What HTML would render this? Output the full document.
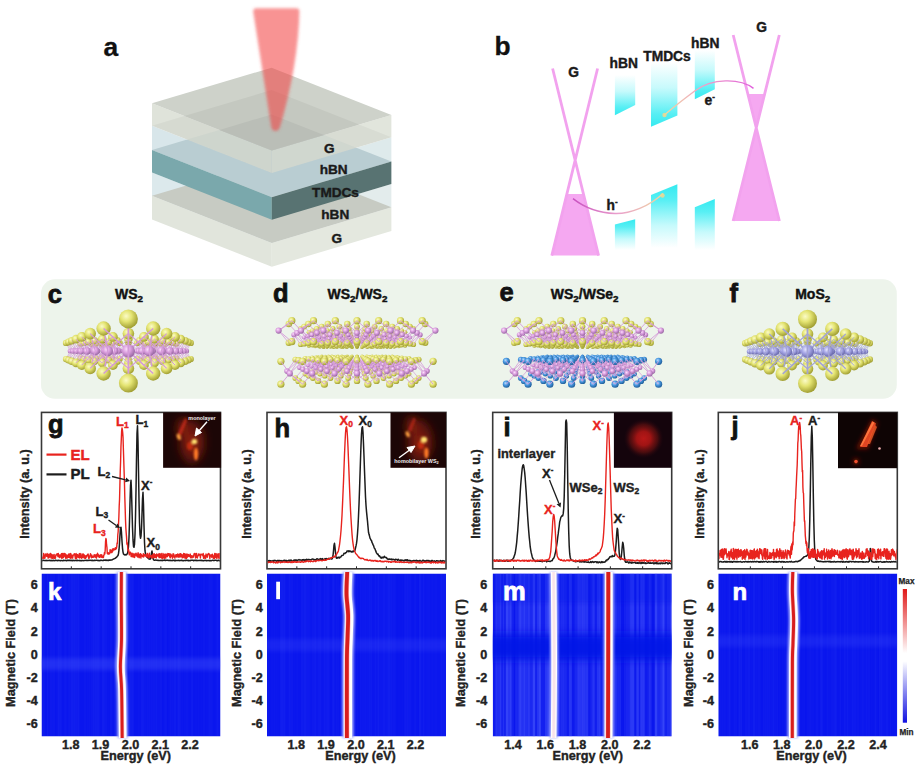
<!DOCTYPE html>
<html><head><meta charset="utf-8"><title>Figure</title>
<style>html,body{margin:0;padding:0;background:#fff;width:920px;height:768px;overflow:hidden;font-family:"Liberation Sans",sans-serif}svg{display:block}</style>
</head><body>
<svg width="920" height="768" viewBox="0 0 920 768">
<defs><linearGradient id="cyU" x1="0" y1="0" x2="0" y2="1"><stop offset="0" stop-color="#44eef4" stop-opacity="0"/><stop offset="0.4" stop-color="#44eef4" stop-opacity="0.3"/><stop offset="0.8" stop-color="#3aecf2" stop-opacity="0.85"/><stop offset="1" stop-color="#34eaf0"/></linearGradient><linearGradient id="cyD" x1="0" y1="0" x2="0" y2="1"><stop offset="0" stop-color="#34eaf0"/><stop offset="0.25" stop-color="#3aecf2" stop-opacity="0.85"/><stop offset="0.65" stop-color="#44eef4" stop-opacity="0.3"/><stop offset="1" stop-color="#44eef4" stop-opacity="0"/></linearGradient><linearGradient id="eArr" x1="1" y1="0" x2="0" y2="0"><stop offset="0" stop-color="#e060dc"/><stop offset="0.55" stop-color="#f0a0c8"/><stop offset="1" stop-color="#f0d8a0"/></linearGradient><linearGradient id="hArr" x1="0" y1="0" x2="1" y2="0"><stop offset="0" stop-color="#c850c0"/><stop offset="0.5" stop-color="#eaa0cc"/><stop offset="1" stop-color="#f0d8a0"/></linearGradient><filter id="ablur" filterUnits="userSpaceOnUse" x="200" y="0" width="150" height="160"><feGaussianBlur stdDeviation="1.6"/></filter></defs>
<polygon points="614.9,75 635.2,75 635.2,104.9 614.9,115.3" fill="url(#cyU)"/>
<polygon points="651,62 677.4,62 677.4,115.5 651,126.8" fill="url(#cyU)"/>
<polygon points="694.8,50 714.8,50 714.8,89.2 694.8,99.3" fill="url(#cyU)"/>
<polygon points="614.9,224.6 635.2,219.2 635.2,250 614.9,250" fill="url(#cyD)"/>
<polygon points="651,195 677.4,184.2 677.4,248 651,248" fill="url(#cyD)"/>
<polygon points="694.8,207.2 714.8,199 714.8,250 694.8,250" fill="url(#cyD)"/>
<polygon points="566.9,193.9 583.3,193.9 598.9,255.6 551.6,255.6" fill="#f5a8f1"/>
<path d="M552.6 68.5L598.6 255.6M597.6 68.5L551.8 255.6" stroke="#f2a2ee" stroke-width="2.8" fill="none"/>
<polygon points="748,93.9 765.6,93.9 756.3,128 779.5,221 733,221 756.1,128" fill="#f5a8f1"/>
<path d="M733.2 35L779.4 221M779.3 35L733.1 221" stroke="#f2a2ee" stroke-width="2.8" fill="none"/>
<path d="M753.5 88.4C740 78 712 78 694.7 91S670 110 664 115.5" stroke="url(#eArr)" stroke-width="1.4" fill="none"/>
<circle cx="664.5" cy="115" r="2.2" fill="#f0d890" opacity="0.85"/>
<path d="M573 198.6C585 208 600 213 615 213.5S650 206 663 193.5" stroke="url(#hArr)" stroke-width="1.4" fill="none"/>
<circle cx="662.5" cy="195.5" r="2.2" fill="#f0d890" opacity="0.85"/>
<text x="573.5" y="76.6" font-size="13.8" fill="#1a1a1a" stroke="#1a1a1a" stroke-width="0.41" text-anchor="middle" font-family="Liberation Sans, sans-serif" font-weight="bold" >G</text>
<text x="761.6" y="32.4" font-size="13.8" fill="#1a1a1a" stroke="#1a1a1a" stroke-width="0.41" text-anchor="middle" font-family="Liberation Sans, sans-serif" font-weight="bold" >G</text>
<text x="623.8" y="67.5" font-size="13.8" fill="#1a1a1a" stroke="#1a1a1a" stroke-width="0.41" text-anchor="middle" font-family="Liberation Sans, sans-serif" font-weight="bold" >hBN</text>
<text x="667" y="61.3" font-size="13.8" fill="#1a1a1a" stroke="#1a1a1a" stroke-width="0.41" text-anchor="middle" font-family="Liberation Sans, sans-serif" font-weight="bold" >TMDCs</text>
<text x="705.2" y="47.5" font-size="13.8" fill="#1a1a1a" stroke="#1a1a1a" stroke-width="0.41" text-anchor="middle" font-family="Liberation Sans, sans-serif" font-weight="bold" >hBN</text>
<text x="704.5" y="104.9" font-size="13.8" fill="#1a1a1a" stroke="#1a1a1a" stroke-width="0.41" text-anchor="start" font-family="Liberation Sans, sans-serif" font-weight="bold" >e<tspan font-size="8" dy="-6">-</tspan></text>
<text x="606.5" y="209.7" font-size="13.8" fill="#1a1a1a" stroke="#1a1a1a" stroke-width="0.41" text-anchor="start" font-family="Liberation Sans, sans-serif" font-weight="bold" >h<tspan font-size="8" dy="-6">-</tspan></text>
<text x="494.6" y="55.4" font-size="26.4" fill="#111" stroke="#111" stroke-width="0.3" text-anchor="start" font-family="Liberation Sans, sans-serif" font-weight="bold" >b</text>
<polygon points="152,195.7 271.8,242.9 271.8,219.7 152,172.5" fill="#dce9ec"/>
<polygon points="391.4,207.3 271.8,242.9 271.8,219.7 391.4,184.1" fill="#e3ecec"/>
<polygon points="152,219.5 271.8,266.7 271.8,242.9 152,195.7" fill="#e1e5dc"/>
<polygon points="391.4,231.1 271.8,266.7 271.8,242.9 391.4,207.3" fill="#e4e8df"/>
<polygon points="271.6,160.1 391.4,207.3 271.8,242.9 152,195.7" fill="#c7cbc3"/>
<polygon points="152,150 271.8,197.2 271.8,172.9 152,125.7" fill="#d8e6ea"/>
<polygon points="391.4,161.6 271.8,197.2 271.8,172.9 391.4,137.3" fill="#deeaeb"/>
<polygon points="271.6,114.4 391.4,161.6 271.8,197.2 152,150" fill="#b9cdd2"/>
<polygon points="152,172.5 271.8,219.7 271.8,197.2 152,150" fill="#7aa8ac"/>
<polygon points="391.4,184.1 271.8,219.7 271.8,197.2 391.4,161.6" fill="#587372"/>
<polygon points="152,125.7 271.8,172.9 271.8,150.5 152,103.3" fill="#dfe3da"/>
<polygon points="391.4,137.3 271.8,172.9 271.8,150.5 391.4,114.9" fill="#e1e5dc"/>
<polygon points="152,125.7 184.39,116.06 271.8,150.5 271.8,172.9 271.8,172.9" fill="#000" fill-opacity="0.04"/>
<polygon points="271.8,150.5 359.01,124.54 391.4,137.3 271.8,172.9 271.8,172.9" fill="#000" fill-opacity="0.04"/>
<polygon points="219.52,129.9 271.8,150.5 271.8,172.9 187.13,139.54" fill="#5a8a96" fill-opacity="0.06"/>
<polygon points="323.88,135 356.27,147.76 271.8,172.9 271.8,150.5" fill="#5a8a96" fill-opacity="0.06"/>
<polygon points="271.6,67.7 391.4,114.9 271.8,150.5 152,103.3" fill="#ced2ca"/>
<polygon points="271.6,90.1 359.01,124.54 271.8,150.5 184.39,116.06" fill="#c4c8c0"/>
<polygon points="271.6,114.4 323.88,135 271.8,150.5 219.52,129.9" fill="#babeb7"/>
<path d="M253.2 11.5Q253 8.2 256.5 8.2L296 8.2Q299.5 8.2 299.4 11.5C298.8 45 292 88 279.5 128.5Q275.5 133.5 271.5 128.5Z" fill="#f23c3c" fill-opacity="0.56" filter="url(#ablur)"/>
<text x="329.3" y="152.5" font-size="13.6" fill="#1a1a1a" stroke="#1a1a1a" stroke-width="0.41" text-anchor="middle" font-family="Liberation Sans, sans-serif" font-weight="bold" >G</text>
<text x="333.7" y="174.2" font-size="13.6" fill="#1a1a1a" stroke="#1a1a1a" stroke-width="0.41" text-anchor="middle" font-family="Liberation Sans, sans-serif" font-weight="bold" >hBN</text>
<text x="335.5" y="196.6" font-size="13.6" fill="#1a1a1a" stroke="#1a1a1a" stroke-width="0.41" text-anchor="middle" font-family="Liberation Sans, sans-serif" font-weight="bold" >TMDCs</text>
<text x="335.3" y="219.4" font-size="13.6" fill="#1a1a1a" stroke="#1a1a1a" stroke-width="0.41" text-anchor="middle" font-family="Liberation Sans, sans-serif" font-weight="bold" >hBN</text>
<text x="336.8" y="243.2" font-size="13.6" fill="#1a1a1a" stroke="#1a1a1a" stroke-width="0.41" text-anchor="middle" font-family="Liberation Sans, sans-serif" font-weight="bold" >G</text>
<text x="103.4" y="55.8" font-size="26.4" fill="#111" stroke="#111" stroke-width="0.3" text-anchor="start" font-family="Liberation Sans, sans-serif" font-weight="bold" >a</text>
<defs><radialGradient id="bY" cx="0.38" cy="0.35" r="0.65"><stop offset="0" stop-color="#fbfbc8"/><stop offset="0.45" stop-color="#e4e472"/><stop offset="1" stop-color="#a2a034"/></radialGradient><radialGradient id="bP" cx="0.38" cy="0.35" r="0.65"><stop offset="0" stop-color="#fbe0fb"/><stop offset="0.45" stop-color="#dca0e0"/><stop offset="1" stop-color="#9c6aa6"/></radialGradient><radialGradient id="bL" cx="0.38" cy="0.35" r="0.65"><stop offset="0" stop-color="#e8e8ff"/><stop offset="0.45" stop-color="#a8a8e8"/><stop offset="1" stop-color="#6c6cae"/></radialGradient><radialGradient id="bB" cx="0.38" cy="0.35" r="0.65"><stop offset="0" stop-color="#b8dcff"/><stop offset="0.45" stop-color="#4898e0"/><stop offset="1" stop-color="#21609c"/></radialGradient></defs>
<rect x="41" y="279.3" width="855.8" height="119.5" rx="14" ry="14" fill="#edf4eb"/>
<text x="47.8" y="302.5" font-size="25.5" fill="#111" stroke="#111" stroke-width="0.77" text-anchor="start" font-family="Liberation Sans, sans-serif" font-weight="bold" >c</text>
<text x="273" y="301.5" font-size="25.5" fill="#111" stroke="#111" stroke-width="0.77" text-anchor="start" font-family="Liberation Sans, sans-serif" font-weight="bold" >d</text>
<text x="499.5" y="300.5" font-size="25.5" fill="#111" stroke="#111" stroke-width="0.77" text-anchor="start" font-family="Liberation Sans, sans-serif" font-weight="bold" >e</text>
<text x="729.5" y="301.5" font-size="25.5" fill="#111" stroke="#111" stroke-width="0.77" text-anchor="start" font-family="Liberation Sans, sans-serif" font-weight="bold" >f</text>
<text x="115" y="299.4" font-size="14" fill="#111" stroke="#111" stroke-width="0.42" text-anchor="start" font-family="Liberation Sans, sans-serif" font-weight="bold" >WS<tspan font-size="9.8" dy="3">2</tspan></text>
<text x="327.5" y="299.4" font-size="14" fill="#111" stroke="#111" stroke-width="0.42" text-anchor="start" font-family="Liberation Sans, sans-serif" font-weight="bold" >WS<tspan font-size="9.8" dy="3">2</tspan><tspan dy="-3">/WS</tspan><tspan font-size="9.8" dy="3">2</tspan></text>
<text x="550.8" y="299.4" font-size="14" fill="#111" stroke="#111" stroke-width="0.42" text-anchor="start" font-family="Liberation Sans, sans-serif" font-weight="bold" >WS<tspan font-size="9.8" dy="3">2</tspan><tspan dy="-3">/WSe</tspan><tspan font-size="9.8" dy="3">2</tspan></text>
<text x="795.2" y="299.2" font-size="14" fill="#111" stroke="#111" stroke-width="0.42" text-anchor="start" font-family="Liberation Sans, sans-serif" font-weight="bold" >MoS<tspan font-size="9.8" dy="3">2</tspan></text>
<g fill="url(#bP)"><circle cx="154" cy="351" r="2.1"/><circle cx="102.8" cy="351" r="2.1"/></g>
<path fill="none" stroke="#d49ad8" stroke-width="0.5" d="M154 351L155.4 344.9M154 351L155.4 357.1M102.8 351L101.4 344.9M102.8 351L101.4 357.1"/>
<g fill="url(#bY)"><circle cx="155.4" cy="344.9" r="2.5"/><circle cx="155.4" cy="357.1" r="2.5"/><circle cx="101.4" cy="344.9" r="2.5"/><circle cx="101.4" cy="357.1" r="2.5"/></g>
<path fill="none" stroke="#d49ad8" stroke-width="0.5" d="M163 351L155.4 344.9M163 351L155.4 357.1M149.2 351L155.4 344.9M149.2 351L155.4 357.1M107.6 351L101.4 344.9M107.6 351L101.4 357.1M93.8 351L101.4 344.9M93.8 351L101.4 357.1"/>
<g fill="url(#bP)"><circle cx="163" cy="351" r="2.2"/><circle cx="149.2" cy="351" r="2.2"/><circle cx="107.6" cy="351" r="2.2"/><circle cx="93.8" cy="351" r="2.2"/></g>
<path fill="none" stroke="#d49ad8" stroke-width="0.5" d="M163 351L165.1 344.3M163 351L165.1 357.7M149.2 351L150.4 344.3M149.2 351L150.4 357.7M107.6 351L106.4 344.3M107.6 351L106.4 357.7M93.8 351L91.7 344.3M93.8 351L91.7 357.7"/>
<g fill="url(#bY)"><circle cx="165.1" cy="344.3" r="2.7"/><circle cx="165.1" cy="357.7" r="2.7"/><circle cx="150.4" cy="344.3" r="2.7"/><circle cx="150.4" cy="357.7" r="2.7"/><circle cx="106.4" cy="344.3" r="2.7"/><circle cx="106.4" cy="357.7" r="2.7"/><circle cx="91.7" cy="344.3" r="2.7"/><circle cx="91.7" cy="357.7" r="2.7"/></g>
<path fill="none" stroke="#d49ad8" stroke-width="0.6" d="M173.7 351L165.1 344.3M173.7 351L165.1 357.7M158.6 351L150.4 344.3M158.6 351L150.4 357.7M158.6 351L165.1 344.3M158.6 351L165.1 357.7M143.5 351L150.4 344.3M143.5 351L150.4 357.7M113.3 351L106.4 344.3M113.3 351L106.4 357.7M98.2 351L91.7 344.3M98.2 351L91.7 357.7M98.2 351L106.4 344.3M98.2 351L106.4 357.7M83.1 351L91.7 344.3M83.1 351L91.7 357.7"/>
<g fill="url(#bP)"><circle cx="173.7" cy="351" r="2.3"/><circle cx="158.6" cy="351" r="2.3"/><circle cx="143.5" cy="351" r="2.3"/><circle cx="113.3" cy="351" r="2.3"/><circle cx="98.2" cy="351" r="2.3"/><circle cx="83.1" cy="351" r="2.3"/></g>
<path fill="none" stroke="#d49ad8" stroke-width="0.6" d="M173.7 351L176.6 343.7M173.7 351L176.6 358.3M158.6 351L160.6 343.7M158.6 351L160.6 358.3M143.5 351L144.5 343.7M143.5 351L144.5 358.3M113.3 351L112.3 343.7M113.3 351L112.3 358.3M98.2 351L96.2 343.7M98.2 351L96.2 358.3M83.1 351L80.2 343.7M83.1 351L80.2 358.3"/>
<g fill="url(#bY)"><circle cx="176.6" cy="343.7" r="2.9"/><circle cx="176.6" cy="358.3" r="2.9"/><circle cx="160.6" cy="343.7" r="2.9"/><circle cx="160.6" cy="358.3" r="2.9"/><circle cx="144.5" cy="343.7" r="2.9"/><circle cx="144.5" cy="358.3" r="2.9"/><circle cx="112.3" cy="343.7" r="2.9"/><circle cx="112.3" cy="358.3" r="2.9"/><circle cx="96.2" cy="343.7" r="2.9"/><circle cx="96.2" cy="358.3" r="2.9"/><circle cx="80.2" cy="343.7" r="2.9"/><circle cx="80.2" cy="358.3" r="2.9"/></g>
<path fill="none" stroke="#d49ad8" stroke-width="0.6" d="M186.6 351L176.6 343.7M186.6 351L176.6 358.3M169.9 351L160.6 343.7M169.9 351L160.6 358.3M169.9 351L176.6 343.7M169.9 351L176.6 358.3M153.3 351L144.5 343.7M153.3 351L144.5 358.3M153.3 351L160.6 343.7M153.3 351L160.6 358.3M136.7 351L144.5 343.7M136.7 351L144.5 358.3M120.1 351L112.3 343.7M120.1 351L112.3 358.3M103.5 351L96.2 343.7M103.5 351L96.2 358.3M103.5 351L112.3 343.7M103.5 351L112.3 358.3M86.9 351L80.2 343.7M86.9 351L80.2 358.3M86.9 351L96.2 343.7M86.9 351L96.2 358.3M70.2 351L80.2 343.7M70.2 351L80.2 358.3"/>
<g fill="url(#bP)"><circle cx="186.6" cy="351" r="2.5"/><circle cx="169.9" cy="351" r="2.5"/><circle cx="153.3" cy="351" r="2.5"/><circle cx="136.7" cy="351" r="2.5"/><circle cx="120.1" cy="351" r="2.5"/><circle cx="103.5" cy="351" r="2.5"/><circle cx="86.9" cy="351" r="2.5"/><circle cx="70.2" cy="351" r="2.5"/></g>
<path fill="none" stroke="#d49ad8" stroke-width="0.6" d="M186.6 351L190.7 342.9M186.6 351L190.7 359.1M169.9 351L172.9 342.9M169.9 351L172.9 359.1M153.3 351L155.1 342.9M153.3 351L155.1 359.1M136.7 351L137.3 342.9M136.7 351L137.3 359.1M120.1 351L119.5 342.9M120.1 351L119.5 359.1M103.5 351L101.7 342.9M103.5 351L101.7 359.1M86.9 351L83.9 342.9M86.9 351L83.9 359.1M70.2 351L66.1 342.9M70.2 351L66.1 359.1"/>
<g fill="url(#bY)"><circle cx="190.7" cy="342.9" r="3.2"/><circle cx="190.7" cy="359.1" r="3.2"/><circle cx="172.9" cy="342.9" r="3.2"/><circle cx="172.9" cy="359.1" r="3.2"/><circle cx="155.1" cy="342.9" r="3.2"/><circle cx="155.1" cy="359.1" r="3.2"/><circle cx="101.7" cy="342.9" r="3.2"/><circle cx="101.7" cy="359.1" r="3.2"/><circle cx="83.9" cy="342.9" r="3.2"/><circle cx="83.9" cy="359.1" r="3.2"/><circle cx="66.1" cy="342.9" r="3.2"/><circle cx="66.1" cy="359.1" r="3.2"/><circle cx="137.3" cy="342.9" r="3.2"/><circle cx="137.3" cy="359.1" r="3.2"/><circle cx="119.5" cy="342.9" r="3.2"/><circle cx="119.5" cy="359.1" r="3.2"/></g>
<path fill="none" stroke="#d49ad8" stroke-width="0.7" d="M183.8 351L172.9 342.9M183.8 351L172.9 359.1M183.8 351L190.7 342.9M183.8 351L190.7 359.1M165.3 351L155.1 342.9M165.3 351L155.1 359.1M165.3 351L172.9 342.9M165.3 351L172.9 359.1M146.9 351L137.3 342.9M146.9 351L137.3 359.1M146.9 351L155.1 342.9M146.9 351L155.1 359.1M128.4 351L119.5 342.9M128.4 351L119.5 359.1M128.4 351L137.3 342.9M128.4 351L137.3 359.1M109.9 351L101.7 342.9M109.9 351L101.7 359.1M109.9 351L119.5 342.9M109.9 351L119.5 359.1M91.5 351L83.9 342.9M91.5 351L83.9 359.1M91.5 351L101.7 342.9M91.5 351L101.7 359.1M73 351L66.1 342.9M73 351L66.1 359.1M73 351L83.9 342.9M73 351L83.9 359.1"/>
<g fill="url(#bP)"><circle cx="183.8" cy="351" r="2.8"/><circle cx="165.3" cy="351" r="2.8"/><circle cx="146.9" cy="351" r="2.8"/><circle cx="128.4" cy="351" r="2.8"/><circle cx="109.9" cy="351" r="2.8"/><circle cx="91.5" cy="351" r="2.8"/><circle cx="73" cy="351" r="2.8"/></g>
<path fill="none" stroke="#d49ad8" stroke-width="0.7" d="M183.8 351L188.2 341.9M183.8 351L188.2 360.1M165.3 351L168.3 341.9M165.3 351L168.3 360.1M146.9 351L148.3 341.9M146.9 351L148.3 360.1M128.4 351L128.4 341.9M128.4 351L128.4 360.1M109.9 351L108.5 341.9M109.9 351L108.5 360.1M91.5 351L88.5 341.9M91.5 351L88.5 360.1M73 351L68.6 341.9M73 351L68.6 360.1"/>
<g fill="url(#bY)"><circle cx="188.2" cy="341.9" r="3.5"/><circle cx="188.2" cy="360.1" r="3.5"/><circle cx="168.3" cy="341.9" r="3.5"/><circle cx="168.3" cy="360.1" r="3.5"/><circle cx="88.5" cy="341.9" r="3.5"/><circle cx="88.5" cy="360.1" r="3.5"/><circle cx="68.6" cy="341.9" r="3.5"/><circle cx="68.6" cy="360.1" r="3.5"/><circle cx="148.3" cy="341.9" r="3.5"/><circle cx="148.3" cy="360.1" r="3.5"/><circle cx="128.4" cy="341.9" r="3.5"/><circle cx="128.4" cy="360.1" r="3.5"/><circle cx="108.5" cy="341.9" r="3.5"/><circle cx="108.5" cy="360.1" r="3.5"/></g>
<path fill="none" stroke="#d49ad8" stroke-width="0.7" d="M180.3 351L168.3 341.9M180.3 351L168.3 360.1M180.3 351L188.2 341.9M180.3 351L188.2 360.1M159.5 351L148.3 341.9M159.5 351L148.3 360.1M159.5 351L168.3 341.9M159.5 351L168.3 360.1M138.8 351L128.4 341.9M138.8 351L128.4 360.1M138.8 351L148.3 341.9M138.8 351L148.3 360.1M118 351L108.5 341.9M118 351L108.5 360.1M118 351L128.4 341.9M118 351L128.4 360.1M97.3 351L88.5 341.9M97.3 351L88.5 360.1M97.3 351L108.5 341.9M97.3 351L108.5 360.1M76.5 351L68.6 341.9M76.5 351L68.6 360.1M76.5 351L88.5 341.9M76.5 351L88.5 360.1"/>
<g fill="url(#bP)"><circle cx="180.3" cy="351" r="3"/><circle cx="159.5" cy="351" r="3"/><circle cx="138.8" cy="351" r="3"/><circle cx="118" cy="351" r="3"/><circle cx="97.3" cy="351" r="3"/><circle cx="76.5" cy="351" r="3"/></g>
<path fill="none" stroke="#d49ad8" stroke-width="0.8" d="M180.3 351L185 340.7M180.3 351L185 361.3M159.5 351L162.4 340.7M159.5 351L162.4 361.3M138.8 351L139.7 340.7M138.8 351L139.7 361.3M118 351L117.1 340.7M118 351L117.1 361.3M97.3 351L94.4 340.7M97.3 351L94.4 361.3M76.5 351L71.8 340.7M76.5 351L71.8 361.3"/>
<g fill="url(#bY)"><circle cx="185" cy="340.7" r="3.8"/><circle cx="185" cy="361.3" r="3.8"/><circle cx="71.8" cy="340.7" r="3.8"/><circle cx="71.8" cy="361.3" r="3.8"/><circle cx="162.4" cy="340.7" r="3.8"/><circle cx="162.4" cy="361.3" r="3.8"/><circle cx="139.7" cy="340.7" r="3.8"/><circle cx="139.7" cy="361.3" r="3.8"/><circle cx="117.1" cy="340.7" r="3.8"/><circle cx="117.1" cy="361.3" r="3.8"/><circle cx="94.4" cy="340.7" r="3.8"/><circle cx="94.4" cy="361.3" r="3.8"/></g>
<path fill="none" stroke="#d49ad8" stroke-width="0.8" d="M175.8 351L162.4 340.7M175.8 351L162.4 361.3M175.8 351L185 340.7M175.8 351L185 361.3M152.1 351L139.7 340.7M152.1 351L139.7 361.3M152.1 351L162.4 340.7M152.1 351L162.4 361.3M128.4 351L117.1 340.7M128.4 351L117.1 361.3M128.4 351L139.7 340.7M128.4 351L139.7 361.3M104.7 351L94.4 340.7M104.7 351L94.4 361.3M104.7 351L117.1 340.7M104.7 351L117.1 361.3M81 351L71.8 340.7M81 351L71.8 361.3M81 351L94.4 340.7M81 351L94.4 361.3"/>
<g fill="url(#bP)"><circle cx="175.8" cy="351" r="3.4"/><circle cx="152.1" cy="351" r="3.4"/><circle cx="128.4" cy="351" r="3.4"/><circle cx="104.7" cy="351" r="3.4"/><circle cx="81" cy="351" r="3.4"/></g>
<path fill="none" stroke="#d49ad8" stroke-width="0.8" d="M175.8 351L180.8 339.1M175.8 351L180.8 362.9M152.1 351L154.6 339.1M152.1 351L154.6 362.9M128.4 351L128.4 339.1M128.4 351L128.4 362.9M104.7 351L102.2 339.1M104.7 351L102.2 362.9M81 351L76 339.1M81 351L76 362.9"/>
<g fill="url(#bY)"><circle cx="128.4" cy="339.1" r="4.3"/><circle cx="128.4" cy="362.9" r="4.3"/><circle cx="180.8" cy="339.1" r="4.3"/><circle cx="180.8" cy="362.9" r="4.3"/><circle cx="154.6" cy="339.1" r="4.3"/><circle cx="154.6" cy="362.9" r="4.3"/><circle cx="102.2" cy="339.1" r="4.3"/><circle cx="102.2" cy="362.9" r="4.3"/><circle cx="76" cy="339.1" r="4.3"/><circle cx="76" cy="362.9" r="4.3"/></g>
<path fill="none" stroke="#d49ad8" stroke-width="0.9" d="M169.9 351L154.6 339.1M169.9 351L154.6 362.9M169.9 351L180.8 339.1M169.9 351L180.8 362.9M142.2 351L128.4 339.1M142.2 351L128.4 362.9M142.2 351L154.6 339.1M142.2 351L154.6 362.9M114.6 351L102.2 339.1M114.6 351L102.2 362.9M114.6 351L128.4 339.1M114.6 351L128.4 362.9M86.9 351L76 339.1M86.9 351L76 362.9M86.9 351L102.2 339.1M86.9 351L102.2 362.9"/>
<g fill="url(#bP)"><circle cx="169.9" cy="351" r="3.8"/><circle cx="142.2" cy="351" r="3.8"/><circle cx="114.6" cy="351" r="3.8"/><circle cx="86.9" cy="351" r="3.8"/></g>
<path fill="none" stroke="#d49ad8" stroke-width="1" d="M169.9 351L175 336.9M169.9 351L175 365.1M142.2 351L143.9 336.9M142.2 351L143.9 365.1M114.6 351L112.9 336.9M114.6 351L112.9 365.1M86.9 351L81.8 336.9M86.9 351L81.8 365.1"/>
<g fill="url(#bY)"><circle cx="175" cy="336.9" r="4.9"/><circle cx="175" cy="365.1" r="4.9"/><circle cx="143.9" cy="336.9" r="4.9"/><circle cx="143.9" cy="365.1" r="4.9"/><circle cx="112.9" cy="336.9" r="4.9"/><circle cx="112.9" cy="365.1" r="4.9"/><circle cx="81.8" cy="336.9" r="4.9"/><circle cx="81.8" cy="365.1" r="4.9"/></g>
<path fill="none" stroke="#d49ad8" stroke-width="1" d="M161.5 351L143.9 336.9M161.5 351L143.9 365.1M161.5 351L175 336.9M161.5 351L175 365.1M128.4 351L112.9 336.9M128.4 351L112.9 365.1M128.4 351L143.9 336.9M128.4 351L143.9 365.1M95.3 351L81.8 336.9M95.3 351L81.8 365.1M95.3 351L112.9 336.9M95.3 351L112.9 365.1"/>
<g fill="url(#bP)"><circle cx="161.5" cy="351" r="4.4"/><circle cx="128.4" cy="351" r="4.4"/><circle cx="95.3" cy="351" r="4.4"/></g>
<path fill="none" stroke="#d49ad8" stroke-width="1.1" d="M161.5 351L166.6 333.6M161.5 351L166.6 368.4M128.4 351L128.4 333.6M128.4 351L128.4 368.4M95.3 351L90.2 333.6M95.3 351L90.2 368.4"/>
<g fill="url(#bY)"><circle cx="166.6" cy="333.6" r="5.8"/><circle cx="166.6" cy="368.4" r="5.8"/><circle cx="128.4" cy="333.6" r="5.8"/><circle cx="128.4" cy="368.4" r="5.8"/><circle cx="90.2" cy="333.6" r="5.8"/><circle cx="90.2" cy="368.4" r="5.8"/></g>
<path fill="none" stroke="#d49ad8" stroke-width="1.2" d="M149.1 351L128.4 333.6M149.1 351L128.4 368.4M149.1 351L166.6 333.6M149.1 351L166.6 368.4M107.7 351L90.2 333.6M107.7 351L90.2 368.4M107.7 351L128.4 333.6M107.7 351L128.4 368.4"/>
<g fill="url(#bP)"><circle cx="149.1" cy="351" r="5.3"/><circle cx="107.7" cy="351" r="5.3"/></g>
<path fill="none" stroke="#d49ad8" stroke-width="1.4" d="M149.1 351L153.2 328.5M149.1 351L153.2 373.5M107.7 351L103.6 328.5M107.7 351L103.6 373.5"/>
<g fill="url(#bY)"><circle cx="153.2" cy="328.5" r="7.2"/><circle cx="153.2" cy="373.5" r="7.2"/><circle cx="103.6" cy="328.5" r="7.2"/><circle cx="103.6" cy="373.5" r="7.2"/></g>
<path fill="none" stroke="#d49ad8" stroke-width="1.5" d="M128.4 351L103.6 328.5M128.4 351L103.6 373.5M128.4 351L153.2 328.5M128.4 351L153.2 373.5"/>
<g fill="url(#bP)"><circle cx="128.4" cy="351" r="6.6"/></g>
<path fill="none" stroke="#d49ad8" stroke-width="1.8" d="M128.4 351L128.4 318.9M128.4 351L128.4 383.1"/>
<g fill="url(#bY)"><circle cx="128.4" cy="318.9" r="9.5"/><circle cx="128.4" cy="383.1" r="9.5"/></g>
<g fill="url(#bY)"><circle cx="323.6" cy="338.3" r="1.6"/><circle cx="323.6" cy="347.5" r="1.6"/><circle cx="333.2" cy="338.3" r="1.6"/><circle cx="333.2" cy="347.5" r="1.6"/><circle cx="342.7" cy="338.3" r="1.6"/><circle cx="342.7" cy="347.5" r="1.6"/><circle cx="352.2" cy="338.3" r="1.6"/><circle cx="352.2" cy="347.5" r="1.6"/><circle cx="361.8" cy="338.3" r="1.6"/><circle cx="361.8" cy="347.5" r="1.6"/><circle cx="371.3" cy="338.3" r="1.6"/><circle cx="371.3" cy="347.5" r="1.6"/><circle cx="380.8" cy="338.3" r="1.6"/><circle cx="380.8" cy="347.5" r="1.6"/><circle cx="390.4" cy="338.3" r="1.6"/><circle cx="390.4" cy="347.5" r="1.6"/><circle cx="328.4" cy="356.1" r="1.6"/><circle cx="328.4" cy="366.1" r="1.6"/><circle cx="337.9" cy="356.1" r="1.6"/><circle cx="337.9" cy="366.1" r="1.6"/><circle cx="347.5" cy="356.1" r="1.6"/><circle cx="347.5" cy="366.1" r="1.6"/><circle cx="357" cy="356.1" r="1.6"/><circle cx="357" cy="366.1" r="1.6"/><circle cx="366.5" cy="356.1" r="1.6"/><circle cx="366.5" cy="366.1" r="1.6"/><circle cx="376.1" cy="356.1" r="1.6"/><circle cx="376.1" cy="366.1" r="1.6"/><circle cx="385.6" cy="356.1" r="1.6"/><circle cx="385.6" cy="366.1" r="1.6"/></g>
<path fill="none" stroke="#d49ad8" stroke-width="0.5" d="M328 342.8L323.6 338.3M328 342.8L323.6 347.5M328 342.8L333.2 338.3M328 342.8L333.2 347.5M337.7 342.8L333.2 338.3M337.7 342.8L333.2 347.5M337.7 342.8L342.7 338.3M337.7 342.8L342.7 347.5M347.3 342.8L342.7 338.3M347.3 342.8L342.7 347.5M347.3 342.8L352.2 338.3M347.3 342.8L352.2 347.5M357 342.8L352.2 338.3M357 342.8L352.2 347.5M357 342.8L361.8 338.3M357 342.8L361.8 347.5M366.7 342.8L361.8 338.3M366.7 342.8L361.8 347.5M366.7 342.8L371.3 338.3M366.7 342.8L371.3 347.5M376.3 342.8L371.3 338.3M376.3 342.8L371.3 347.5M376.3 342.8L380.8 338.3M376.3 342.8L380.8 347.5M386 342.8L380.8 338.3M386 342.8L380.8 347.5M386 342.8L390.4 338.3M386 342.8L390.4 347.5M323.2 361.2L328.4 356.1M323.2 361.2L328.4 366.1M332.9 361.2L328.4 356.1M332.9 361.2L328.4 366.1M332.9 361.2L337.9 356.1M332.9 361.2L337.9 366.1M342.5 361.2L337.9 356.1M342.5 361.2L337.9 366.1M342.5 361.2L347.5 356.1M342.5 361.2L347.5 366.1M352.2 361.2L347.5 356.1M352.2 361.2L347.5 366.1M352.2 361.2L357 356.1M352.2 361.2L357 366.1M361.8 361.2L357 356.1M361.8 361.2L357 366.1M361.8 361.2L366.5 356.1M361.8 361.2L366.5 366.1M371.5 361.2L366.5 356.1M371.5 361.2L366.5 366.1M371.5 361.2L376.1 356.1M371.5 361.2L376.1 366.1M381.1 361.2L376.1 356.1M381.1 361.2L376.1 366.1M381.1 361.2L385.6 356.1M381.1 361.2L385.6 366.1M390.8 361.2L385.6 356.1M390.8 361.2L385.6 366.1"/>
<g fill="url(#bP)"><circle cx="328" cy="342.8" r="1.3"/><circle cx="337.7" cy="342.8" r="1.3"/><circle cx="347.3" cy="342.8" r="1.3"/><circle cx="357" cy="342.8" r="1.3"/><circle cx="366.7" cy="342.8" r="1.3"/><circle cx="376.3" cy="342.8" r="1.3"/><circle cx="386" cy="342.8" r="1.3"/><circle cx="323.2" cy="361.2" r="1.3"/><circle cx="332.9" cy="361.2" r="1.3"/><circle cx="342.5" cy="361.2" r="1.3"/><circle cx="352.2" cy="361.2" r="1.3"/><circle cx="361.8" cy="361.2" r="1.3"/><circle cx="371.5" cy="361.2" r="1.3"/><circle cx="381.1" cy="361.2" r="1.3"/><circle cx="390.8" cy="361.2" r="1.3"/></g>
<path fill="none" stroke="#d49ad8" stroke-width="0.5" d="M321.4 342.3L323.6 338.3M321.4 342.3L323.6 347.5M331.5 342.3L333.2 338.3M331.5 342.3L333.2 347.5M341.7 342.3L342.7 338.3M341.7 342.3L342.7 347.5M351.9 342.3L352.2 338.3M351.9 342.3L352.2 347.5M362.1 342.3L361.8 338.3M362.1 342.3L361.8 347.5M372.3 342.3L371.3 338.3M372.3 342.3L371.3 347.5M382.5 342.3L380.8 338.3M382.5 342.3L380.8 347.5M392.6 342.3L390.4 338.3M392.6 342.3L390.4 347.5M326.5 361.7L328.4 356.1M326.5 361.7L328.4 366.1M336.6 361.7L337.9 356.1M336.6 361.7L337.9 366.1M346.8 361.7L347.5 356.1M346.8 361.7L347.5 366.1M357 361.7L357 356.1M357 361.7L357 366.1M367.2 361.7L366.5 356.1M367.2 361.7L366.5 366.1M377.4 361.7L376.1 356.1M377.4 361.7L376.1 366.1M387.5 361.7L385.6 356.1M387.5 361.7L385.6 366.1"/>
<g fill="url(#bY)"><circle cx="326.9" cy="337.6" r="1.7"/><circle cx="326.9" cy="347.2" r="1.7"/><circle cx="336.9" cy="337.6" r="1.7"/><circle cx="336.9" cy="347.2" r="1.7"/><circle cx="347" cy="337.6" r="1.7"/><circle cx="347" cy="347.2" r="1.7"/><circle cx="357" cy="337.6" r="1.7"/><circle cx="357" cy="347.2" r="1.7"/><circle cx="367" cy="337.6" r="1.7"/><circle cx="367" cy="347.2" r="1.7"/><circle cx="377.1" cy="337.6" r="1.7"/><circle cx="377.1" cy="347.2" r="1.7"/><circle cx="387.1" cy="337.6" r="1.7"/><circle cx="387.1" cy="347.2" r="1.7"/><circle cx="321.8" cy="356.3" r="1.7"/><circle cx="321.8" cy="366.9" r="1.7"/><circle cx="331.9" cy="356.3" r="1.7"/><circle cx="331.9" cy="366.9" r="1.7"/><circle cx="341.9" cy="356.3" r="1.7"/><circle cx="341.9" cy="366.9" r="1.7"/><circle cx="352" cy="356.3" r="1.7"/><circle cx="352" cy="366.9" r="1.7"/><circle cx="362" cy="356.3" r="1.7"/><circle cx="362" cy="366.9" r="1.7"/><circle cx="372.1" cy="356.3" r="1.7"/><circle cx="372.1" cy="366.9" r="1.7"/><circle cx="382.1" cy="356.3" r="1.7"/><circle cx="382.1" cy="366.9" r="1.7"/><circle cx="392.2" cy="356.3" r="1.7"/><circle cx="392.2" cy="366.9" r="1.7"/></g>
<path fill="none" stroke="#d49ad8" stroke-width="0.5" d="M321.4 342.3L326.9 337.6M321.4 342.3L326.9 347.2M331.5 342.3L326.9 337.6M331.5 342.3L326.9 347.2M331.5 342.3L336.9 337.6M331.5 342.3L336.9 347.2M341.7 342.3L336.9 337.6M341.7 342.3L336.9 347.2M341.7 342.3L347 337.6M341.7 342.3L347 347.2M351.9 342.3L347 337.6M351.9 342.3L347 347.2M351.9 342.3L357 337.6M351.9 342.3L357 347.2M362.1 342.3L357 337.6M362.1 342.3L357 347.2M362.1 342.3L367 337.6M362.1 342.3L367 347.2M372.3 342.3L367 337.6M372.3 342.3L367 347.2M372.3 342.3L377.1 337.6M372.3 342.3L377.1 347.2M382.5 342.3L377.1 337.6M382.5 342.3L377.1 347.2M382.5 342.3L387.1 337.6M382.5 342.3L387.1 347.2M392.6 342.3L387.1 337.6M392.6 342.3L387.1 347.2M326.5 361.7L321.8 356.3M326.5 361.7L321.8 366.9M326.5 361.7L331.9 356.3M326.5 361.7L331.9 366.9M336.6 361.7L331.9 356.3M336.6 361.7L331.9 366.9M336.6 361.7L341.9 356.3M336.6 361.7L341.9 366.9M346.8 361.7L341.9 356.3M346.8 361.7L341.9 366.9M346.8 361.7L352 356.3M346.8 361.7L352 366.9M357 361.7L352 356.3M357 361.7L352 366.9M357 361.7L362 356.3M357 361.7L362 366.9M367.2 361.7L362 356.3M367.2 361.7L362 366.9M367.2 361.7L372.1 356.3M367.2 361.7L372.1 366.9M377.4 361.7L372.1 356.3M377.4 361.7L372.1 366.9M377.4 361.7L382.1 356.3M377.4 361.7L382.1 366.9M387.5 361.7L382.1 356.3M387.5 361.7L382.1 366.9M387.5 361.7L392.2 356.3M387.5 361.7L392.2 366.9"/>
<g fill="url(#bP)"><circle cx="321.4" cy="342.3" r="1.4"/><circle cx="331.5" cy="342.3" r="1.4"/><circle cx="341.7" cy="342.3" r="1.4"/><circle cx="351.9" cy="342.3" r="1.4"/><circle cx="362.1" cy="342.3" r="1.4"/><circle cx="372.3" cy="342.3" r="1.4"/><circle cx="382.5" cy="342.3" r="1.4"/><circle cx="392.6" cy="342.3" r="1.4"/><circle cx="326.5" cy="361.7" r="1.4"/><circle cx="336.6" cy="361.7" r="1.4"/><circle cx="346.8" cy="361.7" r="1.4"/><circle cx="357" cy="361.7" r="1.4"/><circle cx="367.2" cy="361.7" r="1.4"/><circle cx="377.4" cy="361.7" r="1.4"/><circle cx="387.5" cy="361.7" r="1.4"/></g>
<path fill="none" stroke="#d49ad8" stroke-width="0.5" d="M324.7 341.7L326.9 337.6M324.7 341.7L326.9 347.2M335.5 341.7L336.9 337.6M335.5 341.7L336.9 347.2M346.2 341.7L347 337.6M346.2 341.7L347 347.2M357 341.7L357 337.6M357 341.7L357 347.2M367.8 341.7L367 337.6M367.8 341.7L367 347.2M378.5 341.7L377.1 337.6M378.5 341.7L377.1 347.2M389.3 341.7L387.1 337.6M389.3 341.7L387.1 347.2M319.3 362.3L321.8 356.3M319.3 362.3L321.8 366.9M330.1 362.3L331.9 356.3M330.1 362.3L331.9 366.9M340.8 362.3L341.9 356.3M340.8 362.3L341.9 366.9M351.6 362.3L352 356.3M351.6 362.3L352 366.9M362.4 362.3L362 356.3M362.4 362.3L362 366.9M373.2 362.3L372.1 356.3M373.2 362.3L372.1 366.9M383.9 362.3L382.1 356.3M383.9 362.3L382.1 366.9M394.7 362.3L392.2 356.3M394.7 362.3L392.2 366.9"/>
<g fill="url(#bY)"><circle cx="319.8" cy="336.7" r="1.8"/><circle cx="319.8" cy="347" r="1.8"/><circle cx="330.5" cy="336.7" r="1.8"/><circle cx="330.5" cy="347" r="1.8"/><circle cx="341.1" cy="336.7" r="1.8"/><circle cx="341.1" cy="347" r="1.8"/><circle cx="351.7" cy="336.7" r="1.8"/><circle cx="351.7" cy="347" r="1.8"/><circle cx="362.3" cy="336.7" r="1.8"/><circle cx="362.3" cy="347" r="1.8"/><circle cx="372.9" cy="336.7" r="1.8"/><circle cx="372.9" cy="347" r="1.8"/><circle cx="383.5" cy="336.7" r="1.8"/><circle cx="383.5" cy="347" r="1.8"/><circle cx="394.2" cy="336.7" r="1.8"/><circle cx="394.2" cy="347" r="1.8"/><circle cx="325.2" cy="356.5" r="1.8"/><circle cx="325.2" cy="367.7" r="1.8"/><circle cx="335.8" cy="356.5" r="1.8"/><circle cx="335.8" cy="367.7" r="1.8"/><circle cx="346.4" cy="356.5" r="1.8"/><circle cx="346.4" cy="367.7" r="1.8"/><circle cx="357" cy="356.5" r="1.8"/><circle cx="357" cy="367.7" r="1.8"/><circle cx="367.6" cy="356.5" r="1.8"/><circle cx="367.6" cy="367.7" r="1.8"/><circle cx="378.2" cy="356.5" r="1.8"/><circle cx="378.2" cy="367.7" r="1.8"/><circle cx="388.8" cy="356.5" r="1.8"/><circle cx="388.8" cy="367.7" r="1.8"/></g>
<path fill="none" stroke="#d49ad8" stroke-width="0.5" d="M324.7 341.7L319.8 336.7M324.7 341.7L319.8 347M324.7 341.7L330.5 336.7M324.7 341.7L330.5 347M335.5 341.7L330.5 336.7M335.5 341.7L330.5 347M335.5 341.7L341.1 336.7M335.5 341.7L341.1 347M346.2 341.7L341.1 336.7M346.2 341.7L341.1 347M346.2 341.7L351.7 336.7M346.2 341.7L351.7 347M357 341.7L351.7 336.7M357 341.7L351.7 347M357 341.7L362.3 336.7M357 341.7L362.3 347M367.8 341.7L362.3 336.7M367.8 341.7L362.3 347M367.8 341.7L372.9 336.7M367.8 341.7L372.9 347M378.5 341.7L372.9 336.7M378.5 341.7L372.9 347M378.5 341.7L383.5 336.7M378.5 341.7L383.5 347M389.3 341.7L383.5 336.7M389.3 341.7L383.5 347M389.3 341.7L394.2 336.7M389.3 341.7L394.2 347M319.3 362.3L325.2 356.5M319.3 362.3L325.2 367.7M330.1 362.3L325.2 356.5M330.1 362.3L325.2 367.7M330.1 362.3L335.8 356.5M330.1 362.3L335.8 367.7M340.8 362.3L335.8 356.5M340.8 362.3L335.8 367.7M340.8 362.3L346.4 356.5M340.8 362.3L346.4 367.7M351.6 362.3L346.4 356.5M351.6 362.3L346.4 367.7M351.6 362.3L357 356.5M351.6 362.3L357 367.7M362.4 362.3L357 356.5M362.4 362.3L357 367.7M362.4 362.3L367.6 356.5M362.4 362.3L367.6 367.7M373.2 362.3L367.6 356.5M373.2 362.3L367.6 367.7M373.2 362.3L378.2 356.5M373.2 362.3L378.2 367.7M383.9 362.3L378.2 356.5M383.9 362.3L378.2 367.7M383.9 362.3L388.8 356.5M383.9 362.3L388.8 367.7M394.7 362.3L388.8 356.5M394.7 362.3L388.8 367.7"/>
<g fill="url(#bP)"><circle cx="324.7" cy="341.7" r="1.5"/><circle cx="335.5" cy="341.7" r="1.5"/><circle cx="346.2" cy="341.7" r="1.5"/><circle cx="357" cy="341.7" r="1.5"/><circle cx="367.8" cy="341.7" r="1.5"/><circle cx="378.5" cy="341.7" r="1.5"/><circle cx="389.3" cy="341.7" r="1.5"/><circle cx="319.3" cy="362.3" r="1.5"/><circle cx="330.1" cy="362.3" r="1.5"/><circle cx="340.8" cy="362.3" r="1.5"/><circle cx="351.6" cy="362.3" r="1.5"/><circle cx="362.4" cy="362.3" r="1.5"/><circle cx="373.2" cy="362.3" r="1.5"/><circle cx="383.9" cy="362.3" r="1.5"/><circle cx="394.7" cy="362.3" r="1.5"/></g>
<path fill="none" stroke="#d49ad8" stroke-width="0.5" d="M317 341.1L319.8 336.7M317 341.1L319.8 347M328.4 341.1L330.5 336.7M328.4 341.1L330.5 347M339.9 341.1L341.1 336.7M339.9 341.1L341.1 347M351.3 341.1L351.7 336.7M351.3 341.1L351.7 347M362.7 341.1L362.3 336.7M362.7 341.1L362.3 347M374.1 341.1L372.9 336.7M374.1 341.1L372.9 347M385.6 341.1L383.5 336.7M385.6 341.1L383.5 347M397 341.1L394.2 336.7M397 341.1L394.2 347M322.7 362.9L325.2 356.5M322.7 362.9L325.2 367.7M334.1 362.9L335.8 356.5M334.1 362.9L335.8 367.7M345.6 362.9L346.4 356.5M345.6 362.9L346.4 367.7M357 362.9L357 356.5M357 362.9L357 367.7M368.4 362.9L367.6 356.5M368.4 362.9L367.6 367.7M379.9 362.9L378.2 356.5M379.9 362.9L378.2 367.7M391.3 362.9L388.8 356.5M391.3 362.9L388.8 367.7"/>
<g fill="url(#bY)"><circle cx="323.2" cy="335.8" r="1.9"/><circle cx="323.2" cy="346.7" r="1.9"/><circle cx="334.5" cy="335.8" r="1.9"/><circle cx="334.5" cy="346.7" r="1.9"/><circle cx="345.7" cy="335.8" r="1.9"/><circle cx="345.7" cy="346.7" r="1.9"/><circle cx="357" cy="335.8" r="1.9"/><circle cx="357" cy="346.7" r="1.9"/><circle cx="368.3" cy="335.8" r="1.9"/><circle cx="368.3" cy="346.7" r="1.9"/><circle cx="379.5" cy="335.8" r="1.9"/><circle cx="379.5" cy="346.7" r="1.9"/><circle cx="390.8" cy="335.8" r="1.9"/><circle cx="390.8" cy="346.7" r="1.9"/><circle cx="317.6" cy="356.8" r="1.9"/><circle cx="317.6" cy="368.7" r="1.9"/><circle cx="328.9" cy="356.8" r="1.9"/><circle cx="328.9" cy="368.7" r="1.9"/><circle cx="340.1" cy="356.8" r="1.9"/><circle cx="340.1" cy="368.7" r="1.9"/><circle cx="351.4" cy="356.8" r="1.9"/><circle cx="351.4" cy="368.7" r="1.9"/><circle cx="362.6" cy="356.8" r="1.9"/><circle cx="362.6" cy="368.7" r="1.9"/><circle cx="373.9" cy="356.8" r="1.9"/><circle cx="373.9" cy="368.7" r="1.9"/><circle cx="385.1" cy="356.8" r="1.9"/><circle cx="385.1" cy="368.7" r="1.9"/><circle cx="396.4" cy="356.8" r="1.9"/><circle cx="396.4" cy="368.7" r="1.9"/></g>
<path fill="none" stroke="#d49ad8" stroke-width="0.5" d="M317 341.1L323.2 335.8M317 341.1L323.2 346.7M328.4 341.1L323.2 335.8M328.4 341.1L323.2 346.7M328.4 341.1L334.5 335.8M328.4 341.1L334.5 346.7M339.9 341.1L334.5 335.8M339.9 341.1L334.5 346.7M339.9 341.1L345.7 335.8M339.9 341.1L345.7 346.7M351.3 341.1L345.7 335.8M351.3 341.1L345.7 346.7M351.3 341.1L357 335.8M351.3 341.1L357 346.7M362.7 341.1L357 335.8M362.7 341.1L357 346.7M362.7 341.1L368.3 335.8M362.7 341.1L368.3 346.7M374.1 341.1L368.3 335.8M374.1 341.1L368.3 346.7M374.1 341.1L379.5 335.8M374.1 341.1L379.5 346.7M385.6 341.1L379.5 335.8M385.6 341.1L379.5 346.7M385.6 341.1L390.8 335.8M385.6 341.1L390.8 346.7M397 341.1L390.8 335.8M397 341.1L390.8 346.7M322.7 362.9L317.6 356.8M322.7 362.9L317.6 368.7M322.7 362.9L328.9 356.8M322.7 362.9L328.9 368.7M334.1 362.9L328.9 356.8M334.1 362.9L328.9 368.7M334.1 362.9L340.1 356.8M334.1 362.9L340.1 368.7M345.6 362.9L340.1 356.8M345.6 362.9L340.1 368.7M345.6 362.9L351.4 356.8M345.6 362.9L351.4 368.7M357 362.9L351.4 356.8M357 362.9L351.4 368.7M357 362.9L362.6 356.8M357 362.9L362.6 368.7M368.4 362.9L362.6 356.8M368.4 362.9L362.6 368.7M368.4 362.9L373.9 356.8M368.4 362.9L373.9 368.7M379.9 362.9L373.9 356.8M379.9 362.9L373.9 368.7M379.9 362.9L385.1 356.8M379.9 362.9L385.1 368.7M391.3 362.9L385.1 356.8M391.3 362.9L385.1 368.7M391.3 362.9L396.4 356.8M391.3 362.9L396.4 368.7"/>
<g fill="url(#bP)"><circle cx="317" cy="341.1" r="1.6"/><circle cx="328.4" cy="341.1" r="1.6"/><circle cx="339.9" cy="341.1" r="1.6"/><circle cx="351.3" cy="341.1" r="1.6"/><circle cx="362.7" cy="341.1" r="1.6"/><circle cx="374.1" cy="341.1" r="1.6"/><circle cx="385.6" cy="341.1" r="1.6"/><circle cx="397" cy="341.1" r="1.6"/><circle cx="322.7" cy="362.9" r="1.6"/><circle cx="334.1" cy="362.9" r="1.6"/><circle cx="345.6" cy="362.9" r="1.6"/><circle cx="357" cy="362.9" r="1.6"/><circle cx="368.4" cy="362.9" r="1.6"/><circle cx="379.9" cy="362.9" r="1.6"/><circle cx="391.3" cy="362.9" r="1.6"/></g>
<path fill="none" stroke="#d49ad8" stroke-width="0.5" d="M320.5 340.4L323.2 335.8M320.5 340.4L323.2 346.7M332.7 340.4L334.5 335.8M332.7 340.4L334.5 346.7M344.8 340.4L345.7 335.8M344.8 340.4L345.7 346.7M357 340.4L357 335.8M357 340.4L357 346.7M369.2 340.4L368.3 335.8M369.2 340.4L368.3 346.7M381.3 340.4L379.5 335.8M381.3 340.4L379.5 346.7M393.5 340.4L390.8 335.8M393.5 340.4L390.8 346.7M314.4 363.6L317.6 356.8M314.4 363.6L317.6 368.7M326.6 363.6L328.9 356.8M326.6 363.6L328.9 368.7M338.7 363.6L340.1 356.8M338.7 363.6L340.1 368.7M350.9 363.6L351.4 356.8M350.9 363.6L351.4 368.7M363.1 363.6L362.6 356.8M363.1 363.6L362.6 368.7M375.3 363.6L373.9 356.8M375.3 363.6L373.9 368.7M387.4 363.6L385.1 356.8M387.4 363.6L385.1 368.7M399.6 363.6L396.4 356.8M399.6 363.6L396.4 368.7"/>
<g fill="url(#bY)"><circle cx="315.1" cy="334.8" r="2"/><circle cx="315.1" cy="346.3" r="2"/><circle cx="327.1" cy="334.8" r="2"/><circle cx="327.1" cy="346.3" r="2"/><circle cx="339" cy="334.8" r="2"/><circle cx="339" cy="346.3" r="2"/><circle cx="351" cy="334.8" r="2"/><circle cx="351" cy="346.3" r="2"/><circle cx="363" cy="334.8" r="2"/><circle cx="363" cy="346.3" r="2"/><circle cx="375" cy="334.8" r="2"/><circle cx="375" cy="346.3" r="2"/><circle cx="386.9" cy="334.8" r="2"/><circle cx="386.9" cy="346.3" r="2"/><circle cx="398.9" cy="334.8" r="2"/><circle cx="398.9" cy="346.3" r="2"/><circle cx="321.1" cy="357.1" r="2"/><circle cx="321.1" cy="369.8" r="2"/><circle cx="333" cy="357.1" r="2"/><circle cx="333" cy="369.8" r="2"/><circle cx="345" cy="357.1" r="2"/><circle cx="345" cy="369.8" r="2"/><circle cx="357" cy="357.1" r="2"/><circle cx="357" cy="369.8" r="2"/><circle cx="369" cy="357.1" r="2"/><circle cx="369" cy="369.8" r="2"/><circle cx="381" cy="357.1" r="2"/><circle cx="381" cy="369.8" r="2"/><circle cx="392.9" cy="357.1" r="2"/><circle cx="392.9" cy="369.8" r="2"/></g>
<path fill="none" stroke="#d49ad8" stroke-width="0.5" d="M320.5 340.4L315.1 334.8M320.5 340.4L315.1 346.3M320.5 340.4L327.1 334.8M320.5 340.4L327.1 346.3M332.7 340.4L327.1 334.8M332.7 340.4L327.1 346.3M332.7 340.4L339 334.8M332.7 340.4L339 346.3M344.8 340.4L339 334.8M344.8 340.4L339 346.3M344.8 340.4L351 334.8M344.8 340.4L351 346.3M357 340.4L351 334.8M357 340.4L351 346.3M357 340.4L363 334.8M357 340.4L363 346.3M369.2 340.4L363 334.8M369.2 340.4L363 346.3M369.2 340.4L375 334.8M369.2 340.4L375 346.3M381.3 340.4L375 334.8M381.3 340.4L375 346.3M381.3 340.4L386.9 334.8M381.3 340.4L386.9 346.3M393.5 340.4L386.9 334.8M393.5 340.4L386.9 346.3M393.5 340.4L398.9 334.8M393.5 340.4L398.9 346.3M314.4 363.6L321.1 357.1M314.4 363.6L321.1 369.8M326.6 363.6L321.1 357.1M326.6 363.6L321.1 369.8M326.6 363.6L333 357.1M326.6 363.6L333 369.8M338.7 363.6L333 357.1M338.7 363.6L333 369.8M338.7 363.6L345 357.1M338.7 363.6L345 369.8M350.9 363.6L345 357.1M350.9 363.6L345 369.8M350.9 363.6L357 357.1M350.9 363.6L357 369.8M363.1 363.6L357 357.1M363.1 363.6L357 369.8M363.1 363.6L369 357.1M363.1 363.6L369 369.8M375.3 363.6L369 357.1M375.3 363.6L369 369.8M375.3 363.6L381 357.1M375.3 363.6L381 369.8M387.4 363.6L381 357.1M387.4 363.6L381 369.8M387.4 363.6L392.9 357.1M387.4 363.6L392.9 369.8M399.6 363.6L392.9 357.1M399.6 363.6L392.9 369.8"/>
<g fill="url(#bP)"><circle cx="320.5" cy="340.4" r="1.7"/><circle cx="332.7" cy="340.4" r="1.7"/><circle cx="344.8" cy="340.4" r="1.7"/><circle cx="357" cy="340.4" r="1.7"/><circle cx="369.2" cy="340.4" r="1.7"/><circle cx="381.3" cy="340.4" r="1.7"/><circle cx="393.5" cy="340.4" r="1.7"/><circle cx="314.4" cy="363.6" r="1.7"/><circle cx="326.6" cy="363.6" r="1.7"/><circle cx="338.7" cy="363.6" r="1.7"/><circle cx="350.9" cy="363.6" r="1.7"/><circle cx="363.1" cy="363.6" r="1.7"/><circle cx="375.3" cy="363.6" r="1.7"/><circle cx="387.4" cy="363.6" r="1.7"/><circle cx="399.6" cy="363.6" r="1.7"/></g>
<path fill="none" stroke="#d49ad8" stroke-width="0.5" d="M311.4 339.6L315.1 334.8M311.4 339.6L315.1 346.3M324.4 339.6L327.1 334.8M324.4 339.6L327.1 346.3M337.5 339.6L339 334.8M337.5 339.6L339 346.3M350.5 339.6L351 334.8M350.5 339.6L351 346.3M363.5 339.6L363 334.8M363.5 339.6L363 346.3M376.5 339.6L375 334.8M376.5 339.6L375 346.3M389.6 339.6L386.9 334.8M389.6 339.6L386.9 346.3M402.6 339.6L398.9 334.8M402.6 339.6L398.9 346.3M317.9 364.4L321.1 357.1M317.9 364.4L321.1 369.8M331 364.4L333 357.1M331 364.4L333 369.8M344 364.4L345 357.1M344 364.4L345 369.8M357 364.4L357 357.1M357 364.4L357 369.8M370 364.4L369 357.1M370 364.4L369 369.8M383 364.4L381 357.1M383 364.4L381 369.8M396.1 364.4L392.9 357.1M396.1 364.4L392.9 369.8"/>
<g fill="url(#bY)"><circle cx="318.6" cy="333.6" r="2.1"/><circle cx="318.6" cy="345.9" r="2.1"/><circle cx="331.4" cy="333.6" r="2.1"/><circle cx="331.4" cy="345.9" r="2.1"/><circle cx="344.2" cy="333.6" r="2.1"/><circle cx="344.2" cy="345.9" r="2.1"/><circle cx="357" cy="333.6" r="2.1"/><circle cx="357" cy="345.9" r="2.1"/><circle cx="369.8" cy="333.6" r="2.1"/><circle cx="369.8" cy="345.9" r="2.1"/><circle cx="382.6" cy="333.6" r="2.1"/><circle cx="382.6" cy="345.9" r="2.1"/><circle cx="395.4" cy="333.6" r="2.1"/><circle cx="395.4" cy="345.9" r="2.1"/><circle cx="312.2" cy="357.5" r="2.1"/><circle cx="312.2" cy="371" r="2.1"/><circle cx="325" cy="357.5" r="2.1"/><circle cx="325" cy="371" r="2.1"/><circle cx="337.8" cy="357.5" r="2.1"/><circle cx="337.8" cy="371" r="2.1"/><circle cx="350.6" cy="357.5" r="2.1"/><circle cx="350.6" cy="371" r="2.1"/><circle cx="363.4" cy="357.5" r="2.1"/><circle cx="363.4" cy="371" r="2.1"/><circle cx="376.2" cy="357.5" r="2.1"/><circle cx="376.2" cy="371" r="2.1"/><circle cx="389" cy="357.5" r="2.1"/><circle cx="389" cy="371" r="2.1"/><circle cx="401.8" cy="357.5" r="2.1"/><circle cx="401.8" cy="371" r="2.1"/></g>
<path fill="none" stroke="#d49ad8" stroke-width="0.5" d="M311.4 339.6L318.6 333.6M311.4 339.6L318.6 345.9M324.4 339.6L318.6 333.6M324.4 339.6L318.6 345.9M324.4 339.6L331.4 333.6M324.4 339.6L331.4 345.9M337.5 339.6L331.4 333.6M337.5 339.6L331.4 345.9M337.5 339.6L344.2 333.6M337.5 339.6L344.2 345.9M350.5 339.6L344.2 333.6M350.5 339.6L344.2 345.9M350.5 339.6L357 333.6M350.5 339.6L357 345.9M363.5 339.6L357 333.6M363.5 339.6L357 345.9M363.5 339.6L369.8 333.6M363.5 339.6L369.8 345.9M376.5 339.6L369.8 333.6M376.5 339.6L369.8 345.9M376.5 339.6L382.6 333.6M376.5 339.6L382.6 345.9M389.6 339.6L382.6 333.6M389.6 339.6L382.6 345.9M389.6 339.6L395.4 333.6M389.6 339.6L395.4 345.9M402.6 339.6L395.4 333.6M402.6 339.6L395.4 345.9M317.9 364.4L312.2 357.5M317.9 364.4L312.2 371M317.9 364.4L325 357.5M317.9 364.4L325 371M331 364.4L325 357.5M331 364.4L325 371M331 364.4L337.8 357.5M331 364.4L337.8 371M344 364.4L337.8 357.5M344 364.4L337.8 371M344 364.4L350.6 357.5M344 364.4L350.6 371M357 364.4L350.6 357.5M357 364.4L350.6 371M357 364.4L363.4 357.5M357 364.4L363.4 371M370 364.4L363.4 357.5M370 364.4L363.4 371M370 364.4L376.2 357.5M370 364.4L376.2 371M383 364.4L376.2 357.5M383 364.4L376.2 371M383 364.4L389 357.5M383 364.4L389 371M396.1 364.4L389 357.5M396.1 364.4L389 371M396.1 364.4L401.8 357.5M396.1 364.4L401.8 371"/>
<g fill="url(#bP)"><circle cx="311.4" cy="339.6" r="1.8"/><circle cx="324.4" cy="339.6" r="1.8"/><circle cx="337.5" cy="339.6" r="1.8"/><circle cx="350.5" cy="339.6" r="1.8"/><circle cx="363.5" cy="339.6" r="1.8"/><circle cx="376.5" cy="339.6" r="1.8"/><circle cx="389.6" cy="339.6" r="1.8"/><circle cx="402.6" cy="339.6" r="1.8"/><circle cx="317.9" cy="364.4" r="1.8"/><circle cx="331" cy="364.4" r="1.8"/><circle cx="344" cy="364.4" r="1.8"/><circle cx="357" cy="364.4" r="1.8"/><circle cx="370" cy="364.4" r="1.8"/><circle cx="383" cy="364.4" r="1.8"/><circle cx="396.1" cy="364.4" r="1.8"/></g>
<path fill="none" stroke="#d49ad8" stroke-width="0.5" d="M315 338.6L318.6 333.6M315 338.6L318.6 345.9M329 338.6L331.4 333.6M329 338.6L331.4 345.9M343 338.6L344.2 333.6M343 338.6L344.2 345.9M357 338.6L357 333.6M357 338.6L357 345.9M371 338.6L369.8 333.6M371 338.6L369.8 345.9M385 338.6L382.6 333.6M385 338.6L382.6 345.9M399 338.6L395.4 333.6M399 338.6L395.4 345.9M308 365.4L312.2 357.5M308 365.4L312.2 371M322 365.4L325 357.5M322 365.4L325 371M336 365.4L337.8 357.5M336 365.4L337.8 371M350 365.4L350.6 357.5M350 365.4L350.6 371M364 365.4L363.4 357.5M364 365.4L363.4 371M378 365.4L376.2 357.5M378 365.4L376.2 371M392 365.4L389 357.5M392 365.4L389 371M406 365.4L401.8 357.5M406 365.4L401.8 371"/>
<g fill="url(#bY)"><circle cx="308.9" cy="332.2" r="2.3"/><circle cx="308.9" cy="345.5" r="2.3"/><circle cx="322.6" cy="332.2" r="2.3"/><circle cx="322.6" cy="345.5" r="2.3"/><circle cx="336.4" cy="332.2" r="2.3"/><circle cx="336.4" cy="345.5" r="2.3"/><circle cx="350.1" cy="332.2" r="2.3"/><circle cx="350.1" cy="345.5" r="2.3"/><circle cx="363.9" cy="332.2" r="2.3"/><circle cx="363.9" cy="345.5" r="2.3"/><circle cx="377.6" cy="332.2" r="2.3"/><circle cx="377.6" cy="345.5" r="2.3"/><circle cx="391.4" cy="332.2" r="2.3"/><circle cx="391.4" cy="345.5" r="2.3"/><circle cx="405.1" cy="332.2" r="2.3"/><circle cx="405.1" cy="345.5" r="2.3"/><circle cx="315.8" cy="357.9" r="2.3"/><circle cx="315.8" cy="372.4" r="2.3"/><circle cx="329.5" cy="357.9" r="2.3"/><circle cx="329.5" cy="372.4" r="2.3"/><circle cx="343.3" cy="357.9" r="2.3"/><circle cx="343.3" cy="372.4" r="2.3"/><circle cx="357" cy="357.9" r="2.3"/><circle cx="357" cy="372.4" r="2.3"/><circle cx="370.7" cy="357.9" r="2.3"/><circle cx="370.7" cy="372.4" r="2.3"/><circle cx="384.5" cy="357.9" r="2.3"/><circle cx="384.5" cy="372.4" r="2.3"/><circle cx="398.2" cy="357.9" r="2.3"/><circle cx="398.2" cy="372.4" r="2.3"/></g>
<path fill="none" stroke="#d49ad8" stroke-width="0.6" d="M315 338.6L308.9 332.2M315 338.6L308.9 345.5M315 338.6L322.6 332.2M315 338.6L322.6 345.5M329 338.6L322.6 332.2M329 338.6L322.6 345.5M329 338.6L336.4 332.2M329 338.6L336.4 345.5M343 338.6L336.4 332.2M343 338.6L336.4 345.5M343 338.6L350.1 332.2M343 338.6L350.1 345.5M357 338.6L350.1 332.2M357 338.6L350.1 345.5M357 338.6L363.9 332.2M357 338.6L363.9 345.5M371 338.6L363.9 332.2M371 338.6L363.9 345.5M371 338.6L377.6 332.2M371 338.6L377.6 345.5M385 338.6L377.6 332.2M385 338.6L377.6 345.5M385 338.6L391.4 332.2M385 338.6L391.4 345.5M399 338.6L391.4 332.2M399 338.6L391.4 345.5M399 338.6L405.1 332.2M399 338.6L405.1 345.5M308 365.4L315.8 357.9M308 365.4L315.8 372.4M322 365.4L315.8 357.9M322 365.4L315.8 372.4M322 365.4L329.5 357.9M322 365.4L329.5 372.4M336 365.4L329.5 357.9M336 365.4L329.5 372.4M336 365.4L343.3 357.9M336 365.4L343.3 372.4M350 365.4L343.3 357.9M350 365.4L343.3 372.4M350 365.4L357 357.9M350 365.4L357 372.4M364 365.4L357 357.9M364 365.4L357 372.4M364 365.4L370.7 357.9M364 365.4L370.7 372.4M378 365.4L370.7 357.9M378 365.4L370.7 372.4M378 365.4L384.5 357.9M378 365.4L384.5 372.4M392 365.4L384.5 357.9M392 365.4L384.5 372.4M392 365.4L398.2 357.9M392 365.4L398.2 372.4M406 365.4L398.2 357.9M406 365.4L398.2 372.4"/>
<g fill="url(#bP)"><circle cx="315" cy="338.6" r="1.9"/><circle cx="329" cy="338.6" r="1.9"/><circle cx="343" cy="338.6" r="1.9"/><circle cx="357" cy="338.6" r="1.9"/><circle cx="371" cy="338.6" r="1.9"/><circle cx="385" cy="338.6" r="1.9"/><circle cx="399" cy="338.6" r="1.9"/><circle cx="308" cy="365.4" r="1.9"/><circle cx="322" cy="365.4" r="1.9"/><circle cx="336" cy="365.4" r="1.9"/><circle cx="350" cy="365.4" r="1.9"/><circle cx="364" cy="365.4" r="1.9"/><circle cx="378" cy="365.4" r="1.9"/><circle cx="392" cy="365.4" r="1.9"/><circle cx="406" cy="365.4" r="1.9"/></g>
<path fill="none" stroke="#d49ad8" stroke-width="0.6" d="M304 337.5L308.9 332.2M304 337.5L308.9 345.5M319.2 337.5L322.6 332.2M319.2 337.5L322.6 345.5M334.3 337.5L336.4 332.2M334.3 337.5L336.4 345.5M349.4 337.5L350.1 332.2M349.4 337.5L350.1 345.5M364.6 337.5L363.9 332.2M364.6 337.5L363.9 345.5M379.7 337.5L377.6 332.2M379.7 337.5L377.6 345.5M394.8 337.5L391.4 332.2M394.8 337.5L391.4 345.5M410 337.5L405.1 332.2M410 337.5L405.1 345.5M311.6 366.5L315.8 357.9M311.6 366.5L315.8 372.4M326.7 366.5L329.5 357.9M326.7 366.5L329.5 372.4M341.9 366.5L343.3 357.9M341.9 366.5L343.3 372.4M357 366.5L357 357.9M357 366.5L357 372.4M372.1 366.5L370.7 357.9M372.1 366.5L370.7 372.4M387.3 366.5L384.5 357.9M387.3 366.5L384.5 372.4M402.4 366.5L398.2 357.9M402.4 366.5L398.2 372.4"/>
<g fill="url(#bY)"><circle cx="312.5" cy="330.7" r="2.5"/><circle cx="312.5" cy="345" r="2.5"/><circle cx="327.3" cy="330.7" r="2.5"/><circle cx="327.3" cy="345" r="2.5"/><circle cx="342.2" cy="330.7" r="2.5"/><circle cx="342.2" cy="345" r="2.5"/><circle cx="357" cy="330.7" r="2.5"/><circle cx="357" cy="345" r="2.5"/><circle cx="371.8" cy="330.7" r="2.5"/><circle cx="371.8" cy="345" r="2.5"/><circle cx="386.7" cy="330.7" r="2.5"/><circle cx="386.7" cy="345" r="2.5"/><circle cx="401.5" cy="330.7" r="2.5"/><circle cx="401.5" cy="345" r="2.5"/><circle cx="305.1" cy="358.4" r="2.5"/><circle cx="305.1" cy="374" r="2.5"/><circle cx="319.9" cy="358.4" r="2.5"/><circle cx="319.9" cy="374" r="2.5"/><circle cx="334.7" cy="358.4" r="2.5"/><circle cx="334.7" cy="374" r="2.5"/><circle cx="349.6" cy="358.4" r="2.5"/><circle cx="349.6" cy="374" r="2.5"/><circle cx="364.4" cy="358.4" r="2.5"/><circle cx="364.4" cy="374" r="2.5"/><circle cx="379.3" cy="358.4" r="2.5"/><circle cx="379.3" cy="374" r="2.5"/><circle cx="394.1" cy="358.4" r="2.5"/><circle cx="394.1" cy="374" r="2.5"/><circle cx="408.9" cy="358.4" r="2.5"/><circle cx="408.9" cy="374" r="2.5"/></g>
<path fill="none" stroke="#d49ad8" stroke-width="0.6" d="M304 337.5L312.5 330.7M304 337.5L312.5 345M319.2 337.5L312.5 330.7M319.2 337.5L312.5 345M319.2 337.5L327.3 330.7M319.2 337.5L327.3 345M334.3 337.5L327.3 330.7M334.3 337.5L327.3 345M334.3 337.5L342.2 330.7M334.3 337.5L342.2 345M349.4 337.5L342.2 330.7M349.4 337.5L342.2 345M349.4 337.5L357 330.7M349.4 337.5L357 345M364.6 337.5L357 330.7M364.6 337.5L357 345M364.6 337.5L371.8 330.7M364.6 337.5L371.8 345M379.7 337.5L371.8 330.7M379.7 337.5L371.8 345M379.7 337.5L386.7 330.7M379.7 337.5L386.7 345M394.8 337.5L386.7 330.7M394.8 337.5L386.7 345M394.8 337.5L401.5 330.7M394.8 337.5L401.5 345M410 337.5L401.5 330.7M410 337.5L401.5 345M311.6 366.5L305.1 358.4M311.6 366.5L305.1 374M311.6 366.5L319.9 358.4M311.6 366.5L319.9 374M326.7 366.5L319.9 358.4M326.7 366.5L319.9 374M326.7 366.5L334.7 358.4M326.7 366.5L334.7 374M341.9 366.5L334.7 358.4M341.9 366.5L334.7 374M341.9 366.5L349.6 358.4M341.9 366.5L349.6 374M357 366.5L349.6 358.4M357 366.5L349.6 374M357 366.5L364.4 358.4M357 366.5L364.4 374M372.1 366.5L364.4 358.4M372.1 366.5L364.4 374M372.1 366.5L379.3 358.4M372.1 366.5L379.3 374M387.3 366.5L379.3 358.4M387.3 366.5L379.3 374M387.3 366.5L394.1 358.4M387.3 366.5L394.1 374M402.4 366.5L394.1 358.4M402.4 366.5L394.1 374M402.4 366.5L408.9 358.4M402.4 366.5L408.9 374"/>
<g fill="url(#bP)"><circle cx="304" cy="337.5" r="2.1"/><circle cx="319.2" cy="337.5" r="2.1"/><circle cx="334.3" cy="337.5" r="2.1"/><circle cx="349.4" cy="337.5" r="2.1"/><circle cx="364.6" cy="337.5" r="2.1"/><circle cx="379.7" cy="337.5" r="2.1"/><circle cx="394.8" cy="337.5" r="2.1"/><circle cx="410" cy="337.5" r="2.1"/><circle cx="311.6" cy="366.5" r="2.1"/><circle cx="326.7" cy="366.5" r="2.1"/><circle cx="341.9" cy="366.5" r="2.1"/><circle cx="357" cy="366.5" r="2.1"/><circle cx="372.1" cy="366.5" r="2.1"/><circle cx="387.3" cy="366.5" r="2.1"/><circle cx="402.4" cy="366.5" r="2.1"/></g>
<path fill="none" stroke="#d49ad8" stroke-width="0.6" d="M307.6 336.3L312.5 330.7M307.6 336.3L312.5 345M324.1 336.3L327.3 330.7M324.1 336.3L327.3 345M340.5 336.3L342.2 330.7M340.5 336.3L342.2 345M357 336.3L357 330.7M357 336.3L357 345M373.5 336.3L371.8 330.7M373.5 336.3L371.8 345M389.9 336.3L386.7 330.7M389.9 336.3L386.7 345M406.4 336.3L401.5 330.7M406.4 336.3L401.5 345M299.4 367.7L305.1 358.4M299.4 367.7L305.1 374M315.8 367.7L319.9 358.4M315.8 367.7L319.9 374M332.3 367.7L334.7 358.4M332.3 367.7L334.7 374M348.8 367.7L349.6 358.4M348.8 367.7L349.6 374M365.2 367.7L364.4 358.4M365.2 367.7L364.4 374M381.7 367.7L379.3 358.4M381.7 367.7L379.3 374M398.2 367.7L394.1 358.4M398.2 367.7L394.1 374M414.6 367.7L408.9 358.4M414.6 367.7L408.9 374"/>
<g fill="url(#bY)"><circle cx="300.6" cy="328.8" r="2.7"/><circle cx="300.6" cy="344.4" r="2.7"/><circle cx="316.7" cy="328.8" r="2.7"/><circle cx="316.7" cy="344.4" r="2.7"/><circle cx="332.8" cy="328.8" r="2.7"/><circle cx="332.8" cy="344.4" r="2.7"/><circle cx="348.9" cy="328.8" r="2.7"/><circle cx="348.9" cy="344.4" r="2.7"/><circle cx="365.1" cy="328.8" r="2.7"/><circle cx="365.1" cy="344.4" r="2.7"/><circle cx="381.2" cy="328.8" r="2.7"/><circle cx="381.2" cy="344.4" r="2.7"/><circle cx="397.3" cy="328.8" r="2.7"/><circle cx="397.3" cy="344.4" r="2.7"/><circle cx="413.4" cy="328.8" r="2.7"/><circle cx="413.4" cy="344.4" r="2.7"/><circle cx="308.7" cy="358.9" r="2.7"/><circle cx="308.7" cy="375.9" r="2.7"/><circle cx="324.8" cy="358.9" r="2.7"/><circle cx="324.8" cy="375.9" r="2.7"/><circle cx="340.9" cy="358.9" r="2.7"/><circle cx="340.9" cy="375.9" r="2.7"/><circle cx="357" cy="358.9" r="2.7"/><circle cx="357" cy="375.9" r="2.7"/><circle cx="373.1" cy="358.9" r="2.7"/><circle cx="373.1" cy="375.9" r="2.7"/><circle cx="389.2" cy="358.9" r="2.7"/><circle cx="389.2" cy="375.9" r="2.7"/><circle cx="405.3" cy="358.9" r="2.7"/><circle cx="405.3" cy="375.9" r="2.7"/></g>
<path fill="none" stroke="#d49ad8" stroke-width="0.7" d="M307.6 336.3L300.6 328.8M307.6 336.3L300.6 344.4M307.6 336.3L316.7 328.8M307.6 336.3L316.7 344.4M324.1 336.3L316.7 328.8M324.1 336.3L316.7 344.4M324.1 336.3L332.8 328.8M324.1 336.3L332.8 344.4M340.5 336.3L332.8 328.8M340.5 336.3L332.8 344.4M340.5 336.3L348.9 328.8M340.5 336.3L348.9 344.4M357 336.3L348.9 328.8M357 336.3L348.9 344.4M357 336.3L365.1 328.8M357 336.3L365.1 344.4M373.5 336.3L365.1 328.8M373.5 336.3L365.1 344.4M373.5 336.3L381.2 328.8M373.5 336.3L381.2 344.4M389.9 336.3L381.2 328.8M389.9 336.3L381.2 344.4M389.9 336.3L397.3 328.8M389.9 336.3L397.3 344.4M406.4 336.3L397.3 328.8M406.4 336.3L397.3 344.4M406.4 336.3L413.4 328.8M406.4 336.3L413.4 344.4M299.4 367.7L308.7 358.9M299.4 367.7L308.7 375.9M315.8 367.7L308.7 358.9M315.8 367.7L308.7 375.9M315.8 367.7L324.8 358.9M315.8 367.7L324.8 375.9M332.3 367.7L324.8 358.9M332.3 367.7L324.8 375.9M332.3 367.7L340.9 358.9M332.3 367.7L340.9 375.9M348.8 367.7L340.9 358.9M348.8 367.7L340.9 375.9M348.8 367.7L357 358.9M348.8 367.7L357 375.9M365.2 367.7L357 358.9M365.2 367.7L357 375.9M365.2 367.7L373.1 358.9M365.2 367.7L373.1 375.9M381.7 367.7L373.1 358.9M381.7 367.7L373.1 375.9M381.7 367.7L389.2 358.9M381.7 367.7L389.2 375.9M398.2 367.7L389.2 358.9M398.2 367.7L389.2 375.9M398.2 367.7L405.3 358.9M398.2 367.7L405.3 375.9M414.6 367.7L405.3 358.9M414.6 367.7L405.3 375.9"/>
<g fill="url(#bP)"><circle cx="307.6" cy="336.3" r="2.3"/><circle cx="324.1" cy="336.3" r="2.3"/><circle cx="340.5" cy="336.3" r="2.3"/><circle cx="357" cy="336.3" r="2.3"/><circle cx="373.5" cy="336.3" r="2.3"/><circle cx="389.9" cy="336.3" r="2.3"/><circle cx="406.4" cy="336.3" r="2.3"/><circle cx="299.4" cy="367.7" r="2.3"/><circle cx="315.8" cy="367.7" r="2.3"/><circle cx="332.3" cy="367.7" r="2.3"/><circle cx="348.8" cy="367.7" r="2.3"/><circle cx="365.2" cy="367.7" r="2.3"/><circle cx="381.7" cy="367.7" r="2.3"/><circle cx="398.2" cy="367.7" r="2.3"/><circle cx="414.6" cy="367.7" r="2.3"/></g>
<path fill="none" stroke="#d49ad8" stroke-width="0.7" d="M293.8 334.7L300.6 328.8M293.8 334.7L300.6 344.4M311.8 334.7L316.7 328.8M311.8 334.7L316.7 344.4M329.9 334.7L332.8 328.8M329.9 334.7L332.8 344.4M348 334.7L348.9 328.8M348 334.7L348.9 344.4M366 334.7L365.1 328.8M366 334.7L365.1 344.4M384.1 334.7L381.2 328.8M384.1 334.7L381.2 344.4M402.2 334.7L397.3 328.8M402.2 334.7L397.3 344.4M420.2 334.7L413.4 328.8M420.2 334.7L413.4 344.4M302.8 369.3L308.7 358.9M302.8 369.3L308.7 375.9M320.9 369.3L324.8 358.9M320.9 369.3L324.8 375.9M338.9 369.3L340.9 358.9M338.9 369.3L340.9 375.9M357 369.3L357 358.9M357 369.3L357 375.9M375.1 369.3L373.1 358.9M375.1 369.3L373.1 375.9M393.1 369.3L389.2 358.9M393.1 369.3L389.2 375.9M411.2 369.3L405.3 358.9M411.2 369.3L405.3 375.9"/>
<g fill="url(#bY)"><circle cx="304.1" cy="326.6" r="2.9"/><circle cx="304.1" cy="343.7" r="2.9"/><circle cx="321.7" cy="326.6" r="2.9"/><circle cx="321.7" cy="343.7" r="2.9"/><circle cx="339.4" cy="326.6" r="2.9"/><circle cx="339.4" cy="343.7" r="2.9"/><circle cx="357" cy="326.6" r="2.9"/><circle cx="357" cy="343.7" r="2.9"/><circle cx="374.6" cy="326.6" r="2.9"/><circle cx="374.6" cy="343.7" r="2.9"/><circle cx="392.3" cy="326.6" r="2.9"/><circle cx="392.3" cy="343.7" r="2.9"/><circle cx="409.9" cy="326.6" r="2.9"/><circle cx="409.9" cy="343.7" r="2.9"/><circle cx="295.3" cy="359.6" r="2.9"/><circle cx="295.3" cy="378.1" r="2.9"/><circle cx="312.9" cy="359.6" r="2.9"/><circle cx="312.9" cy="378.1" r="2.9"/><circle cx="330.5" cy="359.6" r="2.9"/><circle cx="330.5" cy="378.1" r="2.9"/><circle cx="348.2" cy="359.6" r="2.9"/><circle cx="348.2" cy="378.1" r="2.9"/><circle cx="365.8" cy="359.6" r="2.9"/><circle cx="365.8" cy="378.1" r="2.9"/><circle cx="383.5" cy="359.6" r="2.9"/><circle cx="383.5" cy="378.1" r="2.9"/><circle cx="401.1" cy="359.6" r="2.9"/><circle cx="401.1" cy="378.1" r="2.9"/><circle cx="418.7" cy="359.6" r="2.9"/><circle cx="418.7" cy="378.1" r="2.9"/></g>
<path fill="none" stroke="#d49ad8" stroke-width="0.7" d="M293.8 334.7L304.1 326.6M293.8 334.7L304.1 343.7M311.8 334.7L304.1 326.6M311.8 334.7L304.1 343.7M311.8 334.7L321.7 326.6M311.8 334.7L321.7 343.7M329.9 334.7L321.7 326.6M329.9 334.7L321.7 343.7M329.9 334.7L339.4 326.6M329.9 334.7L339.4 343.7M348 334.7L339.4 326.6M348 334.7L339.4 343.7M348 334.7L357 326.6M348 334.7L357 343.7M366 334.7L357 326.6M366 334.7L357 343.7M366 334.7L374.6 326.6M366 334.7L374.6 343.7M384.1 334.7L374.6 326.6M384.1 334.7L374.6 343.7M384.1 334.7L392.3 326.6M384.1 334.7L392.3 343.7M402.2 334.7L392.3 326.6M402.2 334.7L392.3 343.7M402.2 334.7L409.9 326.6M402.2 334.7L409.9 343.7M420.2 334.7L409.9 326.6M420.2 334.7L409.9 343.7M302.8 369.3L295.3 359.6M302.8 369.3L295.3 378.1M302.8 369.3L312.9 359.6M302.8 369.3L312.9 378.1M320.9 369.3L312.9 359.6M320.9 369.3L312.9 378.1M320.9 369.3L330.5 359.6M320.9 369.3L330.5 378.1M338.9 369.3L330.5 359.6M338.9 369.3L330.5 378.1M338.9 369.3L348.2 359.6M338.9 369.3L348.2 378.1M357 369.3L348.2 359.6M357 369.3L348.2 378.1M357 369.3L365.8 359.6M357 369.3L365.8 378.1M375.1 369.3L365.8 359.6M375.1 369.3L365.8 378.1M375.1 369.3L383.5 359.6M375.1 369.3L383.5 378.1M393.1 369.3L383.5 359.6M393.1 369.3L383.5 378.1M393.1 369.3L401.1 359.6M393.1 369.3L401.1 378.1M411.2 369.3L401.1 359.6M411.2 369.3L401.1 378.1M411.2 369.3L418.7 359.6M411.2 369.3L418.7 378.1"/>
<g fill="url(#bP)"><circle cx="293.8" cy="334.7" r="2.5"/><circle cx="311.8" cy="334.7" r="2.5"/><circle cx="329.9" cy="334.7" r="2.5"/><circle cx="348" cy="334.7" r="2.5"/><circle cx="366" cy="334.7" r="2.5"/><circle cx="384.1" cy="334.7" r="2.5"/><circle cx="402.2" cy="334.7" r="2.5"/><circle cx="420.2" cy="334.7" r="2.5"/><circle cx="302.8" cy="369.3" r="2.5"/><circle cx="320.9" cy="369.3" r="2.5"/><circle cx="338.9" cy="369.3" r="2.5"/><circle cx="357" cy="369.3" r="2.5"/><circle cx="375.1" cy="369.3" r="2.5"/><circle cx="393.1" cy="369.3" r="2.5"/><circle cx="411.2" cy="369.3" r="2.5"/></g>
<path fill="none" stroke="#d49ad8" stroke-width="0.8" d="M297 332.9L304.1 326.6M297 332.9L304.1 343.7M317 332.9L321.7 326.6M317 332.9L321.7 343.7M337 332.9L339.4 326.6M337 332.9L339.4 343.7M357 332.9L357 326.6M357 332.9L357 343.7M377 332.9L374.6 326.6M377 332.9L374.6 343.7M397 332.9L392.3 326.6M397 332.9L392.3 343.7M417 332.9L409.9 326.6M417 332.9L409.9 343.7M287 371.1L295.3 359.6M287 371.1L295.3 378.1M307 371.1L312.9 359.6M307 371.1L312.9 378.1M327 371.1L330.5 359.6M327 371.1L330.5 378.1M347 371.1L348.2 359.6M347 371.1L348.2 378.1M367 371.1L365.8 359.6M367 371.1L365.8 378.1M387 371.1L383.5 359.6M387 371.1L383.5 378.1M407 371.1L401.1 359.6M407 371.1L401.1 378.1M427 371.1L418.7 359.6M427 371.1L418.7 378.1"/>
<g fill="url(#bY)"><circle cx="288.8" cy="324" r="3.2"/><circle cx="288.8" cy="342.8" r="3.2"/><circle cx="308.3" cy="324" r="3.2"/><circle cx="308.3" cy="342.8" r="3.2"/><circle cx="327.8" cy="324" r="3.2"/><circle cx="327.8" cy="342.8" r="3.2"/><circle cx="347.3" cy="324" r="3.2"/><circle cx="347.3" cy="342.8" r="3.2"/><circle cx="366.7" cy="324" r="3.2"/><circle cx="366.7" cy="342.8" r="3.2"/><circle cx="386.2" cy="324" r="3.2"/><circle cx="386.2" cy="342.8" r="3.2"/><circle cx="405.7" cy="324" r="3.2"/><circle cx="405.7" cy="342.8" r="3.2"/><circle cx="425.2" cy="324" r="3.2"/><circle cx="425.2" cy="342.8" r="3.2"/><circle cx="298.6" cy="360.3" r="3.2"/><circle cx="298.6" cy="380.9" r="3.2"/><circle cx="318" cy="360.3" r="3.2"/><circle cx="318" cy="380.9" r="3.2"/><circle cx="337.5" cy="360.3" r="3.2"/><circle cx="337.5" cy="380.9" r="3.2"/><circle cx="357" cy="360.3" r="3.2"/><circle cx="357" cy="380.9" r="3.2"/><circle cx="376.5" cy="360.3" r="3.2"/><circle cx="376.5" cy="380.9" r="3.2"/><circle cx="396" cy="360.3" r="3.2"/><circle cx="396" cy="380.9" r="3.2"/><circle cx="415.4" cy="360.3" r="3.2"/><circle cx="415.4" cy="380.9" r="3.2"/></g>
<path fill="none" stroke="#d49ad8" stroke-width="0.8" d="M297 332.9L288.8 324M297 332.9L288.8 342.8M297 332.9L308.3 324M297 332.9L308.3 342.8M317 332.9L308.3 324M317 332.9L308.3 342.8M317 332.9L327.8 324M317 332.9L327.8 342.8M337 332.9L327.8 324M337 332.9L327.8 342.8M337 332.9L347.3 324M337 332.9L347.3 342.8M357 332.9L347.3 324M357 332.9L347.3 342.8M357 332.9L366.7 324M357 332.9L366.7 342.8M377 332.9L366.7 324M377 332.9L366.7 342.8M377 332.9L386.2 324M377 332.9L386.2 342.8M397 332.9L386.2 324M397 332.9L386.2 342.8M397 332.9L405.7 324M397 332.9L405.7 342.8M417 332.9L405.7 324M417 332.9L405.7 342.8M417 332.9L425.2 324M417 332.9L425.2 342.8M287 371.1L298.6 360.3M287 371.1L298.6 380.9M307 371.1L298.6 360.3M307 371.1L298.6 380.9M307 371.1L318 360.3M307 371.1L318 380.9M327 371.1L318 360.3M327 371.1L318 380.9M327 371.1L337.5 360.3M327 371.1L337.5 380.9M347 371.1L337.5 360.3M347 371.1L337.5 380.9M347 371.1L357 360.3M347 371.1L357 380.9M367 371.1L357 360.3M367 371.1L357 380.9M367 371.1L376.5 360.3M367 371.1L376.5 380.9M387 371.1L376.5 360.3M387 371.1L376.5 380.9M387 371.1L396 360.3M387 371.1L396 380.9M407 371.1L396 360.3M407 371.1L396 380.9M407 371.1L415.4 360.3M407 371.1L415.4 380.9M427 371.1L415.4 360.3M427 371.1L415.4 380.9"/>
<g fill="url(#bP)"><circle cx="297" cy="332.9" r="2.8"/><circle cx="317" cy="332.9" r="2.8"/><circle cx="337" cy="332.9" r="2.8"/><circle cx="357" cy="332.9" r="2.8"/><circle cx="377" cy="332.9" r="2.8"/><circle cx="397" cy="332.9" r="2.8"/><circle cx="417" cy="332.9" r="2.8"/><circle cx="287" cy="371.1" r="2.8"/><circle cx="307" cy="371.1" r="2.8"/><circle cx="327" cy="371.1" r="2.8"/><circle cx="347" cy="371.1" r="2.8"/><circle cx="367" cy="371.1" r="2.8"/><circle cx="387" cy="371.1" r="2.8"/><circle cx="407" cy="371.1" r="2.8"/><circle cx="427" cy="371.1" r="2.8"/></g>
<path fill="none" stroke="#d49ad8" stroke-width="0.8" d="M278.6 330.6L288.8 324M278.6 330.6L288.8 342.8M301 330.6L308.3 324M301 330.6L308.3 342.8M323.4 330.6L327.8 324M323.4 330.6L327.8 342.8M345.8 330.6L347.3 324M345.8 330.6L347.3 342.8M368.2 330.6L366.7 324M368.2 330.6L366.7 342.8M390.6 330.6L386.2 324M390.6 330.6L386.2 342.8M413 330.6L405.7 324M413 330.6L405.7 342.8M435.4 330.6L425.2 324M435.4 330.6L425.2 342.8M289.8 373.4L298.6 360.3M289.8 373.4L298.6 380.9M312.2 373.4L318 360.3M312.2 373.4L318 380.9M334.6 373.4L337.5 360.3M334.6 373.4L337.5 380.9M357 373.4L357 360.3M357 373.4L357 380.9M379.4 373.4L376.5 360.3M379.4 373.4L376.5 380.9M401.8 373.4L396 360.3M401.8 373.4L396 380.9M424.2 373.4L415.4 360.3M424.2 373.4L415.4 380.9"/>
<g fill="url(#bY)"><circle cx="291.8" cy="320.7" r="3.6"/><circle cx="291.8" cy="341.7" r="3.6"/><circle cx="313.5" cy="320.7" r="3.6"/><circle cx="313.5" cy="341.7" r="3.6"/><circle cx="335.3" cy="320.7" r="3.6"/><circle cx="335.3" cy="341.7" r="3.6"/><circle cx="357" cy="320.7" r="3.6"/><circle cx="357" cy="341.7" r="3.6"/><circle cx="378.7" cy="320.7" r="3.6"/><circle cx="378.7" cy="341.7" r="3.6"/><circle cx="400.5" cy="320.7" r="3.6"/><circle cx="400.5" cy="341.7" r="3.6"/><circle cx="422.2" cy="320.7" r="3.6"/><circle cx="422.2" cy="341.7" r="3.6"/><circle cx="280.9" cy="361.3" r="3.6"/><circle cx="280.9" cy="384.2" r="3.6"/><circle cx="302.6" cy="361.3" r="3.6"/><circle cx="302.6" cy="384.2" r="3.6"/><circle cx="324.4" cy="361.3" r="3.6"/><circle cx="324.4" cy="384.2" r="3.6"/><circle cx="346.1" cy="361.3" r="3.6"/><circle cx="346.1" cy="384.2" r="3.6"/><circle cx="367.9" cy="361.3" r="3.6"/><circle cx="367.9" cy="384.2" r="3.6"/><circle cx="389.6" cy="361.3" r="3.6"/><circle cx="389.6" cy="384.2" r="3.6"/><circle cx="411.4" cy="361.3" r="3.6"/><circle cx="411.4" cy="384.2" r="3.6"/><circle cx="433.1" cy="361.3" r="3.6"/><circle cx="433.1" cy="384.2" r="3.6"/></g>
<path fill="none" stroke="#d49ad8" stroke-width="0.9" d="M278.6 330.6L291.8 320.7M278.6 330.6L291.8 341.7M301 330.6L291.8 320.7M301 330.6L291.8 341.7M301 330.6L313.5 320.7M301 330.6L313.5 341.7M323.4 330.6L313.5 320.7M323.4 330.6L313.5 341.7M323.4 330.6L335.3 320.7M323.4 330.6L335.3 341.7M345.8 330.6L335.3 320.7M345.8 330.6L335.3 341.7M345.8 330.6L357 320.7M345.8 330.6L357 341.7M368.2 330.6L357 320.7M368.2 330.6L357 341.7M368.2 330.6L378.7 320.7M368.2 330.6L378.7 341.7M390.6 330.6L378.7 320.7M390.6 330.6L378.7 341.7M390.6 330.6L400.5 320.7M390.6 330.6L400.5 341.7M413 330.6L400.5 320.7M413 330.6L400.5 341.7M413 330.6L422.2 320.7M413 330.6L422.2 341.7M435.4 330.6L422.2 320.7M435.4 330.6L422.2 341.7M289.8 373.4L280.9 361.3M289.8 373.4L280.9 384.2M289.8 373.4L302.6 361.3M289.8 373.4L302.6 384.2M312.2 373.4L302.6 361.3M312.2 373.4L302.6 384.2M312.2 373.4L324.4 361.3M312.2 373.4L324.4 384.2M334.6 373.4L324.4 361.3M334.6 373.4L324.4 384.2M334.6 373.4L346.1 361.3M334.6 373.4L346.1 384.2M357 373.4L346.1 361.3M357 373.4L346.1 384.2M357 373.4L367.9 361.3M357 373.4L367.9 384.2M379.4 373.4L367.9 361.3M379.4 373.4L367.9 384.2M379.4 373.4L389.6 361.3M379.4 373.4L389.6 384.2M401.8 373.4L389.6 361.3M401.8 373.4L389.6 384.2M401.8 373.4L411.4 361.3M401.8 373.4L411.4 384.2M424.2 373.4L411.4 361.3M424.2 373.4L411.4 384.2M424.2 373.4L433.1 361.3M424.2 373.4L433.1 384.2"/>
<g fill="url(#bP)"><circle cx="278.6" cy="330.6" r="3.1"/><circle cx="301" cy="330.6" r="3.1"/><circle cx="323.4" cy="330.6" r="3.1"/><circle cx="345.8" cy="330.6" r="3.1"/><circle cx="368.2" cy="330.6" r="3.1"/><circle cx="390.6" cy="330.6" r="3.1"/><circle cx="413" cy="330.6" r="3.1"/><circle cx="435.4" cy="330.6" r="3.1"/><circle cx="289.8" cy="373.4" r="3.1"/><circle cx="312.2" cy="373.4" r="3.1"/><circle cx="334.6" cy="373.4" r="3.1"/><circle cx="357" cy="373.4" r="3.1"/><circle cx="379.4" cy="373.4" r="3.1"/><circle cx="401.8" cy="373.4" r="3.1"/><circle cx="424.2" cy="373.4" r="3.1"/></g>
<g fill="url(#bY)"><circle cx="549.1" cy="338.3" r="1.6"/><circle cx="549.1" cy="347.5" r="1.6"/><circle cx="558.7" cy="338.3" r="1.6"/><circle cx="558.7" cy="347.5" r="1.6"/><circle cx="568.2" cy="338.3" r="1.6"/><circle cx="568.2" cy="347.5" r="1.6"/><circle cx="577.7" cy="338.3" r="1.6"/><circle cx="577.7" cy="347.5" r="1.6"/><circle cx="587.3" cy="338.3" r="1.6"/><circle cx="587.3" cy="347.5" r="1.6"/><circle cx="596.8" cy="338.3" r="1.6"/><circle cx="596.8" cy="347.5" r="1.6"/><circle cx="606.3" cy="338.3" r="1.6"/><circle cx="606.3" cy="347.5" r="1.6"/><circle cx="615.9" cy="338.3" r="1.6"/><circle cx="615.9" cy="347.5" r="1.6"/></g>
<g fill="url(#bB)"><circle cx="553.9" cy="356.1" r="1.6"/><circle cx="553.9" cy="366.1" r="1.6"/><circle cx="563.4" cy="356.1" r="1.6"/><circle cx="563.4" cy="366.1" r="1.6"/><circle cx="573" cy="356.1" r="1.6"/><circle cx="573" cy="366.1" r="1.6"/><circle cx="582.5" cy="356.1" r="1.6"/><circle cx="582.5" cy="366.1" r="1.6"/><circle cx="592" cy="356.1" r="1.6"/><circle cx="592" cy="366.1" r="1.6"/><circle cx="601.6" cy="356.1" r="1.6"/><circle cx="601.6" cy="366.1" r="1.6"/><circle cx="611.1" cy="356.1" r="1.6"/><circle cx="611.1" cy="366.1" r="1.6"/></g>
<path fill="none" stroke="#d49ad8" stroke-width="0.5" d="M553.5 342.8L549.1 338.3M553.5 342.8L549.1 347.5M553.5 342.8L558.7 338.3M553.5 342.8L558.7 347.5M563.2 342.8L558.7 338.3M563.2 342.8L558.7 347.5M563.2 342.8L568.2 338.3M563.2 342.8L568.2 347.5M572.8 342.8L568.2 338.3M572.8 342.8L568.2 347.5M572.8 342.8L577.7 338.3M572.8 342.8L577.7 347.5M582.5 342.8L577.7 338.3M582.5 342.8L577.7 347.5M582.5 342.8L587.3 338.3M582.5 342.8L587.3 347.5M592.2 342.8L587.3 338.3M592.2 342.8L587.3 347.5M592.2 342.8L596.8 338.3M592.2 342.8L596.8 347.5M601.8 342.8L596.8 338.3M601.8 342.8L596.8 347.5M601.8 342.8L606.3 338.3M601.8 342.8L606.3 347.5M611.5 342.8L606.3 338.3M611.5 342.8L606.3 347.5M611.5 342.8L615.9 338.3M611.5 342.8L615.9 347.5M548.7 361.2L553.9 356.1M548.7 361.2L553.9 366.1M558.4 361.2L553.9 356.1M558.4 361.2L553.9 366.1M558.4 361.2L563.4 356.1M558.4 361.2L563.4 366.1M568 361.2L563.4 356.1M568 361.2L563.4 366.1M568 361.2L573 356.1M568 361.2L573 366.1M577.7 361.2L573 356.1M577.7 361.2L573 366.1M577.7 361.2L582.5 356.1M577.7 361.2L582.5 366.1M587.3 361.2L582.5 356.1M587.3 361.2L582.5 366.1M587.3 361.2L592 356.1M587.3 361.2L592 366.1M597 361.2L592 356.1M597 361.2L592 366.1M597 361.2L601.6 356.1M597 361.2L601.6 366.1M606.6 361.2L601.6 356.1M606.6 361.2L601.6 366.1M606.6 361.2L611.1 356.1M606.6 361.2L611.1 366.1M616.3 361.2L611.1 356.1M616.3 361.2L611.1 366.1"/>
<g fill="url(#bP)"><circle cx="553.5" cy="342.8" r="1.3"/><circle cx="563.2" cy="342.8" r="1.3"/><circle cx="572.8" cy="342.8" r="1.3"/><circle cx="582.5" cy="342.8" r="1.3"/><circle cx="592.2" cy="342.8" r="1.3"/><circle cx="601.8" cy="342.8" r="1.3"/><circle cx="611.5" cy="342.8" r="1.3"/><circle cx="548.7" cy="361.2" r="1.3"/><circle cx="558.4" cy="361.2" r="1.3"/><circle cx="568" cy="361.2" r="1.3"/><circle cx="577.7" cy="361.2" r="1.3"/><circle cx="587.3" cy="361.2" r="1.3"/><circle cx="597" cy="361.2" r="1.3"/><circle cx="606.6" cy="361.2" r="1.3"/><circle cx="616.3" cy="361.2" r="1.3"/></g>
<path fill="none" stroke="#d49ad8" stroke-width="0.5" d="M546.9 342.3L549.1 338.3M546.9 342.3L549.1 347.5M557 342.3L558.7 338.3M557 342.3L558.7 347.5M567.2 342.3L568.2 338.3M567.2 342.3L568.2 347.5M577.4 342.3L577.7 338.3M577.4 342.3L577.7 347.5M587.6 342.3L587.3 338.3M587.6 342.3L587.3 347.5M597.8 342.3L596.8 338.3M597.8 342.3L596.8 347.5M608 342.3L606.3 338.3M608 342.3L606.3 347.5M618.1 342.3L615.9 338.3M618.1 342.3L615.9 347.5M552 361.7L553.9 356.1M552 361.7L553.9 366.1M562.1 361.7L563.4 356.1M562.1 361.7L563.4 366.1M572.3 361.7L573 356.1M572.3 361.7L573 366.1M582.5 361.7L582.5 356.1M582.5 361.7L582.5 366.1M592.7 361.7L592 356.1M592.7 361.7L592 366.1M602.9 361.7L601.6 356.1M602.9 361.7L601.6 366.1M613 361.7L611.1 356.1M613 361.7L611.1 366.1"/>
<g fill="url(#bY)"><circle cx="552.4" cy="337.6" r="1.7"/><circle cx="552.4" cy="347.2" r="1.7"/><circle cx="562.4" cy="337.6" r="1.7"/><circle cx="562.4" cy="347.2" r="1.7"/><circle cx="572.5" cy="337.6" r="1.7"/><circle cx="572.5" cy="347.2" r="1.7"/><circle cx="582.5" cy="337.6" r="1.7"/><circle cx="582.5" cy="347.2" r="1.7"/><circle cx="592.5" cy="337.6" r="1.7"/><circle cx="592.5" cy="347.2" r="1.7"/><circle cx="602.6" cy="337.6" r="1.7"/><circle cx="602.6" cy="347.2" r="1.7"/><circle cx="612.6" cy="337.6" r="1.7"/><circle cx="612.6" cy="347.2" r="1.7"/></g>
<g fill="url(#bB)"><circle cx="547.3" cy="356.3" r="1.7"/><circle cx="547.3" cy="366.9" r="1.7"/><circle cx="557.4" cy="356.3" r="1.7"/><circle cx="557.4" cy="366.9" r="1.7"/><circle cx="567.4" cy="356.3" r="1.7"/><circle cx="567.4" cy="366.9" r="1.7"/><circle cx="577.5" cy="356.3" r="1.7"/><circle cx="577.5" cy="366.9" r="1.7"/><circle cx="587.5" cy="356.3" r="1.7"/><circle cx="587.5" cy="366.9" r="1.7"/><circle cx="597.6" cy="356.3" r="1.7"/><circle cx="597.6" cy="366.9" r="1.7"/><circle cx="607.6" cy="356.3" r="1.7"/><circle cx="607.6" cy="366.9" r="1.7"/><circle cx="617.7" cy="356.3" r="1.7"/><circle cx="617.7" cy="366.9" r="1.7"/></g>
<path fill="none" stroke="#d49ad8" stroke-width="0.5" d="M546.9 342.3L552.4 337.6M546.9 342.3L552.4 347.2M557 342.3L552.4 337.6M557 342.3L552.4 347.2M557 342.3L562.4 337.6M557 342.3L562.4 347.2M567.2 342.3L562.4 337.6M567.2 342.3L562.4 347.2M567.2 342.3L572.5 337.6M567.2 342.3L572.5 347.2M577.4 342.3L572.5 337.6M577.4 342.3L572.5 347.2M577.4 342.3L582.5 337.6M577.4 342.3L582.5 347.2M587.6 342.3L582.5 337.6M587.6 342.3L582.5 347.2M587.6 342.3L592.5 337.6M587.6 342.3L592.5 347.2M597.8 342.3L592.5 337.6M597.8 342.3L592.5 347.2M597.8 342.3L602.6 337.6M597.8 342.3L602.6 347.2M608 342.3L602.6 337.6M608 342.3L602.6 347.2M608 342.3L612.6 337.6M608 342.3L612.6 347.2M618.1 342.3L612.6 337.6M618.1 342.3L612.6 347.2M552 361.7L547.3 356.3M552 361.7L547.3 366.9M552 361.7L557.4 356.3M552 361.7L557.4 366.9M562.1 361.7L557.4 356.3M562.1 361.7L557.4 366.9M562.1 361.7L567.4 356.3M562.1 361.7L567.4 366.9M572.3 361.7L567.4 356.3M572.3 361.7L567.4 366.9M572.3 361.7L577.5 356.3M572.3 361.7L577.5 366.9M582.5 361.7L577.5 356.3M582.5 361.7L577.5 366.9M582.5 361.7L587.5 356.3M582.5 361.7L587.5 366.9M592.7 361.7L587.5 356.3M592.7 361.7L587.5 366.9M592.7 361.7L597.6 356.3M592.7 361.7L597.6 366.9M602.9 361.7L597.6 356.3M602.9 361.7L597.6 366.9M602.9 361.7L607.6 356.3M602.9 361.7L607.6 366.9M613 361.7L607.6 356.3M613 361.7L607.6 366.9M613 361.7L617.7 356.3M613 361.7L617.7 366.9"/>
<g fill="url(#bP)"><circle cx="546.9" cy="342.3" r="1.4"/><circle cx="557" cy="342.3" r="1.4"/><circle cx="567.2" cy="342.3" r="1.4"/><circle cx="577.4" cy="342.3" r="1.4"/><circle cx="587.6" cy="342.3" r="1.4"/><circle cx="597.8" cy="342.3" r="1.4"/><circle cx="608" cy="342.3" r="1.4"/><circle cx="618.1" cy="342.3" r="1.4"/><circle cx="552" cy="361.7" r="1.4"/><circle cx="562.1" cy="361.7" r="1.4"/><circle cx="572.3" cy="361.7" r="1.4"/><circle cx="582.5" cy="361.7" r="1.4"/><circle cx="592.7" cy="361.7" r="1.4"/><circle cx="602.9" cy="361.7" r="1.4"/><circle cx="613" cy="361.7" r="1.4"/></g>
<path fill="none" stroke="#d49ad8" stroke-width="0.5" d="M550.2 341.7L552.4 337.6M550.2 341.7L552.4 347.2M561 341.7L562.4 337.6M561 341.7L562.4 347.2M571.7 341.7L572.5 337.6M571.7 341.7L572.5 347.2M582.5 341.7L582.5 337.6M582.5 341.7L582.5 347.2M593.3 341.7L592.5 337.6M593.3 341.7L592.5 347.2M604 341.7L602.6 337.6M604 341.7L602.6 347.2M614.8 341.7L612.6 337.6M614.8 341.7L612.6 347.2M544.8 362.3L547.3 356.3M544.8 362.3L547.3 366.9M555.6 362.3L557.4 356.3M555.6 362.3L557.4 366.9M566.3 362.3L567.4 356.3M566.3 362.3L567.4 366.9M577.1 362.3L577.5 356.3M577.1 362.3L577.5 366.9M587.9 362.3L587.5 356.3M587.9 362.3L587.5 366.9M598.7 362.3L597.6 356.3M598.7 362.3L597.6 366.9M609.4 362.3L607.6 356.3M609.4 362.3L607.6 366.9M620.2 362.3L617.7 356.3M620.2 362.3L617.7 366.9"/>
<g fill="url(#bY)"><circle cx="545.3" cy="336.7" r="1.8"/><circle cx="545.3" cy="347" r="1.8"/><circle cx="556" cy="336.7" r="1.8"/><circle cx="556" cy="347" r="1.8"/><circle cx="566.6" cy="336.7" r="1.8"/><circle cx="566.6" cy="347" r="1.8"/><circle cx="577.2" cy="336.7" r="1.8"/><circle cx="577.2" cy="347" r="1.8"/><circle cx="587.8" cy="336.7" r="1.8"/><circle cx="587.8" cy="347" r="1.8"/><circle cx="598.4" cy="336.7" r="1.8"/><circle cx="598.4" cy="347" r="1.8"/><circle cx="609" cy="336.7" r="1.8"/><circle cx="609" cy="347" r="1.8"/><circle cx="619.7" cy="336.7" r="1.8"/><circle cx="619.7" cy="347" r="1.8"/></g>
<g fill="url(#bB)"><circle cx="550.7" cy="356.5" r="1.8"/><circle cx="550.7" cy="367.7" r="1.8"/><circle cx="561.3" cy="356.5" r="1.8"/><circle cx="561.3" cy="367.7" r="1.8"/><circle cx="571.9" cy="356.5" r="1.8"/><circle cx="571.9" cy="367.7" r="1.8"/><circle cx="582.5" cy="356.5" r="1.8"/><circle cx="582.5" cy="367.7" r="1.8"/><circle cx="593.1" cy="356.5" r="1.8"/><circle cx="593.1" cy="367.7" r="1.8"/><circle cx="603.7" cy="356.5" r="1.8"/><circle cx="603.7" cy="367.7" r="1.8"/><circle cx="614.3" cy="356.5" r="1.8"/><circle cx="614.3" cy="367.7" r="1.8"/></g>
<path fill="none" stroke="#d49ad8" stroke-width="0.5" d="M550.2 341.7L545.3 336.7M550.2 341.7L545.3 347M550.2 341.7L556 336.7M550.2 341.7L556 347M561 341.7L556 336.7M561 341.7L556 347M561 341.7L566.6 336.7M561 341.7L566.6 347M571.7 341.7L566.6 336.7M571.7 341.7L566.6 347M571.7 341.7L577.2 336.7M571.7 341.7L577.2 347M582.5 341.7L577.2 336.7M582.5 341.7L577.2 347M582.5 341.7L587.8 336.7M582.5 341.7L587.8 347M593.3 341.7L587.8 336.7M593.3 341.7L587.8 347M593.3 341.7L598.4 336.7M593.3 341.7L598.4 347M604 341.7L598.4 336.7M604 341.7L598.4 347M604 341.7L609 336.7M604 341.7L609 347M614.8 341.7L609 336.7M614.8 341.7L609 347M614.8 341.7L619.7 336.7M614.8 341.7L619.7 347M544.8 362.3L550.7 356.5M544.8 362.3L550.7 367.7M555.6 362.3L550.7 356.5M555.6 362.3L550.7 367.7M555.6 362.3L561.3 356.5M555.6 362.3L561.3 367.7M566.3 362.3L561.3 356.5M566.3 362.3L561.3 367.7M566.3 362.3L571.9 356.5M566.3 362.3L571.9 367.7M577.1 362.3L571.9 356.5M577.1 362.3L571.9 367.7M577.1 362.3L582.5 356.5M577.1 362.3L582.5 367.7M587.9 362.3L582.5 356.5M587.9 362.3L582.5 367.7M587.9 362.3L593.1 356.5M587.9 362.3L593.1 367.7M598.7 362.3L593.1 356.5M598.7 362.3L593.1 367.7M598.7 362.3L603.7 356.5M598.7 362.3L603.7 367.7M609.4 362.3L603.7 356.5M609.4 362.3L603.7 367.7M609.4 362.3L614.3 356.5M609.4 362.3L614.3 367.7M620.2 362.3L614.3 356.5M620.2 362.3L614.3 367.7"/>
<g fill="url(#bP)"><circle cx="550.2" cy="341.7" r="1.5"/><circle cx="561" cy="341.7" r="1.5"/><circle cx="571.7" cy="341.7" r="1.5"/><circle cx="582.5" cy="341.7" r="1.5"/><circle cx="593.3" cy="341.7" r="1.5"/><circle cx="604" cy="341.7" r="1.5"/><circle cx="614.8" cy="341.7" r="1.5"/><circle cx="544.8" cy="362.3" r="1.5"/><circle cx="555.6" cy="362.3" r="1.5"/><circle cx="566.3" cy="362.3" r="1.5"/><circle cx="577.1" cy="362.3" r="1.5"/><circle cx="587.9" cy="362.3" r="1.5"/><circle cx="598.7" cy="362.3" r="1.5"/><circle cx="609.4" cy="362.3" r="1.5"/><circle cx="620.2" cy="362.3" r="1.5"/></g>
<path fill="none" stroke="#d49ad8" stroke-width="0.5" d="M542.5 341.1L545.3 336.7M542.5 341.1L545.3 347M553.9 341.1L556 336.7M553.9 341.1L556 347M565.4 341.1L566.6 336.7M565.4 341.1L566.6 347M576.8 341.1L577.2 336.7M576.8 341.1L577.2 347M588.2 341.1L587.8 336.7M588.2 341.1L587.8 347M599.6 341.1L598.4 336.7M599.6 341.1L598.4 347M611.1 341.1L609 336.7M611.1 341.1L609 347M622.5 341.1L619.7 336.7M622.5 341.1L619.7 347M548.2 362.9L550.7 356.5M548.2 362.9L550.7 367.7M559.6 362.9L561.3 356.5M559.6 362.9L561.3 367.7M571.1 362.9L571.9 356.5M571.1 362.9L571.9 367.7M582.5 362.9L582.5 356.5M582.5 362.9L582.5 367.7M593.9 362.9L593.1 356.5M593.9 362.9L593.1 367.7M605.4 362.9L603.7 356.5M605.4 362.9L603.7 367.7M616.8 362.9L614.3 356.5M616.8 362.9L614.3 367.7"/>
<g fill="url(#bY)"><circle cx="548.7" cy="335.8" r="1.9"/><circle cx="548.7" cy="346.7" r="1.9"/><circle cx="560" cy="335.8" r="1.9"/><circle cx="560" cy="346.7" r="1.9"/><circle cx="571.2" cy="335.8" r="1.9"/><circle cx="571.2" cy="346.7" r="1.9"/><circle cx="582.5" cy="335.8" r="1.9"/><circle cx="582.5" cy="346.7" r="1.9"/><circle cx="593.8" cy="335.8" r="1.9"/><circle cx="593.8" cy="346.7" r="1.9"/><circle cx="605" cy="335.8" r="1.9"/><circle cx="605" cy="346.7" r="1.9"/><circle cx="616.3" cy="335.8" r="1.9"/><circle cx="616.3" cy="346.7" r="1.9"/></g>
<g fill="url(#bB)"><circle cx="543.1" cy="356.8" r="1.9"/><circle cx="543.1" cy="368.7" r="1.9"/><circle cx="554.4" cy="356.8" r="1.9"/><circle cx="554.4" cy="368.7" r="1.9"/><circle cx="565.6" cy="356.8" r="1.9"/><circle cx="565.6" cy="368.7" r="1.9"/><circle cx="576.9" cy="356.8" r="1.9"/><circle cx="576.9" cy="368.7" r="1.9"/><circle cx="588.1" cy="356.8" r="1.9"/><circle cx="588.1" cy="368.7" r="1.9"/><circle cx="599.4" cy="356.8" r="1.9"/><circle cx="599.4" cy="368.7" r="1.9"/><circle cx="610.6" cy="356.8" r="1.9"/><circle cx="610.6" cy="368.7" r="1.9"/><circle cx="621.9" cy="356.8" r="1.9"/><circle cx="621.9" cy="368.7" r="1.9"/></g>
<path fill="none" stroke="#d49ad8" stroke-width="0.5" d="M542.5 341.1L548.7 335.8M542.5 341.1L548.7 346.7M553.9 341.1L548.7 335.8M553.9 341.1L548.7 346.7M553.9 341.1L560 335.8M553.9 341.1L560 346.7M565.4 341.1L560 335.8M565.4 341.1L560 346.7M565.4 341.1L571.2 335.8M565.4 341.1L571.2 346.7M576.8 341.1L571.2 335.8M576.8 341.1L571.2 346.7M576.8 341.1L582.5 335.8M576.8 341.1L582.5 346.7M588.2 341.1L582.5 335.8M588.2 341.1L582.5 346.7M588.2 341.1L593.8 335.8M588.2 341.1L593.8 346.7M599.6 341.1L593.8 335.8M599.6 341.1L593.8 346.7M599.6 341.1L605 335.8M599.6 341.1L605 346.7M611.1 341.1L605 335.8M611.1 341.1L605 346.7M611.1 341.1L616.3 335.8M611.1 341.1L616.3 346.7M622.5 341.1L616.3 335.8M622.5 341.1L616.3 346.7M548.2 362.9L543.1 356.8M548.2 362.9L543.1 368.7M548.2 362.9L554.4 356.8M548.2 362.9L554.4 368.7M559.6 362.9L554.4 356.8M559.6 362.9L554.4 368.7M559.6 362.9L565.6 356.8M559.6 362.9L565.6 368.7M571.1 362.9L565.6 356.8M571.1 362.9L565.6 368.7M571.1 362.9L576.9 356.8M571.1 362.9L576.9 368.7M582.5 362.9L576.9 356.8M582.5 362.9L576.9 368.7M582.5 362.9L588.1 356.8M582.5 362.9L588.1 368.7M593.9 362.9L588.1 356.8M593.9 362.9L588.1 368.7M593.9 362.9L599.4 356.8M593.9 362.9L599.4 368.7M605.4 362.9L599.4 356.8M605.4 362.9L599.4 368.7M605.4 362.9L610.6 356.8M605.4 362.9L610.6 368.7M616.8 362.9L610.6 356.8M616.8 362.9L610.6 368.7M616.8 362.9L621.9 356.8M616.8 362.9L621.9 368.7"/>
<g fill="url(#bP)"><circle cx="542.5" cy="341.1" r="1.6"/><circle cx="553.9" cy="341.1" r="1.6"/><circle cx="565.4" cy="341.1" r="1.6"/><circle cx="576.8" cy="341.1" r="1.6"/><circle cx="588.2" cy="341.1" r="1.6"/><circle cx="599.6" cy="341.1" r="1.6"/><circle cx="611.1" cy="341.1" r="1.6"/><circle cx="622.5" cy="341.1" r="1.6"/><circle cx="548.2" cy="362.9" r="1.6"/><circle cx="559.6" cy="362.9" r="1.6"/><circle cx="571.1" cy="362.9" r="1.6"/><circle cx="582.5" cy="362.9" r="1.6"/><circle cx="593.9" cy="362.9" r="1.6"/><circle cx="605.4" cy="362.9" r="1.6"/><circle cx="616.8" cy="362.9" r="1.6"/></g>
<path fill="none" stroke="#d49ad8" stroke-width="0.5" d="M546 340.4L548.7 335.8M546 340.4L548.7 346.7M558.2 340.4L560 335.8M558.2 340.4L560 346.7M570.3 340.4L571.2 335.8M570.3 340.4L571.2 346.7M582.5 340.4L582.5 335.8M582.5 340.4L582.5 346.7M594.7 340.4L593.8 335.8M594.7 340.4L593.8 346.7M606.8 340.4L605 335.8M606.8 340.4L605 346.7M619 340.4L616.3 335.8M619 340.4L616.3 346.7M539.9 363.6L543.1 356.8M539.9 363.6L543.1 368.7M552.1 363.6L554.4 356.8M552.1 363.6L554.4 368.7M564.2 363.6L565.6 356.8M564.2 363.6L565.6 368.7M576.4 363.6L576.9 356.8M576.4 363.6L576.9 368.7M588.6 363.6L588.1 356.8M588.6 363.6L588.1 368.7M600.8 363.6L599.4 356.8M600.8 363.6L599.4 368.7M612.9 363.6L610.6 356.8M612.9 363.6L610.6 368.7M625.1 363.6L621.9 356.8M625.1 363.6L621.9 368.7"/>
<g fill="url(#bY)"><circle cx="540.6" cy="334.8" r="2"/><circle cx="540.6" cy="346.3" r="2"/><circle cx="552.6" cy="334.8" r="2"/><circle cx="552.6" cy="346.3" r="2"/><circle cx="564.5" cy="334.8" r="2"/><circle cx="564.5" cy="346.3" r="2"/><circle cx="576.5" cy="334.8" r="2"/><circle cx="576.5" cy="346.3" r="2"/><circle cx="588.5" cy="334.8" r="2"/><circle cx="588.5" cy="346.3" r="2"/><circle cx="600.5" cy="334.8" r="2"/><circle cx="600.5" cy="346.3" r="2"/><circle cx="612.4" cy="334.8" r="2"/><circle cx="612.4" cy="346.3" r="2"/><circle cx="624.4" cy="334.8" r="2"/><circle cx="624.4" cy="346.3" r="2"/></g>
<g fill="url(#bB)"><circle cx="546.6" cy="357.1" r="2"/><circle cx="546.6" cy="369.8" r="2"/><circle cx="558.5" cy="357.1" r="2"/><circle cx="558.5" cy="369.8" r="2"/><circle cx="570.5" cy="357.1" r="2"/><circle cx="570.5" cy="369.8" r="2"/><circle cx="582.5" cy="357.1" r="2"/><circle cx="582.5" cy="369.8" r="2"/><circle cx="594.5" cy="357.1" r="2"/><circle cx="594.5" cy="369.8" r="2"/><circle cx="606.5" cy="357.1" r="2"/><circle cx="606.5" cy="369.8" r="2"/><circle cx="618.4" cy="357.1" r="2"/><circle cx="618.4" cy="369.8" r="2"/></g>
<path fill="none" stroke="#d49ad8" stroke-width="0.5" d="M546 340.4L540.6 334.8M546 340.4L540.6 346.3M546 340.4L552.6 334.8M546 340.4L552.6 346.3M558.2 340.4L552.6 334.8M558.2 340.4L552.6 346.3M558.2 340.4L564.5 334.8M558.2 340.4L564.5 346.3M570.3 340.4L564.5 334.8M570.3 340.4L564.5 346.3M570.3 340.4L576.5 334.8M570.3 340.4L576.5 346.3M582.5 340.4L576.5 334.8M582.5 340.4L576.5 346.3M582.5 340.4L588.5 334.8M582.5 340.4L588.5 346.3M594.7 340.4L588.5 334.8M594.7 340.4L588.5 346.3M594.7 340.4L600.5 334.8M594.7 340.4L600.5 346.3M606.8 340.4L600.5 334.8M606.8 340.4L600.5 346.3M606.8 340.4L612.4 334.8M606.8 340.4L612.4 346.3M619 340.4L612.4 334.8M619 340.4L612.4 346.3M619 340.4L624.4 334.8M619 340.4L624.4 346.3M539.9 363.6L546.6 357.1M539.9 363.6L546.6 369.8M552.1 363.6L546.6 357.1M552.1 363.6L546.6 369.8M552.1 363.6L558.5 357.1M552.1 363.6L558.5 369.8M564.2 363.6L558.5 357.1M564.2 363.6L558.5 369.8M564.2 363.6L570.5 357.1M564.2 363.6L570.5 369.8M576.4 363.6L570.5 357.1M576.4 363.6L570.5 369.8M576.4 363.6L582.5 357.1M576.4 363.6L582.5 369.8M588.6 363.6L582.5 357.1M588.6 363.6L582.5 369.8M588.6 363.6L594.5 357.1M588.6 363.6L594.5 369.8M600.8 363.6L594.5 357.1M600.8 363.6L594.5 369.8M600.8 363.6L606.5 357.1M600.8 363.6L606.5 369.8M612.9 363.6L606.5 357.1M612.9 363.6L606.5 369.8M612.9 363.6L618.4 357.1M612.9 363.6L618.4 369.8M625.1 363.6L618.4 357.1M625.1 363.6L618.4 369.8"/>
<g fill="url(#bP)"><circle cx="546" cy="340.4" r="1.7"/><circle cx="558.2" cy="340.4" r="1.7"/><circle cx="570.3" cy="340.4" r="1.7"/><circle cx="582.5" cy="340.4" r="1.7"/><circle cx="594.7" cy="340.4" r="1.7"/><circle cx="606.8" cy="340.4" r="1.7"/><circle cx="619" cy="340.4" r="1.7"/><circle cx="539.9" cy="363.6" r="1.7"/><circle cx="552.1" cy="363.6" r="1.7"/><circle cx="564.2" cy="363.6" r="1.7"/><circle cx="576.4" cy="363.6" r="1.7"/><circle cx="588.6" cy="363.6" r="1.7"/><circle cx="600.8" cy="363.6" r="1.7"/><circle cx="612.9" cy="363.6" r="1.7"/><circle cx="625.1" cy="363.6" r="1.7"/></g>
<path fill="none" stroke="#d49ad8" stroke-width="0.5" d="M536.9 339.6L540.6 334.8M536.9 339.6L540.6 346.3M549.9 339.6L552.6 334.8M549.9 339.6L552.6 346.3M563 339.6L564.5 334.8M563 339.6L564.5 346.3M576 339.6L576.5 334.8M576 339.6L576.5 346.3M589 339.6L588.5 334.8M589 339.6L588.5 346.3M602 339.6L600.5 334.8M602 339.6L600.5 346.3M615.1 339.6L612.4 334.8M615.1 339.6L612.4 346.3M628.1 339.6L624.4 334.8M628.1 339.6L624.4 346.3M543.4 364.4L546.6 357.1M543.4 364.4L546.6 369.8M556.5 364.4L558.5 357.1M556.5 364.4L558.5 369.8M569.5 364.4L570.5 357.1M569.5 364.4L570.5 369.8M582.5 364.4L582.5 357.1M582.5 364.4L582.5 369.8M595.5 364.4L594.5 357.1M595.5 364.4L594.5 369.8M608.5 364.4L606.5 357.1M608.5 364.4L606.5 369.8M621.6 364.4L618.4 357.1M621.6 364.4L618.4 369.8"/>
<g fill="url(#bY)"><circle cx="544.1" cy="333.6" r="2.1"/><circle cx="544.1" cy="345.9" r="2.1"/><circle cx="556.9" cy="333.6" r="2.1"/><circle cx="556.9" cy="345.9" r="2.1"/><circle cx="569.7" cy="333.6" r="2.1"/><circle cx="569.7" cy="345.9" r="2.1"/><circle cx="582.5" cy="333.6" r="2.1"/><circle cx="582.5" cy="345.9" r="2.1"/><circle cx="595.3" cy="333.6" r="2.1"/><circle cx="595.3" cy="345.9" r="2.1"/><circle cx="608.1" cy="333.6" r="2.1"/><circle cx="608.1" cy="345.9" r="2.1"/><circle cx="620.9" cy="333.6" r="2.1"/><circle cx="620.9" cy="345.9" r="2.1"/></g>
<g fill="url(#bB)"><circle cx="537.7" cy="357.5" r="2.1"/><circle cx="537.7" cy="371" r="2.1"/><circle cx="550.5" cy="357.5" r="2.1"/><circle cx="550.5" cy="371" r="2.1"/><circle cx="563.3" cy="357.5" r="2.1"/><circle cx="563.3" cy="371" r="2.1"/><circle cx="576.1" cy="357.5" r="2.1"/><circle cx="576.1" cy="371" r="2.1"/><circle cx="588.9" cy="357.5" r="2.1"/><circle cx="588.9" cy="371" r="2.1"/><circle cx="601.7" cy="357.5" r="2.1"/><circle cx="601.7" cy="371" r="2.1"/><circle cx="614.5" cy="357.5" r="2.1"/><circle cx="614.5" cy="371" r="2.1"/><circle cx="627.3" cy="357.5" r="2.1"/><circle cx="627.3" cy="371" r="2.1"/></g>
<path fill="none" stroke="#d49ad8" stroke-width="0.5" d="M536.9 339.6L544.1 333.6M536.9 339.6L544.1 345.9M549.9 339.6L544.1 333.6M549.9 339.6L544.1 345.9M549.9 339.6L556.9 333.6M549.9 339.6L556.9 345.9M563 339.6L556.9 333.6M563 339.6L556.9 345.9M563 339.6L569.7 333.6M563 339.6L569.7 345.9M576 339.6L569.7 333.6M576 339.6L569.7 345.9M576 339.6L582.5 333.6M576 339.6L582.5 345.9M589 339.6L582.5 333.6M589 339.6L582.5 345.9M589 339.6L595.3 333.6M589 339.6L595.3 345.9M602 339.6L595.3 333.6M602 339.6L595.3 345.9M602 339.6L608.1 333.6M602 339.6L608.1 345.9M615.1 339.6L608.1 333.6M615.1 339.6L608.1 345.9M615.1 339.6L620.9 333.6M615.1 339.6L620.9 345.9M628.1 339.6L620.9 333.6M628.1 339.6L620.9 345.9M543.4 364.4L537.7 357.5M543.4 364.4L537.7 371M543.4 364.4L550.5 357.5M543.4 364.4L550.5 371M556.5 364.4L550.5 357.5M556.5 364.4L550.5 371M556.5 364.4L563.3 357.5M556.5 364.4L563.3 371M569.5 364.4L563.3 357.5M569.5 364.4L563.3 371M569.5 364.4L576.1 357.5M569.5 364.4L576.1 371M582.5 364.4L576.1 357.5M582.5 364.4L576.1 371M582.5 364.4L588.9 357.5M582.5 364.4L588.9 371M595.5 364.4L588.9 357.5M595.5 364.4L588.9 371M595.5 364.4L601.7 357.5M595.5 364.4L601.7 371M608.5 364.4L601.7 357.5M608.5 364.4L601.7 371M608.5 364.4L614.5 357.5M608.5 364.4L614.5 371M621.6 364.4L614.5 357.5M621.6 364.4L614.5 371M621.6 364.4L627.3 357.5M621.6 364.4L627.3 371"/>
<g fill="url(#bP)"><circle cx="536.9" cy="339.6" r="1.8"/><circle cx="549.9" cy="339.6" r="1.8"/><circle cx="563" cy="339.6" r="1.8"/><circle cx="576" cy="339.6" r="1.8"/><circle cx="589" cy="339.6" r="1.8"/><circle cx="602" cy="339.6" r="1.8"/><circle cx="615.1" cy="339.6" r="1.8"/><circle cx="628.1" cy="339.6" r="1.8"/><circle cx="543.4" cy="364.4" r="1.8"/><circle cx="556.5" cy="364.4" r="1.8"/><circle cx="569.5" cy="364.4" r="1.8"/><circle cx="582.5" cy="364.4" r="1.8"/><circle cx="595.5" cy="364.4" r="1.8"/><circle cx="608.5" cy="364.4" r="1.8"/><circle cx="621.6" cy="364.4" r="1.8"/></g>
<path fill="none" stroke="#d49ad8" stroke-width="0.5" d="M540.5 338.6L544.1 333.6M540.5 338.6L544.1 345.9M554.5 338.6L556.9 333.6M554.5 338.6L556.9 345.9M568.5 338.6L569.7 333.6M568.5 338.6L569.7 345.9M582.5 338.6L582.5 333.6M582.5 338.6L582.5 345.9M596.5 338.6L595.3 333.6M596.5 338.6L595.3 345.9M610.5 338.6L608.1 333.6M610.5 338.6L608.1 345.9M624.5 338.6L620.9 333.6M624.5 338.6L620.9 345.9M533.5 365.4L537.7 357.5M533.5 365.4L537.7 371M547.5 365.4L550.5 357.5M547.5 365.4L550.5 371M561.5 365.4L563.3 357.5M561.5 365.4L563.3 371M575.5 365.4L576.1 357.5M575.5 365.4L576.1 371M589.5 365.4L588.9 357.5M589.5 365.4L588.9 371M603.5 365.4L601.7 357.5M603.5 365.4L601.7 371M617.5 365.4L614.5 357.5M617.5 365.4L614.5 371M631.5 365.4L627.3 357.5M631.5 365.4L627.3 371"/>
<g fill="url(#bY)"><circle cx="534.4" cy="332.2" r="2.3"/><circle cx="534.4" cy="345.5" r="2.3"/><circle cx="548.1" cy="332.2" r="2.3"/><circle cx="548.1" cy="345.5" r="2.3"/><circle cx="561.9" cy="332.2" r="2.3"/><circle cx="561.9" cy="345.5" r="2.3"/><circle cx="575.6" cy="332.2" r="2.3"/><circle cx="575.6" cy="345.5" r="2.3"/><circle cx="589.4" cy="332.2" r="2.3"/><circle cx="589.4" cy="345.5" r="2.3"/><circle cx="603.1" cy="332.2" r="2.3"/><circle cx="603.1" cy="345.5" r="2.3"/><circle cx="616.9" cy="332.2" r="2.3"/><circle cx="616.9" cy="345.5" r="2.3"/><circle cx="630.6" cy="332.2" r="2.3"/><circle cx="630.6" cy="345.5" r="2.3"/></g>
<g fill="url(#bB)"><circle cx="541.3" cy="357.9" r="2.3"/><circle cx="541.3" cy="372.4" r="2.3"/><circle cx="555" cy="357.9" r="2.3"/><circle cx="555" cy="372.4" r="2.3"/><circle cx="568.8" cy="357.9" r="2.3"/><circle cx="568.8" cy="372.4" r="2.3"/><circle cx="582.5" cy="357.9" r="2.3"/><circle cx="582.5" cy="372.4" r="2.3"/><circle cx="596.2" cy="357.9" r="2.3"/><circle cx="596.2" cy="372.4" r="2.3"/><circle cx="610" cy="357.9" r="2.3"/><circle cx="610" cy="372.4" r="2.3"/><circle cx="623.7" cy="357.9" r="2.3"/><circle cx="623.7" cy="372.4" r="2.3"/></g>
<path fill="none" stroke="#d49ad8" stroke-width="0.6" d="M540.5 338.6L534.4 332.2M540.5 338.6L534.4 345.5M540.5 338.6L548.1 332.2M540.5 338.6L548.1 345.5M554.5 338.6L548.1 332.2M554.5 338.6L548.1 345.5M554.5 338.6L561.9 332.2M554.5 338.6L561.9 345.5M568.5 338.6L561.9 332.2M568.5 338.6L561.9 345.5M568.5 338.6L575.6 332.2M568.5 338.6L575.6 345.5M582.5 338.6L575.6 332.2M582.5 338.6L575.6 345.5M582.5 338.6L589.4 332.2M582.5 338.6L589.4 345.5M596.5 338.6L589.4 332.2M596.5 338.6L589.4 345.5M596.5 338.6L603.1 332.2M596.5 338.6L603.1 345.5M610.5 338.6L603.1 332.2M610.5 338.6L603.1 345.5M610.5 338.6L616.9 332.2M610.5 338.6L616.9 345.5M624.5 338.6L616.9 332.2M624.5 338.6L616.9 345.5M624.5 338.6L630.6 332.2M624.5 338.6L630.6 345.5M533.5 365.4L541.3 357.9M533.5 365.4L541.3 372.4M547.5 365.4L541.3 357.9M547.5 365.4L541.3 372.4M547.5 365.4L555 357.9M547.5 365.4L555 372.4M561.5 365.4L555 357.9M561.5 365.4L555 372.4M561.5 365.4L568.8 357.9M561.5 365.4L568.8 372.4M575.5 365.4L568.8 357.9M575.5 365.4L568.8 372.4M575.5 365.4L582.5 357.9M575.5 365.4L582.5 372.4M589.5 365.4L582.5 357.9M589.5 365.4L582.5 372.4M589.5 365.4L596.2 357.9M589.5 365.4L596.2 372.4M603.5 365.4L596.2 357.9M603.5 365.4L596.2 372.4M603.5 365.4L610 357.9M603.5 365.4L610 372.4M617.5 365.4L610 357.9M617.5 365.4L610 372.4M617.5 365.4L623.7 357.9M617.5 365.4L623.7 372.4M631.5 365.4L623.7 357.9M631.5 365.4L623.7 372.4"/>
<g fill="url(#bP)"><circle cx="540.5" cy="338.6" r="1.9"/><circle cx="554.5" cy="338.6" r="1.9"/><circle cx="568.5" cy="338.6" r="1.9"/><circle cx="582.5" cy="338.6" r="1.9"/><circle cx="596.5" cy="338.6" r="1.9"/><circle cx="610.5" cy="338.6" r="1.9"/><circle cx="624.5" cy="338.6" r="1.9"/><circle cx="533.5" cy="365.4" r="1.9"/><circle cx="547.5" cy="365.4" r="1.9"/><circle cx="561.5" cy="365.4" r="1.9"/><circle cx="575.5" cy="365.4" r="1.9"/><circle cx="589.5" cy="365.4" r="1.9"/><circle cx="603.5" cy="365.4" r="1.9"/><circle cx="617.5" cy="365.4" r="1.9"/><circle cx="631.5" cy="365.4" r="1.9"/></g>
<path fill="none" stroke="#d49ad8" stroke-width="0.6" d="M529.5 337.5L534.4 332.2M529.5 337.5L534.4 345.5M544.7 337.5L548.1 332.2M544.7 337.5L548.1 345.5M559.8 337.5L561.9 332.2M559.8 337.5L561.9 345.5M574.9 337.5L575.6 332.2M574.9 337.5L575.6 345.5M590.1 337.5L589.4 332.2M590.1 337.5L589.4 345.5M605.2 337.5L603.1 332.2M605.2 337.5L603.1 345.5M620.3 337.5L616.9 332.2M620.3 337.5L616.9 345.5M635.5 337.5L630.6 332.2M635.5 337.5L630.6 345.5M537.1 366.5L541.3 357.9M537.1 366.5L541.3 372.4M552.2 366.5L555 357.9M552.2 366.5L555 372.4M567.4 366.5L568.8 357.9M567.4 366.5L568.8 372.4M582.5 366.5L582.5 357.9M582.5 366.5L582.5 372.4M597.6 366.5L596.2 357.9M597.6 366.5L596.2 372.4M612.8 366.5L610 357.9M612.8 366.5L610 372.4M627.9 366.5L623.7 357.9M627.9 366.5L623.7 372.4"/>
<g fill="url(#bY)"><circle cx="538" cy="330.7" r="2.5"/><circle cx="538" cy="345" r="2.5"/><circle cx="552.8" cy="330.7" r="2.5"/><circle cx="552.8" cy="345" r="2.5"/><circle cx="567.7" cy="330.7" r="2.5"/><circle cx="567.7" cy="345" r="2.5"/><circle cx="582.5" cy="330.7" r="2.5"/><circle cx="582.5" cy="345" r="2.5"/><circle cx="597.3" cy="330.7" r="2.5"/><circle cx="597.3" cy="345" r="2.5"/><circle cx="612.2" cy="330.7" r="2.5"/><circle cx="612.2" cy="345" r="2.5"/><circle cx="627" cy="330.7" r="2.5"/><circle cx="627" cy="345" r="2.5"/></g>
<g fill="url(#bB)"><circle cx="530.6" cy="358.4" r="2.5"/><circle cx="530.6" cy="374" r="2.5"/><circle cx="545.4" cy="358.4" r="2.5"/><circle cx="545.4" cy="374" r="2.5"/><circle cx="560.2" cy="358.4" r="2.5"/><circle cx="560.2" cy="374" r="2.5"/><circle cx="575.1" cy="358.4" r="2.5"/><circle cx="575.1" cy="374" r="2.5"/><circle cx="589.9" cy="358.4" r="2.5"/><circle cx="589.9" cy="374" r="2.5"/><circle cx="604.8" cy="358.4" r="2.5"/><circle cx="604.8" cy="374" r="2.5"/><circle cx="619.6" cy="358.4" r="2.5"/><circle cx="619.6" cy="374" r="2.5"/><circle cx="634.4" cy="358.4" r="2.5"/><circle cx="634.4" cy="374" r="2.5"/></g>
<path fill="none" stroke="#d49ad8" stroke-width="0.6" d="M529.5 337.5L538 330.7M529.5 337.5L538 345M544.7 337.5L538 330.7M544.7 337.5L538 345M544.7 337.5L552.8 330.7M544.7 337.5L552.8 345M559.8 337.5L552.8 330.7M559.8 337.5L552.8 345M559.8 337.5L567.7 330.7M559.8 337.5L567.7 345M574.9 337.5L567.7 330.7M574.9 337.5L567.7 345M574.9 337.5L582.5 330.7M574.9 337.5L582.5 345M590.1 337.5L582.5 330.7M590.1 337.5L582.5 345M590.1 337.5L597.3 330.7M590.1 337.5L597.3 345M605.2 337.5L597.3 330.7M605.2 337.5L597.3 345M605.2 337.5L612.2 330.7M605.2 337.5L612.2 345M620.3 337.5L612.2 330.7M620.3 337.5L612.2 345M620.3 337.5L627 330.7M620.3 337.5L627 345M635.5 337.5L627 330.7M635.5 337.5L627 345M537.1 366.5L530.6 358.4M537.1 366.5L530.6 374M537.1 366.5L545.4 358.4M537.1 366.5L545.4 374M552.2 366.5L545.4 358.4M552.2 366.5L545.4 374M552.2 366.5L560.2 358.4M552.2 366.5L560.2 374M567.4 366.5L560.2 358.4M567.4 366.5L560.2 374M567.4 366.5L575.1 358.4M567.4 366.5L575.1 374M582.5 366.5L575.1 358.4M582.5 366.5L575.1 374M582.5 366.5L589.9 358.4M582.5 366.5L589.9 374M597.6 366.5L589.9 358.4M597.6 366.5L589.9 374M597.6 366.5L604.8 358.4M597.6 366.5L604.8 374M612.8 366.5L604.8 358.4M612.8 366.5L604.8 374M612.8 366.5L619.6 358.4M612.8 366.5L619.6 374M627.9 366.5L619.6 358.4M627.9 366.5L619.6 374M627.9 366.5L634.4 358.4M627.9 366.5L634.4 374"/>
<g fill="url(#bP)"><circle cx="529.5" cy="337.5" r="2.1"/><circle cx="544.7" cy="337.5" r="2.1"/><circle cx="559.8" cy="337.5" r="2.1"/><circle cx="574.9" cy="337.5" r="2.1"/><circle cx="590.1" cy="337.5" r="2.1"/><circle cx="605.2" cy="337.5" r="2.1"/><circle cx="620.3" cy="337.5" r="2.1"/><circle cx="635.5" cy="337.5" r="2.1"/><circle cx="537.1" cy="366.5" r="2.1"/><circle cx="552.2" cy="366.5" r="2.1"/><circle cx="567.4" cy="366.5" r="2.1"/><circle cx="582.5" cy="366.5" r="2.1"/><circle cx="597.6" cy="366.5" r="2.1"/><circle cx="612.8" cy="366.5" r="2.1"/><circle cx="627.9" cy="366.5" r="2.1"/></g>
<path fill="none" stroke="#d49ad8" stroke-width="0.6" d="M533.1 336.3L538 330.7M533.1 336.3L538 345M549.6 336.3L552.8 330.7M549.6 336.3L552.8 345M566 336.3L567.7 330.7M566 336.3L567.7 345M582.5 336.3L582.5 330.7M582.5 336.3L582.5 345M599 336.3L597.3 330.7M599 336.3L597.3 345M615.4 336.3L612.2 330.7M615.4 336.3L612.2 345M631.9 336.3L627 330.7M631.9 336.3L627 345M524.9 367.7L530.6 358.4M524.9 367.7L530.6 374M541.3 367.7L545.4 358.4M541.3 367.7L545.4 374M557.8 367.7L560.2 358.4M557.8 367.7L560.2 374M574.3 367.7L575.1 358.4M574.3 367.7L575.1 374M590.7 367.7L589.9 358.4M590.7 367.7L589.9 374M607.2 367.7L604.8 358.4M607.2 367.7L604.8 374M623.7 367.7L619.6 358.4M623.7 367.7L619.6 374M640.1 367.7L634.4 358.4M640.1 367.7L634.4 374"/>
<g fill="url(#bY)"><circle cx="526.1" cy="328.8" r="2.7"/><circle cx="526.1" cy="344.4" r="2.7"/><circle cx="542.2" cy="328.8" r="2.7"/><circle cx="542.2" cy="344.4" r="2.7"/><circle cx="558.3" cy="328.8" r="2.7"/><circle cx="558.3" cy="344.4" r="2.7"/><circle cx="574.4" cy="328.8" r="2.7"/><circle cx="574.4" cy="344.4" r="2.7"/><circle cx="590.6" cy="328.8" r="2.7"/><circle cx="590.6" cy="344.4" r="2.7"/><circle cx="606.7" cy="328.8" r="2.7"/><circle cx="606.7" cy="344.4" r="2.7"/><circle cx="622.8" cy="328.8" r="2.7"/><circle cx="622.8" cy="344.4" r="2.7"/><circle cx="638.9" cy="328.8" r="2.7"/><circle cx="638.9" cy="344.4" r="2.7"/></g>
<g fill="url(#bB)"><circle cx="534.2" cy="358.9" r="2.7"/><circle cx="534.2" cy="375.9" r="2.7"/><circle cx="550.3" cy="358.9" r="2.7"/><circle cx="550.3" cy="375.9" r="2.7"/><circle cx="566.4" cy="358.9" r="2.7"/><circle cx="566.4" cy="375.9" r="2.7"/><circle cx="582.5" cy="358.9" r="2.7"/><circle cx="582.5" cy="375.9" r="2.7"/><circle cx="598.6" cy="358.9" r="2.7"/><circle cx="598.6" cy="375.9" r="2.7"/><circle cx="614.7" cy="358.9" r="2.7"/><circle cx="614.7" cy="375.9" r="2.7"/><circle cx="630.8" cy="358.9" r="2.7"/><circle cx="630.8" cy="375.9" r="2.7"/></g>
<path fill="none" stroke="#d49ad8" stroke-width="0.7" d="M533.1 336.3L526.1 328.8M533.1 336.3L526.1 344.4M533.1 336.3L542.2 328.8M533.1 336.3L542.2 344.4M549.6 336.3L542.2 328.8M549.6 336.3L542.2 344.4M549.6 336.3L558.3 328.8M549.6 336.3L558.3 344.4M566 336.3L558.3 328.8M566 336.3L558.3 344.4M566 336.3L574.4 328.8M566 336.3L574.4 344.4M582.5 336.3L574.4 328.8M582.5 336.3L574.4 344.4M582.5 336.3L590.6 328.8M582.5 336.3L590.6 344.4M599 336.3L590.6 328.8M599 336.3L590.6 344.4M599 336.3L606.7 328.8M599 336.3L606.7 344.4M615.4 336.3L606.7 328.8M615.4 336.3L606.7 344.4M615.4 336.3L622.8 328.8M615.4 336.3L622.8 344.4M631.9 336.3L622.8 328.8M631.9 336.3L622.8 344.4M631.9 336.3L638.9 328.8M631.9 336.3L638.9 344.4M524.9 367.7L534.2 358.9M524.9 367.7L534.2 375.9M541.3 367.7L534.2 358.9M541.3 367.7L534.2 375.9M541.3 367.7L550.3 358.9M541.3 367.7L550.3 375.9M557.8 367.7L550.3 358.9M557.8 367.7L550.3 375.9M557.8 367.7L566.4 358.9M557.8 367.7L566.4 375.9M574.3 367.7L566.4 358.9M574.3 367.7L566.4 375.9M574.3 367.7L582.5 358.9M574.3 367.7L582.5 375.9M590.7 367.7L582.5 358.9M590.7 367.7L582.5 375.9M590.7 367.7L598.6 358.9M590.7 367.7L598.6 375.9M607.2 367.7L598.6 358.9M607.2 367.7L598.6 375.9M607.2 367.7L614.7 358.9M607.2 367.7L614.7 375.9M623.7 367.7L614.7 358.9M623.7 367.7L614.7 375.9M623.7 367.7L630.8 358.9M623.7 367.7L630.8 375.9M640.1 367.7L630.8 358.9M640.1 367.7L630.8 375.9"/>
<g fill="url(#bP)"><circle cx="533.1" cy="336.3" r="2.3"/><circle cx="549.6" cy="336.3" r="2.3"/><circle cx="566" cy="336.3" r="2.3"/><circle cx="582.5" cy="336.3" r="2.3"/><circle cx="599" cy="336.3" r="2.3"/><circle cx="615.4" cy="336.3" r="2.3"/><circle cx="631.9" cy="336.3" r="2.3"/><circle cx="524.9" cy="367.7" r="2.3"/><circle cx="541.3" cy="367.7" r="2.3"/><circle cx="557.8" cy="367.7" r="2.3"/><circle cx="574.3" cy="367.7" r="2.3"/><circle cx="590.7" cy="367.7" r="2.3"/><circle cx="607.2" cy="367.7" r="2.3"/><circle cx="623.7" cy="367.7" r="2.3"/><circle cx="640.1" cy="367.7" r="2.3"/></g>
<path fill="none" stroke="#d49ad8" stroke-width="0.7" d="M519.3 334.7L526.1 328.8M519.3 334.7L526.1 344.4M537.3 334.7L542.2 328.8M537.3 334.7L542.2 344.4M555.4 334.7L558.3 328.8M555.4 334.7L558.3 344.4M573.5 334.7L574.4 328.8M573.5 334.7L574.4 344.4M591.5 334.7L590.6 328.8M591.5 334.7L590.6 344.4M609.6 334.7L606.7 328.8M609.6 334.7L606.7 344.4M627.7 334.7L622.8 328.8M627.7 334.7L622.8 344.4M645.7 334.7L638.9 328.8M645.7 334.7L638.9 344.4M528.3 369.3L534.2 358.9M528.3 369.3L534.2 375.9M546.4 369.3L550.3 358.9M546.4 369.3L550.3 375.9M564.4 369.3L566.4 358.9M564.4 369.3L566.4 375.9M582.5 369.3L582.5 358.9M582.5 369.3L582.5 375.9M600.6 369.3L598.6 358.9M600.6 369.3L598.6 375.9M618.6 369.3L614.7 358.9M618.6 369.3L614.7 375.9M636.7 369.3L630.8 358.9M636.7 369.3L630.8 375.9"/>
<g fill="url(#bY)"><circle cx="529.6" cy="326.6" r="2.9"/><circle cx="529.6" cy="343.7" r="2.9"/><circle cx="547.2" cy="326.6" r="2.9"/><circle cx="547.2" cy="343.7" r="2.9"/><circle cx="564.9" cy="326.6" r="2.9"/><circle cx="564.9" cy="343.7" r="2.9"/><circle cx="582.5" cy="326.6" r="2.9"/><circle cx="582.5" cy="343.7" r="2.9"/><circle cx="600.1" cy="326.6" r="2.9"/><circle cx="600.1" cy="343.7" r="2.9"/><circle cx="617.8" cy="326.6" r="2.9"/><circle cx="617.8" cy="343.7" r="2.9"/><circle cx="635.4" cy="326.6" r="2.9"/><circle cx="635.4" cy="343.7" r="2.9"/></g>
<g fill="url(#bB)"><circle cx="520.8" cy="359.6" r="2.9"/><circle cx="520.8" cy="378.1" r="2.9"/><circle cx="538.4" cy="359.6" r="2.9"/><circle cx="538.4" cy="378.1" r="2.9"/><circle cx="556" cy="359.6" r="2.9"/><circle cx="556" cy="378.1" r="2.9"/><circle cx="573.7" cy="359.6" r="2.9"/><circle cx="573.7" cy="378.1" r="2.9"/><circle cx="591.3" cy="359.6" r="2.9"/><circle cx="591.3" cy="378.1" r="2.9"/><circle cx="609" cy="359.6" r="2.9"/><circle cx="609" cy="378.1" r="2.9"/><circle cx="626.6" cy="359.6" r="2.9"/><circle cx="626.6" cy="378.1" r="2.9"/><circle cx="644.2" cy="359.6" r="2.9"/><circle cx="644.2" cy="378.1" r="2.9"/></g>
<path fill="none" stroke="#d49ad8" stroke-width="0.7" d="M519.3 334.7L529.6 326.6M519.3 334.7L529.6 343.7M537.3 334.7L529.6 326.6M537.3 334.7L529.6 343.7M537.3 334.7L547.2 326.6M537.3 334.7L547.2 343.7M555.4 334.7L547.2 326.6M555.4 334.7L547.2 343.7M555.4 334.7L564.9 326.6M555.4 334.7L564.9 343.7M573.5 334.7L564.9 326.6M573.5 334.7L564.9 343.7M573.5 334.7L582.5 326.6M573.5 334.7L582.5 343.7M591.5 334.7L582.5 326.6M591.5 334.7L582.5 343.7M591.5 334.7L600.1 326.6M591.5 334.7L600.1 343.7M609.6 334.7L600.1 326.6M609.6 334.7L600.1 343.7M609.6 334.7L617.8 326.6M609.6 334.7L617.8 343.7M627.7 334.7L617.8 326.6M627.7 334.7L617.8 343.7M627.7 334.7L635.4 326.6M627.7 334.7L635.4 343.7M645.7 334.7L635.4 326.6M645.7 334.7L635.4 343.7M528.3 369.3L520.8 359.6M528.3 369.3L520.8 378.1M528.3 369.3L538.4 359.6M528.3 369.3L538.4 378.1M546.4 369.3L538.4 359.6M546.4 369.3L538.4 378.1M546.4 369.3L556 359.6M546.4 369.3L556 378.1M564.4 369.3L556 359.6M564.4 369.3L556 378.1M564.4 369.3L573.7 359.6M564.4 369.3L573.7 378.1M582.5 369.3L573.7 359.6M582.5 369.3L573.7 378.1M582.5 369.3L591.3 359.6M582.5 369.3L591.3 378.1M600.6 369.3L591.3 359.6M600.6 369.3L591.3 378.1M600.6 369.3L609 359.6M600.6 369.3L609 378.1M618.6 369.3L609 359.6M618.6 369.3L609 378.1M618.6 369.3L626.6 359.6M618.6 369.3L626.6 378.1M636.7 369.3L626.6 359.6M636.7 369.3L626.6 378.1M636.7 369.3L644.2 359.6M636.7 369.3L644.2 378.1"/>
<g fill="url(#bP)"><circle cx="519.3" cy="334.7" r="2.5"/><circle cx="537.3" cy="334.7" r="2.5"/><circle cx="555.4" cy="334.7" r="2.5"/><circle cx="573.5" cy="334.7" r="2.5"/><circle cx="591.5" cy="334.7" r="2.5"/><circle cx="609.6" cy="334.7" r="2.5"/><circle cx="627.7" cy="334.7" r="2.5"/><circle cx="645.7" cy="334.7" r="2.5"/><circle cx="528.3" cy="369.3" r="2.5"/><circle cx="546.4" cy="369.3" r="2.5"/><circle cx="564.4" cy="369.3" r="2.5"/><circle cx="582.5" cy="369.3" r="2.5"/><circle cx="600.6" cy="369.3" r="2.5"/><circle cx="618.6" cy="369.3" r="2.5"/><circle cx="636.7" cy="369.3" r="2.5"/></g>
<path fill="none" stroke="#d49ad8" stroke-width="0.8" d="M522.5 332.9L529.6 326.6M522.5 332.9L529.6 343.7M542.5 332.9L547.2 326.6M542.5 332.9L547.2 343.7M562.5 332.9L564.9 326.6M562.5 332.9L564.9 343.7M582.5 332.9L582.5 326.6M582.5 332.9L582.5 343.7M602.5 332.9L600.1 326.6M602.5 332.9L600.1 343.7M622.5 332.9L617.8 326.6M622.5 332.9L617.8 343.7M642.5 332.9L635.4 326.6M642.5 332.9L635.4 343.7M512.5 371.1L520.8 359.6M512.5 371.1L520.8 378.1M532.5 371.1L538.4 359.6M532.5 371.1L538.4 378.1M552.5 371.1L556 359.6M552.5 371.1L556 378.1M572.5 371.1L573.7 359.6M572.5 371.1L573.7 378.1M592.5 371.1L591.3 359.6M592.5 371.1L591.3 378.1M612.5 371.1L609 359.6M612.5 371.1L609 378.1M632.5 371.1L626.6 359.6M632.5 371.1L626.6 378.1M652.5 371.1L644.2 359.6M652.5 371.1L644.2 378.1"/>
<g fill="url(#bY)"><circle cx="514.3" cy="324" r="3.2"/><circle cx="514.3" cy="342.8" r="3.2"/><circle cx="533.8" cy="324" r="3.2"/><circle cx="533.8" cy="342.8" r="3.2"/><circle cx="553.3" cy="324" r="3.2"/><circle cx="553.3" cy="342.8" r="3.2"/><circle cx="572.8" cy="324" r="3.2"/><circle cx="572.8" cy="342.8" r="3.2"/><circle cx="592.2" cy="324" r="3.2"/><circle cx="592.2" cy="342.8" r="3.2"/><circle cx="611.7" cy="324" r="3.2"/><circle cx="611.7" cy="342.8" r="3.2"/><circle cx="631.2" cy="324" r="3.2"/><circle cx="631.2" cy="342.8" r="3.2"/><circle cx="650.7" cy="324" r="3.2"/><circle cx="650.7" cy="342.8" r="3.2"/></g>
<g fill="url(#bB)"><circle cx="524.1" cy="360.3" r="3.2"/><circle cx="524.1" cy="380.9" r="3.2"/><circle cx="543.5" cy="360.3" r="3.2"/><circle cx="543.5" cy="380.9" r="3.2"/><circle cx="563" cy="360.3" r="3.2"/><circle cx="563" cy="380.9" r="3.2"/><circle cx="582.5" cy="360.3" r="3.2"/><circle cx="582.5" cy="380.9" r="3.2"/><circle cx="602" cy="360.3" r="3.2"/><circle cx="602" cy="380.9" r="3.2"/><circle cx="621.5" cy="360.3" r="3.2"/><circle cx="621.5" cy="380.9" r="3.2"/><circle cx="640.9" cy="360.3" r="3.2"/><circle cx="640.9" cy="380.9" r="3.2"/></g>
<path fill="none" stroke="#d49ad8" stroke-width="0.8" d="M522.5 332.9L514.3 324M522.5 332.9L514.3 342.8M522.5 332.9L533.8 324M522.5 332.9L533.8 342.8M542.5 332.9L533.8 324M542.5 332.9L533.8 342.8M542.5 332.9L553.3 324M542.5 332.9L553.3 342.8M562.5 332.9L553.3 324M562.5 332.9L553.3 342.8M562.5 332.9L572.8 324M562.5 332.9L572.8 342.8M582.5 332.9L572.8 324M582.5 332.9L572.8 342.8M582.5 332.9L592.2 324M582.5 332.9L592.2 342.8M602.5 332.9L592.2 324M602.5 332.9L592.2 342.8M602.5 332.9L611.7 324M602.5 332.9L611.7 342.8M622.5 332.9L611.7 324M622.5 332.9L611.7 342.8M622.5 332.9L631.2 324M622.5 332.9L631.2 342.8M642.5 332.9L631.2 324M642.5 332.9L631.2 342.8M642.5 332.9L650.7 324M642.5 332.9L650.7 342.8M512.5 371.1L524.1 360.3M512.5 371.1L524.1 380.9M532.5 371.1L524.1 360.3M532.5 371.1L524.1 380.9M532.5 371.1L543.5 360.3M532.5 371.1L543.5 380.9M552.5 371.1L543.5 360.3M552.5 371.1L543.5 380.9M552.5 371.1L563 360.3M552.5 371.1L563 380.9M572.5 371.1L563 360.3M572.5 371.1L563 380.9M572.5 371.1L582.5 360.3M572.5 371.1L582.5 380.9M592.5 371.1L582.5 360.3M592.5 371.1L582.5 380.9M592.5 371.1L602 360.3M592.5 371.1L602 380.9M612.5 371.1L602 360.3M612.5 371.1L602 380.9M612.5 371.1L621.5 360.3M612.5 371.1L621.5 380.9M632.5 371.1L621.5 360.3M632.5 371.1L621.5 380.9M632.5 371.1L640.9 360.3M632.5 371.1L640.9 380.9M652.5 371.1L640.9 360.3M652.5 371.1L640.9 380.9"/>
<g fill="url(#bP)"><circle cx="522.5" cy="332.9" r="2.8"/><circle cx="542.5" cy="332.9" r="2.8"/><circle cx="562.5" cy="332.9" r="2.8"/><circle cx="582.5" cy="332.9" r="2.8"/><circle cx="602.5" cy="332.9" r="2.8"/><circle cx="622.5" cy="332.9" r="2.8"/><circle cx="642.5" cy="332.9" r="2.8"/><circle cx="512.5" cy="371.1" r="2.8"/><circle cx="532.5" cy="371.1" r="2.8"/><circle cx="552.5" cy="371.1" r="2.8"/><circle cx="572.5" cy="371.1" r="2.8"/><circle cx="592.5" cy="371.1" r="2.8"/><circle cx="612.5" cy="371.1" r="2.8"/><circle cx="632.5" cy="371.1" r="2.8"/><circle cx="652.5" cy="371.1" r="2.8"/></g>
<path fill="none" stroke="#d49ad8" stroke-width="0.8" d="M504.1 330.6L514.3 324M504.1 330.6L514.3 342.8M526.5 330.6L533.8 324M526.5 330.6L533.8 342.8M548.9 330.6L553.3 324M548.9 330.6L553.3 342.8M571.3 330.6L572.8 324M571.3 330.6L572.8 342.8M593.7 330.6L592.2 324M593.7 330.6L592.2 342.8M616.1 330.6L611.7 324M616.1 330.6L611.7 342.8M638.5 330.6L631.2 324M638.5 330.6L631.2 342.8M660.9 330.6L650.7 324M660.9 330.6L650.7 342.8M515.3 373.4L524.1 360.3M515.3 373.4L524.1 380.9M537.7 373.4L543.5 360.3M537.7 373.4L543.5 380.9M560.1 373.4L563 360.3M560.1 373.4L563 380.9M582.5 373.4L582.5 360.3M582.5 373.4L582.5 380.9M604.9 373.4L602 360.3M604.9 373.4L602 380.9M627.3 373.4L621.5 360.3M627.3 373.4L621.5 380.9M649.7 373.4L640.9 360.3M649.7 373.4L640.9 380.9"/>
<g fill="url(#bY)"><circle cx="517.3" cy="320.7" r="3.6"/><circle cx="517.3" cy="341.7" r="3.6"/><circle cx="539" cy="320.7" r="3.6"/><circle cx="539" cy="341.7" r="3.6"/><circle cx="560.8" cy="320.7" r="3.6"/><circle cx="560.8" cy="341.7" r="3.6"/><circle cx="582.5" cy="320.7" r="3.6"/><circle cx="582.5" cy="341.7" r="3.6"/><circle cx="604.2" cy="320.7" r="3.6"/><circle cx="604.2" cy="341.7" r="3.6"/><circle cx="626" cy="320.7" r="3.6"/><circle cx="626" cy="341.7" r="3.6"/><circle cx="647.7" cy="320.7" r="3.6"/><circle cx="647.7" cy="341.7" r="3.6"/></g>
<g fill="url(#bB)"><circle cx="506.4" cy="361.3" r="3.6"/><circle cx="506.4" cy="384.2" r="3.6"/><circle cx="528.1" cy="361.3" r="3.6"/><circle cx="528.1" cy="384.2" r="3.6"/><circle cx="549.9" cy="361.3" r="3.6"/><circle cx="549.9" cy="384.2" r="3.6"/><circle cx="571.6" cy="361.3" r="3.6"/><circle cx="571.6" cy="384.2" r="3.6"/><circle cx="593.4" cy="361.3" r="3.6"/><circle cx="593.4" cy="384.2" r="3.6"/><circle cx="615.1" cy="361.3" r="3.6"/><circle cx="615.1" cy="384.2" r="3.6"/><circle cx="636.9" cy="361.3" r="3.6"/><circle cx="636.9" cy="384.2" r="3.6"/><circle cx="658.6" cy="361.3" r="3.6"/><circle cx="658.6" cy="384.2" r="3.6"/></g>
<path fill="none" stroke="#d49ad8" stroke-width="0.9" d="M504.1 330.6L517.3 320.7M504.1 330.6L517.3 341.7M526.5 330.6L517.3 320.7M526.5 330.6L517.3 341.7M526.5 330.6L539 320.7M526.5 330.6L539 341.7M548.9 330.6L539 320.7M548.9 330.6L539 341.7M548.9 330.6L560.8 320.7M548.9 330.6L560.8 341.7M571.3 330.6L560.8 320.7M571.3 330.6L560.8 341.7M571.3 330.6L582.5 320.7M571.3 330.6L582.5 341.7M593.7 330.6L582.5 320.7M593.7 330.6L582.5 341.7M593.7 330.6L604.2 320.7M593.7 330.6L604.2 341.7M616.1 330.6L604.2 320.7M616.1 330.6L604.2 341.7M616.1 330.6L626 320.7M616.1 330.6L626 341.7M638.5 330.6L626 320.7M638.5 330.6L626 341.7M638.5 330.6L647.7 320.7M638.5 330.6L647.7 341.7M660.9 330.6L647.7 320.7M660.9 330.6L647.7 341.7M515.3 373.4L506.4 361.3M515.3 373.4L506.4 384.2M515.3 373.4L528.1 361.3M515.3 373.4L528.1 384.2M537.7 373.4L528.1 361.3M537.7 373.4L528.1 384.2M537.7 373.4L549.9 361.3M537.7 373.4L549.9 384.2M560.1 373.4L549.9 361.3M560.1 373.4L549.9 384.2M560.1 373.4L571.6 361.3M560.1 373.4L571.6 384.2M582.5 373.4L571.6 361.3M582.5 373.4L571.6 384.2M582.5 373.4L593.4 361.3M582.5 373.4L593.4 384.2M604.9 373.4L593.4 361.3M604.9 373.4L593.4 384.2M604.9 373.4L615.1 361.3M604.9 373.4L615.1 384.2M627.3 373.4L615.1 361.3M627.3 373.4L615.1 384.2M627.3 373.4L636.9 361.3M627.3 373.4L636.9 384.2M649.7 373.4L636.9 361.3M649.7 373.4L636.9 384.2M649.7 373.4L658.6 361.3M649.7 373.4L658.6 384.2"/>
<g fill="url(#bP)"><circle cx="504.1" cy="330.6" r="3.1"/><circle cx="526.5" cy="330.6" r="3.1"/><circle cx="548.9" cy="330.6" r="3.1"/><circle cx="571.3" cy="330.6" r="3.1"/><circle cx="593.7" cy="330.6" r="3.1"/><circle cx="616.1" cy="330.6" r="3.1"/><circle cx="638.5" cy="330.6" r="3.1"/><circle cx="660.9" cy="330.6" r="3.1"/><circle cx="515.3" cy="373.4" r="3.1"/><circle cx="537.7" cy="373.4" r="3.1"/><circle cx="560.1" cy="373.4" r="3.1"/><circle cx="582.5" cy="373.4" r="3.1"/><circle cx="604.9" cy="373.4" r="3.1"/><circle cx="627.3" cy="373.4" r="3.1"/><circle cx="649.7" cy="373.4" r="3.1"/></g>
<g fill="url(#bL)"><circle cx="833.1" cy="351.4" r="2.1"/><circle cx="781.9" cy="351.4" r="2.1"/></g>
<path fill="none" stroke="#a4a4d4" stroke-width="0.5" d="M833.1 351.4L834.5 345.3M833.1 351.4L834.5 357.5M781.9 351.4L780.5 345.3M781.9 351.4L780.5 357.5"/>
<g fill="url(#bY)"><circle cx="834.5" cy="345.3" r="2.5"/><circle cx="834.5" cy="357.5" r="2.5"/><circle cx="780.5" cy="345.3" r="2.5"/><circle cx="780.5" cy="357.5" r="2.5"/></g>
<path fill="none" stroke="#a4a4d4" stroke-width="0.5" d="M842.1 351.4L834.5 345.3M842.1 351.4L834.5 357.5M828.3 351.4L834.5 345.3M828.3 351.4L834.5 357.5M786.7 351.4L780.5 345.3M786.7 351.4L780.5 357.5M772.9 351.4L780.5 345.3M772.9 351.4L780.5 357.5"/>
<g fill="url(#bL)"><circle cx="842.1" cy="351.4" r="2.2"/><circle cx="828.3" cy="351.4" r="2.2"/><circle cx="786.7" cy="351.4" r="2.2"/><circle cx="772.9" cy="351.4" r="2.2"/></g>
<path fill="none" stroke="#a4a4d4" stroke-width="0.5" d="M842.1 351.4L844.2 344.7M842.1 351.4L844.2 358.1M828.3 351.4L829.5 344.7M828.3 351.4L829.5 358.1M786.7 351.4L785.5 344.7M786.7 351.4L785.5 358.1M772.9 351.4L770.8 344.7M772.9 351.4L770.8 358.1"/>
<g fill="url(#bY)"><circle cx="844.2" cy="344.7" r="2.7"/><circle cx="844.2" cy="358.1" r="2.7"/><circle cx="829.5" cy="344.7" r="2.7"/><circle cx="829.5" cy="358.1" r="2.7"/><circle cx="785.5" cy="344.7" r="2.7"/><circle cx="785.5" cy="358.1" r="2.7"/><circle cx="770.8" cy="344.7" r="2.7"/><circle cx="770.8" cy="358.1" r="2.7"/></g>
<path fill="none" stroke="#a4a4d4" stroke-width="0.6" d="M852.8 351.4L844.2 344.7M852.8 351.4L844.2 358.1M837.7 351.4L829.5 344.7M837.7 351.4L829.5 358.1M837.7 351.4L844.2 344.7M837.7 351.4L844.2 358.1M822.6 351.4L829.5 344.7M822.6 351.4L829.5 358.1M792.4 351.4L785.5 344.7M792.4 351.4L785.5 358.1M777.3 351.4L770.8 344.7M777.3 351.4L770.8 358.1M777.3 351.4L785.5 344.7M777.3 351.4L785.5 358.1M762.2 351.4L770.8 344.7M762.2 351.4L770.8 358.1"/>
<g fill="url(#bL)"><circle cx="852.8" cy="351.4" r="2.3"/><circle cx="837.7" cy="351.4" r="2.3"/><circle cx="822.6" cy="351.4" r="2.3"/><circle cx="792.4" cy="351.4" r="2.3"/><circle cx="777.3" cy="351.4" r="2.3"/><circle cx="762.2" cy="351.4" r="2.3"/></g>
<path fill="none" stroke="#a4a4d4" stroke-width="0.6" d="M852.8 351.4L855.7 344.1M852.8 351.4L855.7 358.7M837.7 351.4L839.7 344.1M837.7 351.4L839.7 358.7M822.6 351.4L823.6 344.1M822.6 351.4L823.6 358.7M792.4 351.4L791.4 344.1M792.4 351.4L791.4 358.7M777.3 351.4L775.3 344.1M777.3 351.4L775.3 358.7M762.2 351.4L759.3 344.1M762.2 351.4L759.3 358.7"/>
<g fill="url(#bY)"><circle cx="855.7" cy="344.1" r="2.9"/><circle cx="855.7" cy="358.7" r="2.9"/><circle cx="839.7" cy="344.1" r="2.9"/><circle cx="839.7" cy="358.7" r="2.9"/><circle cx="823.6" cy="344.1" r="2.9"/><circle cx="823.6" cy="358.7" r="2.9"/><circle cx="791.4" cy="344.1" r="2.9"/><circle cx="791.4" cy="358.7" r="2.9"/><circle cx="775.3" cy="344.1" r="2.9"/><circle cx="775.3" cy="358.7" r="2.9"/><circle cx="759.3" cy="344.1" r="2.9"/><circle cx="759.3" cy="358.7" r="2.9"/></g>
<path fill="none" stroke="#a4a4d4" stroke-width="0.6" d="M865.7 351.4L855.7 344.1M865.7 351.4L855.7 358.7M849 351.4L839.7 344.1M849 351.4L839.7 358.7M849 351.4L855.7 344.1M849 351.4L855.7 358.7M832.4 351.4L823.6 344.1M832.4 351.4L823.6 358.7M832.4 351.4L839.7 344.1M832.4 351.4L839.7 358.7M815.8 351.4L823.6 344.1M815.8 351.4L823.6 358.7M799.2 351.4L791.4 344.1M799.2 351.4L791.4 358.7M782.6 351.4L775.3 344.1M782.6 351.4L775.3 358.7M782.6 351.4L791.4 344.1M782.6 351.4L791.4 358.7M766 351.4L759.3 344.1M766 351.4L759.3 358.7M766 351.4L775.3 344.1M766 351.4L775.3 358.7M749.3 351.4L759.3 344.1M749.3 351.4L759.3 358.7"/>
<g fill="url(#bL)"><circle cx="865.7" cy="351.4" r="2.5"/><circle cx="849" cy="351.4" r="2.5"/><circle cx="832.4" cy="351.4" r="2.5"/><circle cx="815.8" cy="351.4" r="2.5"/><circle cx="799.2" cy="351.4" r="2.5"/><circle cx="782.6" cy="351.4" r="2.5"/><circle cx="766" cy="351.4" r="2.5"/><circle cx="749.3" cy="351.4" r="2.5"/></g>
<path fill="none" stroke="#a4a4d4" stroke-width="0.6" d="M865.7 351.4L869.8 343.3M865.7 351.4L869.8 359.5M849 351.4L852 343.3M849 351.4L852 359.5M832.4 351.4L834.2 343.3M832.4 351.4L834.2 359.5M815.8 351.4L816.4 343.3M815.8 351.4L816.4 359.5M799.2 351.4L798.6 343.3M799.2 351.4L798.6 359.5M782.6 351.4L780.8 343.3M782.6 351.4L780.8 359.5M766 351.4L763 343.3M766 351.4L763 359.5M749.3 351.4L745.2 343.3M749.3 351.4L745.2 359.5"/>
<g fill="url(#bY)"><circle cx="869.8" cy="343.3" r="3.2"/><circle cx="869.8" cy="359.5" r="3.2"/><circle cx="852" cy="343.3" r="3.2"/><circle cx="852" cy="359.5" r="3.2"/><circle cx="834.2" cy="343.3" r="3.2"/><circle cx="834.2" cy="359.5" r="3.2"/><circle cx="780.8" cy="343.3" r="3.2"/><circle cx="780.8" cy="359.5" r="3.2"/><circle cx="763" cy="343.3" r="3.2"/><circle cx="763" cy="359.5" r="3.2"/><circle cx="745.2" cy="343.3" r="3.2"/><circle cx="745.2" cy="359.5" r="3.2"/><circle cx="816.4" cy="343.3" r="3.2"/><circle cx="816.4" cy="359.5" r="3.2"/><circle cx="798.6" cy="343.3" r="3.2"/><circle cx="798.6" cy="359.5" r="3.2"/></g>
<path fill="none" stroke="#a4a4d4" stroke-width="0.7" d="M862.9 351.4L852 343.3M862.9 351.4L852 359.5M862.9 351.4L869.8 343.3M862.9 351.4L869.8 359.5M844.4 351.4L834.2 343.3M844.4 351.4L834.2 359.5M844.4 351.4L852 343.3M844.4 351.4L852 359.5M826 351.4L816.4 343.3M826 351.4L816.4 359.5M826 351.4L834.2 343.3M826 351.4L834.2 359.5M807.5 351.4L798.6 343.3M807.5 351.4L798.6 359.5M807.5 351.4L816.4 343.3M807.5 351.4L816.4 359.5M789 351.4L780.8 343.3M789 351.4L780.8 359.5M789 351.4L798.6 343.3M789 351.4L798.6 359.5M770.6 351.4L763 343.3M770.6 351.4L763 359.5M770.6 351.4L780.8 343.3M770.6 351.4L780.8 359.5M752.1 351.4L745.2 343.3M752.1 351.4L745.2 359.5M752.1 351.4L763 343.3M752.1 351.4L763 359.5"/>
<g fill="url(#bL)"><circle cx="862.9" cy="351.4" r="2.8"/><circle cx="844.4" cy="351.4" r="2.8"/><circle cx="826" cy="351.4" r="2.8"/><circle cx="807.5" cy="351.4" r="2.8"/><circle cx="789" cy="351.4" r="2.8"/><circle cx="770.6" cy="351.4" r="2.8"/><circle cx="752.1" cy="351.4" r="2.8"/></g>
<path fill="none" stroke="#a4a4d4" stroke-width="0.7" d="M862.9 351.4L867.3 342.3M862.9 351.4L867.3 360.5M844.4 351.4L847.4 342.3M844.4 351.4L847.4 360.5M826 351.4L827.4 342.3M826 351.4L827.4 360.5M807.5 351.4L807.5 342.3M807.5 351.4L807.5 360.5M789 351.4L787.6 342.3M789 351.4L787.6 360.5M770.6 351.4L767.6 342.3M770.6 351.4L767.6 360.5M752.1 351.4L747.7 342.3M752.1 351.4L747.7 360.5"/>
<g fill="url(#bY)"><circle cx="867.3" cy="342.3" r="3.5"/><circle cx="867.3" cy="360.5" r="3.5"/><circle cx="847.4" cy="342.3" r="3.5"/><circle cx="847.4" cy="360.5" r="3.5"/><circle cx="767.6" cy="342.3" r="3.5"/><circle cx="767.6" cy="360.5" r="3.5"/><circle cx="747.7" cy="342.3" r="3.5"/><circle cx="747.7" cy="360.5" r="3.5"/><circle cx="827.4" cy="342.3" r="3.5"/><circle cx="827.4" cy="360.5" r="3.5"/><circle cx="807.5" cy="342.3" r="3.5"/><circle cx="807.5" cy="360.5" r="3.5"/><circle cx="787.6" cy="342.3" r="3.5"/><circle cx="787.6" cy="360.5" r="3.5"/></g>
<path fill="none" stroke="#a4a4d4" stroke-width="0.7" d="M859.4 351.4L847.4 342.3M859.4 351.4L847.4 360.5M859.4 351.4L867.3 342.3M859.4 351.4L867.3 360.5M838.6 351.4L827.4 342.3M838.6 351.4L827.4 360.5M838.6 351.4L847.4 342.3M838.6 351.4L847.4 360.5M817.9 351.4L807.5 342.3M817.9 351.4L807.5 360.5M817.9 351.4L827.4 342.3M817.9 351.4L827.4 360.5M797.1 351.4L787.6 342.3M797.1 351.4L787.6 360.5M797.1 351.4L807.5 342.3M797.1 351.4L807.5 360.5M776.4 351.4L767.6 342.3M776.4 351.4L767.6 360.5M776.4 351.4L787.6 342.3M776.4 351.4L787.6 360.5M755.6 351.4L747.7 342.3M755.6 351.4L747.7 360.5M755.6 351.4L767.6 342.3M755.6 351.4L767.6 360.5"/>
<g fill="url(#bL)"><circle cx="859.4" cy="351.4" r="3"/><circle cx="838.6" cy="351.4" r="3"/><circle cx="817.9" cy="351.4" r="3"/><circle cx="797.1" cy="351.4" r="3"/><circle cx="776.4" cy="351.4" r="3"/><circle cx="755.6" cy="351.4" r="3"/></g>
<path fill="none" stroke="#a4a4d4" stroke-width="0.8" d="M859.4 351.4L864.1 341.1M859.4 351.4L864.1 361.7M838.6 351.4L841.5 341.1M838.6 351.4L841.5 361.7M817.9 351.4L818.8 341.1M817.9 351.4L818.8 361.7M797.1 351.4L796.2 341.1M797.1 351.4L796.2 361.7M776.4 351.4L773.5 341.1M776.4 351.4L773.5 361.7M755.6 351.4L750.9 341.1M755.6 351.4L750.9 361.7"/>
<g fill="url(#bY)"><circle cx="864.1" cy="341.1" r="3.8"/><circle cx="864.1" cy="361.7" r="3.8"/><circle cx="750.9" cy="341.1" r="3.8"/><circle cx="750.9" cy="361.7" r="3.8"/><circle cx="841.5" cy="341.1" r="3.8"/><circle cx="841.5" cy="361.7" r="3.8"/><circle cx="818.8" cy="341.1" r="3.8"/><circle cx="818.8" cy="361.7" r="3.8"/><circle cx="796.2" cy="341.1" r="3.8"/><circle cx="796.2" cy="361.7" r="3.8"/><circle cx="773.5" cy="341.1" r="3.8"/><circle cx="773.5" cy="361.7" r="3.8"/></g>
<path fill="none" stroke="#a4a4d4" stroke-width="0.8" d="M854.9 351.4L841.5 341.1M854.9 351.4L841.5 361.7M854.9 351.4L864.1 341.1M854.9 351.4L864.1 361.7M831.2 351.4L818.8 341.1M831.2 351.4L818.8 361.7M831.2 351.4L841.5 341.1M831.2 351.4L841.5 361.7M807.5 351.4L796.2 341.1M807.5 351.4L796.2 361.7M807.5 351.4L818.8 341.1M807.5 351.4L818.8 361.7M783.8 351.4L773.5 341.1M783.8 351.4L773.5 361.7M783.8 351.4L796.2 341.1M783.8 351.4L796.2 361.7M760.1 351.4L750.9 341.1M760.1 351.4L750.9 361.7M760.1 351.4L773.5 341.1M760.1 351.4L773.5 361.7"/>
<g fill="url(#bL)"><circle cx="854.9" cy="351.4" r="3.4"/><circle cx="831.2" cy="351.4" r="3.4"/><circle cx="807.5" cy="351.4" r="3.4"/><circle cx="783.8" cy="351.4" r="3.4"/><circle cx="760.1" cy="351.4" r="3.4"/></g>
<path fill="none" stroke="#a4a4d4" stroke-width="0.8" d="M854.9 351.4L859.9 339.5M854.9 351.4L859.9 363.3M831.2 351.4L833.7 339.5M831.2 351.4L833.7 363.3M807.5 351.4L807.5 339.5M807.5 351.4L807.5 363.3M783.8 351.4L781.3 339.5M783.8 351.4L781.3 363.3M760.1 351.4L755.1 339.5M760.1 351.4L755.1 363.3"/>
<g fill="url(#bY)"><circle cx="807.5" cy="339.5" r="4.3"/><circle cx="807.5" cy="363.3" r="4.3"/><circle cx="859.9" cy="339.5" r="4.3"/><circle cx="859.9" cy="363.3" r="4.3"/><circle cx="833.7" cy="339.5" r="4.3"/><circle cx="833.7" cy="363.3" r="4.3"/><circle cx="781.3" cy="339.5" r="4.3"/><circle cx="781.3" cy="363.3" r="4.3"/><circle cx="755.1" cy="339.5" r="4.3"/><circle cx="755.1" cy="363.3" r="4.3"/></g>
<path fill="none" stroke="#a4a4d4" stroke-width="0.9" d="M849 351.4L833.7 339.5M849 351.4L833.7 363.3M849 351.4L859.9 339.5M849 351.4L859.9 363.3M821.3 351.4L807.5 339.5M821.3 351.4L807.5 363.3M821.3 351.4L833.7 339.5M821.3 351.4L833.7 363.3M793.7 351.4L781.3 339.5M793.7 351.4L781.3 363.3M793.7 351.4L807.5 339.5M793.7 351.4L807.5 363.3M766 351.4L755.1 339.5M766 351.4L755.1 363.3M766 351.4L781.3 339.5M766 351.4L781.3 363.3"/>
<g fill="url(#bL)"><circle cx="849" cy="351.4" r="3.8"/><circle cx="821.3" cy="351.4" r="3.8"/><circle cx="793.7" cy="351.4" r="3.8"/><circle cx="766" cy="351.4" r="3.8"/></g>
<path fill="none" stroke="#a4a4d4" stroke-width="1" d="M849 351.4L854.1 337.3M849 351.4L854.1 365.5M821.3 351.4L823 337.3M821.3 351.4L823 365.5M793.7 351.4L792 337.3M793.7 351.4L792 365.5M766 351.4L760.9 337.3M766 351.4L760.9 365.5"/>
<g fill="url(#bY)"><circle cx="854.1" cy="337.3" r="4.9"/><circle cx="854.1" cy="365.5" r="4.9"/><circle cx="823" cy="337.3" r="4.9"/><circle cx="823" cy="365.5" r="4.9"/><circle cx="792" cy="337.3" r="4.9"/><circle cx="792" cy="365.5" r="4.9"/><circle cx="760.9" cy="337.3" r="4.9"/><circle cx="760.9" cy="365.5" r="4.9"/></g>
<path fill="none" stroke="#a4a4d4" stroke-width="1" d="M840.6 351.4L823 337.3M840.6 351.4L823 365.5M840.6 351.4L854.1 337.3M840.6 351.4L854.1 365.5M807.5 351.4L792 337.3M807.5 351.4L792 365.5M807.5 351.4L823 337.3M807.5 351.4L823 365.5M774.4 351.4L760.9 337.3M774.4 351.4L760.9 365.5M774.4 351.4L792 337.3M774.4 351.4L792 365.5"/>
<g fill="url(#bL)"><circle cx="840.6" cy="351.4" r="4.4"/><circle cx="807.5" cy="351.4" r="4.4"/><circle cx="774.4" cy="351.4" r="4.4"/></g>
<path fill="none" stroke="#a4a4d4" stroke-width="1.1" d="M840.6 351.4L845.7 334M840.6 351.4L845.7 368.8M807.5 351.4L807.5 334M807.5 351.4L807.5 368.8M774.4 351.4L769.3 334M774.4 351.4L769.3 368.8"/>
<g fill="url(#bY)"><circle cx="845.7" cy="334" r="5.8"/><circle cx="845.7" cy="368.8" r="5.8"/><circle cx="807.5" cy="334" r="5.8"/><circle cx="807.5" cy="368.8" r="5.8"/><circle cx="769.3" cy="334" r="5.8"/><circle cx="769.3" cy="368.8" r="5.8"/></g>
<path fill="none" stroke="#a4a4d4" stroke-width="1.2" d="M828.2 351.4L807.5 334M828.2 351.4L807.5 368.8M828.2 351.4L845.7 334M828.2 351.4L845.7 368.8M786.8 351.4L769.3 334M786.8 351.4L769.3 368.8M786.8 351.4L807.5 334M786.8 351.4L807.5 368.8"/>
<g fill="url(#bL)"><circle cx="828.2" cy="351.4" r="5.3"/><circle cx="786.8" cy="351.4" r="5.3"/></g>
<path fill="none" stroke="#a4a4d4" stroke-width="1.4" d="M828.2 351.4L832.3 328.9M828.2 351.4L832.3 373.9M786.8 351.4L782.7 328.9M786.8 351.4L782.7 373.9"/>
<g fill="url(#bY)"><circle cx="832.3" cy="328.9" r="7.2"/><circle cx="832.3" cy="373.9" r="7.2"/><circle cx="782.7" cy="328.9" r="7.2"/><circle cx="782.7" cy="373.9" r="7.2"/></g>
<path fill="none" stroke="#a4a4d4" stroke-width="1.5" d="M807.5 351.4L782.7 328.9M807.5 351.4L782.7 373.9M807.5 351.4L832.3 328.9M807.5 351.4L832.3 373.9"/>
<g fill="url(#bL)"><circle cx="807.5" cy="351.4" r="6.6"/></g>
<path fill="none" stroke="#a4a4d4" stroke-width="1.8" d="M807.5 351.4L807.5 319.3M807.5 351.4L807.5 383.5"/>
<g fill="url(#bY)"><circle cx="807.5" cy="319.3" r="9.5"/><circle cx="807.5" cy="383.5" r="9.5"/></g>
<defs>
<clipPath id="clipg"><rect x="42.2" y="413.1" width="177.6" height="155"/></clipPath>
<clipPath id="hclipg"><rect x="41.5" y="573.5" width="179" height="163"/></clipPath>
<clipPath id="cliph"><rect x="267.7" y="413.1" width="177.6" height="155"/></clipPath>
<clipPath id="hcliph"><rect x="267" y="573.5" width="179" height="163"/></clipPath>
<clipPath id="clipi"><rect x="493.4" y="413.1" width="177.6" height="155"/></clipPath>
<clipPath id="hclipi"><rect x="492.7" y="573.5" width="179" height="163"/></clipPath>
<clipPath id="clipj"><rect x="719" y="413.1" width="177.6" height="155"/></clipPath>
<clipPath id="hclipj"><rect x="718.3" y="573.5" width="179" height="163"/></clipPath>
<linearGradient id="cbar" x1="0" y1="0" x2="0" y2="1"><stop offset="0" stop-color="#e01818"/><stop offset="0.48" stop-color="#ffffff"/><stop offset="0.54" stop-color="#ffffff"/><stop offset="1" stop-color="#1010e0"/></linearGradient>
<radialGradient id="iglow" cx="0.5" cy="0.5" r="0.5"><stop offset="0" stop-color="#b81818"/><stop offset="0.35" stop-color="#a01414"/><stop offset="0.7" stop-color="#601010" stop-opacity="0.7"/><stop offset="1" stop-color="#200510" stop-opacity="0"/></radialGradient>
<filter id="blur1" filterUnits="userSpaceOnUse" x="0" y="0" width="920" height="768"><feGaussianBlur stdDeviation="1"/></filter>
<filter id="blur2" filterUnits="userSpaceOnUse" x="0" y="0" width="920" height="768"><feGaussianBlur stdDeviation="2"/></filter>
<filter id="blur4" filterUnits="userSpaceOnUse" x="0" y="0" width="920" height="768"><feGaussianBlur stdDeviation="4"/></filter>
<filter id="blur05" filterUnits="userSpaceOnUse" x="0" y="0" width="920" height="768"><feGaussianBlur stdDeviation="0.6"/></filter>
</defs>
<rect x="41.5" y="412.4" width="179" height="156.4" fill="#fff" stroke="#383838" stroke-width="1.6"/>
<rect x="267" y="412.4" width="179" height="156.4" fill="#fff" stroke="#383838" stroke-width="1.6"/>
<rect x="492.7" y="412.4" width="179" height="156.4" fill="#fff" stroke="#383838" stroke-width="1.6"/>
<rect x="718.3" y="412.4" width="179" height="156.4" fill="#fff" stroke="#383838" stroke-width="1.6"/>
<g clip-path="url(#clipg)">
<path d="M41.5 560.66L42 560.68L42.5 560.48L43 560.34L43.5 560.19L44 560.59L44.5 560.47L45 560.64L45.5 560.41L46 560.65L46.5 560.35L47 560.67L47.5 560.62L48 560.43L48.5 560.51L49 560.6L49.5 560.3L50 560.52L50.5 560.67L51 560.34L51.5 560.67L52 560.6L52.5 560.69L53 560.39L53.5 560.24L54 560.66L54.5 560.67L55 560.45L55.5 560.24L56 560.3L56.5 560.56L57 560.36L57.5 560.75L58 560.54L58.5 560.3L59 560.58L59.5 560.4L60 560.74L60.5 560.73L61 560.49L61.5 560.57L62 560.6L62.5 560.66L63 560.77L63.5 560.2L64 560.4L64.5 560.54L65 560.36L65.5 560.53L66 560.23L66.5 560.71L67 560.49L67.5 560.25L68 560.57L68.5 560.36L69 560.29L69.5 560.47L70 560.26L70.5 560.3L71 560.69L71.5 560.59L72 560.18L72.5 560.64L73 560.18L73.5 560.37L74 560.71L74.5 560.54L75 560.35L75.5 560.4L76 560.4L76.5 560.24L77 560.77L77.5 560.2L78 560.42L78.5 560.61L79 560.4L79.5 560.75L80 560.31L80.5 560.75L81 560.7L81.5 560.56L82 560.69L82.5 560.43L83 560.66L83.5 560.64L84 560.47L84.5 560.44L85 560.58L85.5 560.4L86 560.21L86.5 560.6L87 560.31L87.5 560.44L88 560.62L88.5 560.25L89 560.16L89.5 560.22L90 560.5L90.5 560.36L91 560.3L91.5 560.41L92 560.7L92.5 560.29L93 560.38L93.5 560.66L94 560.5L94.5 560.29L95 560.41L95.5 560.41L96 560.21L96.5 560.35L97 560.3L97.5 560.6L98 560.31L98.5 560.51L99 560.69L99.5 560.66L100 560.33L100.5 560.46L101 560.28L101.5 560.33L102 560.38L102.5 560.55L103 560.63L103.5 560.24L104 560.06L104.5 560.32L105 560.07L105.5 560.05L106 560.48L106.5 560.07L107 560.41L107.5 560.18L108 560.5L108.5 560.41L109 559.9L109.5 559.94L110 560.33L110.5 560.07L111 559.87L111.5 559.99L112 559.89L112.5 559.55L113 559.37L113.5 558.95L114 558.88L114.5 558.48L115 558.48L115.5 558.15L116 557.52L116.5 557.42L117 556.66L117.5 556.1L118 555.48L118.5 553.47L119 549.94L119.5 543.35L120 535.04L120.5 527.65L121 527.18L121.5 532.68L122 541.21L122.5 548.07L123 552.09L123.5 553.98L124 554.46L124.5 554.86L125 554.98L125.5 554.55L126 554.92L126.5 554.7L127 554.03L127.5 553.41L128 551.21L128.5 546.43L129 537.25L129.5 521.42L130 502.39L130.5 485.66L131 480.32L131.5 491.05L132 509.15L132.5 527.58L133 539.68L133.5 546.38L134 547.33L134.5 544.28L135 534.39L135.5 516.72L136 490.49L136.5 459.01L137 433.19L137.5 425.69L138 441.6L138.5 470.95L139 500.35L139.5 522.65L140 534.33L140.5 538.24L141 536.16L141.5 528.44L142 514.47L142.5 498.8L143 492.24L143.5 504.82L144 525.63L144.5 542.24L145 550.7L145.5 554.18L146 555.83L146.5 556.3L147 557.2L147.5 557.49L148 558.03L148.5 558.35L149 558.94L149.5 559.1L150 559.18L150.5 558.85L151 556.9L151.5 552.9L152 551L152.5 554.38L153 558.31L153.5 559.69L154 560.15L154.5 560.33L155 560.23L155.5 560.02L156 560.12L156.5 560.17L157 560.22L157.5 560.21L158 560.58L158.5 560.33L159 560.4L159.5 560.44L160 560.41L160.5 560.51L161 560.26L161.5 560.44L162 560.63L162.5 560.16L163 560.44L163.5 560.3L164 560.11L164.5 560.1L165 560.54L165.5 560.15L166 560.52L166.5 560.15L167 560.32L167.5 560.12L168 560.43L168.5 560.58L169 560.24L169.5 560.45L170 560.67L170.5 560.29L171 560.4L171.5 560.56L172 560.64L172.5 560.23L173 560.53L173.5 560.2L174 560.2L174.5 560.72L175 560.17L175.5 560.69L176 560.59L176.5 560.55L177 560.58L177.5 560.53L178 560.32L178.5 560.41L179 560.27L179.5 560.66L180 560.62L180.5 560.62L181 560.28L181.5 560.51L182 560.31L182.5 560.63L183 560.6L183.5 560.75L184 560.58L184.5 560.57L185 560.63L185.5 560.22L186 560.52L186.5 560.18L187 560.38L187.5 560.23L188 560.73L188.5 560.18L189 560.72L189.5 560.73L190 560.43L190.5 560.67L191 560.2L191.5 560.25L192 560.17L192.5 560.21L193 560.17L193.5 560.67L194 560.22L194.5 560.53L195 560.34L195.5 560.25L196 560.42L196.5 560.28L197 560.76L197.5 560.4L198 560.53L198.5 560.51L199 560.55L199.5 560.46L200 560.34L200.5 560.26L201 560.71L201.5 560.29L202 560.45L202.5 560.66L203 560.52L203.5 560.75L204 560.66L204.5 560.49L205 560.25L205.5 560.54L206 560.46L206.5 560.7L207 560.5L207.5 560.6L208 560.67L208.5 560.46L209 560.69L209.5 560.72L210 560.27L210.5 560.73L211 560.7L211.5 560.7L212 560.39L212.5 560.33L213 560.26L213.5 560.41L214 560.7L214.5 560.4L215 560.19L215.5 560.37L216 560.23L216.5 560.56L217 560.65L217.5 560.74L218 560.24L218.5 560.41L219 560.26L219.5 560.73L220 560.69L220.5 560.5" fill="none" stroke="#1c1c1c" stroke-width="1.5" stroke-linejoin="round"/>
<path d="M41.5 556.61L41.85 557.23L42.2 557.51L42.55 558.27L42.9 557.22L43.25 558.17L43.6 553.52L43.95 555.79L44.3 558.28L44.65 556.75L45 558.06L45.35 553.96L45.7 555.81L46.05 554.65L46.4 556.2L46.75 556.35L47.1 553.44L47.45 554.5L47.8 554.82L48.15 558.13L48.5 557.35L48.85 554.2L49.2 557.51L49.55 554.09L49.9 556.58L50.25 554.03L50.6 553.38L50.95 557.9L51.3 554.46L51.65 554.49L52 558.47L52.35 557.9L52.7 554.87L53.05 558.36L53.4 556.17L53.75 556.89L54.1 554.43L54.45 558.26L54.8 556.95L55.15 558.39L55.5 558.01L55.85 554.92L56.2 555.24L56.55 554.22L56.9 554.12L57.25 553.7L57.6 554.93L57.95 556.49L58.3 553.38L58.65 556.88L59 555.11L59.35 554.97L59.7 557.61L60.05 555.86L60.4 555L60.75 555.86L61.1 557.02L61.45 553.65L61.8 558.42L62.15 553.47L62.5 557.25L62.85 557.75L63.2 553.45L63.55 557.45L63.9 555.25L64.25 556.36L64.6 553.4L64.95 553.59L65.3 554.29L65.65 558.31L66 554.37L66.35 557.28L66.7 558.18L67.05 558.24L67.4 555.13L67.75 555.19L68.1 556.07L68.45 557.37L68.8 553.9L69.15 557.23L69.5 557.48L69.85 557.81L70.2 553.53L70.55 558.25L70.9 553.81L71.25 555.11L71.6 556.51L71.95 558.11L72.3 555.1L72.65 558.14L73 556.16L73.35 554.95L73.7 554.98L74.05 554.25L74.4 553.73L74.75 554.1L75.1 556.91L75.45 558.51L75.8 554.16L76.15 553.57L76.5 558.45L76.85 556.09L77.2 555.43L77.55 554.55L77.9 556.4L78.25 557.61L78.6 555.68L78.95 555.5L79.3 553.6L79.65 558.07L80 553.47L80.35 555.87L80.7 557.66L81.05 553.98L81.4 557.1L81.75 558.24L82.1 556.57L82.45 557.39L82.8 553.85L83.15 555.55L83.5 554.06L83.85 557.68L84.2 554.82L84.55 555.64L84.9 558.47L85.25 557.71L85.6 558.35L85.95 555.63L86.3 555.81L86.65 557.06L87 555.75L87.35 554.77L87.7 555.36L88.05 554.02L88.4 555.21L88.75 558.39L89.1 558.24L89.45 556.5L89.8 555.84L90.15 555L90.5 553.69L90.85 554.64L91.2 557.29L91.55 557.73L91.9 555.09L92.25 557.3L92.6 557.24L92.95 556.81L93.3 556.65L93.65 557.14L94 555.08L94.35 556.84L94.7 554.64L95.05 555.7L95.4 557.17L95.75 556.75L96.1 554.68L96.45 558.06L96.8 556.51L97.15 556.14L97.5 553.17L97.85 555.95L98.2 554.4L98.55 556.57L98.9 555.47L99.25 557.29L99.6 556.39L99.95 557.15L100.3 554.79L100.65 556.3L101 556.76L101.35 557.19L101.7 554.66L102.05 557.18L102.4 557.26L102.75 556.26L103.1 557.68L103.45 557.5L103.8 555.12L104.15 554.96L104.5 552.39L104.85 553.85L105.2 549.99L105.55 541.57L105.9 538.54L106.25 539.73L106.6 544.96L106.95 547.36L107.3 553.53L107.65 553.5L108 554.06L108.35 552.65L108.7 553.52L109.05 554.12L109.4 553.22L109.75 553.48L110.1 549.71L110.45 550.24L110.8 551.56L111.15 552.51L111.5 550.15L111.85 552.46L112.2 552.08L112.55 548.92L112.9 551.07L113.25 549.72L113.6 548.74L113.95 549.06L114.3 549.89L114.65 549.03L115 548.87L115.35 547.72L115.7 549.47L116.05 548.31L116.4 548.46L116.75 546.83L117.1 542.86L117.45 543.38L117.8 534.75L118.15 531.71L118.5 524.56L118.85 517.29L119.2 506.34L119.55 499.31L119.9 485.1L120.25 470.9L120.6 461.44L120.95 447.04L121.3 439.32L121.65 430.75L122 427.88L122.35 429.6L122.7 432.53L123.05 437.58L123.4 449.45L123.75 460.16L124.1 471.23L124.45 482.62L124.8 497.02L125.15 507.89L125.5 519.66L125.85 528L126.2 532.95L126.55 537.07L126.9 544.13L127.25 542.7L127.6 545.64L127.95 549.77L128.3 551.29L128.65 549.73L129 552.93L129.35 554.78L129.7 552.47L130.05 553.04L130.4 552.21L130.75 552.74L131.1 556.45L131.45 553.51L131.8 556.66L132.15 556.53L132.5 554.98L132.85 553.32L133.2 557.16L133.55 554.72L133.9 554.37L134.25 553.93L134.6 557.45L134.95 554.95L135.3 553.93L135.65 554.97L136 553.17L136.35 555.81L136.7 554.92L137.05 554.17L137.4 556.75L137.75 557.01L138.1 552.81L138.45 555.54L138.8 554.22L139.15 557.68L139.5 556.91L139.85 554.14L140.2 554.28L140.55 553.71L140.9 558.06L141.25 554.46L141.6 556.12L141.95 555.44L142.3 556.34L142.65 556.14L143 556.88L143.35 553.64L143.7 556.99L144.05 554.61L144.4 555.83L144.75 554.82L145.1 554.62L145.45 555.84L145.8 555.51L146.15 554.98L146.5 556.99L146.85 556.19L147.2 553.32L147.55 554.45L147.9 555.51L148.25 557.92L148.6 557.77L148.95 556L149.3 553.25L149.65 557.22L150 555.41L150.35 556.18L150.7 556.87L151.05 556.48L151.4 555.71L151.75 557.95L152.1 555.22L152.45 555.25L152.8 557.65L153.15 554.24L153.5 554.77L153.85 557.55L154.2 553.58L154.55 557.59L154.9 556.85L155.25 555.5L155.6 554.74L155.95 557.31L156.3 557.99L156.65 554L157 555.75L157.35 556.12L157.7 555.85L158.05 554.99L158.4 554.07L158.75 556.32L159.1 557.5L159.45 553.63L159.8 554.48L160.15 557.54L160.5 557.4L160.85 556.74L161.2 553.42L161.55 557.05L161.9 558.38L162.25 558.49L162.6 556.94L162.95 553.55L163.3 557.68L163.65 554.44L164 556.66L164.35 558.26L164.7 557.01L165.05 554.01L165.4 554.83L165.75 558.08L166.1 554.09L166.45 556.49L166.8 555.47L167.15 554.15L167.5 556.55L167.85 553.55L168.2 553.88L168.55 555.29L168.9 553.7L169.25 553.62L169.6 556.32L169.95 557.19L170.3 557.89L170.65 554.03L171 555.57L171.35 554.97L171.7 556.45L172.05 555.88L172.4 558.21L172.75 555.28L173.1 553.62L173.45 556.96L173.8 554.12L174.15 556.62L174.5 555.97L174.85 558.07L175.2 556.22L175.55 556.57L175.9 554.71L176.25 556.21L176.6 554.66L176.95 557.25L177.3 556.03L177.65 554.04L178 554.56L178.35 555.28L178.7 557.18L179.05 554.28L179.4 557.06L179.75 556.75L180.1 553.79L180.45 556.82L180.8 553.82L181.15 554L181.5 556.44L181.85 554.59L182.2 557.91L182.55 555.85L182.9 555.03L183.25 557.5L183.6 553.51L183.95 557.13L184.3 553.63L184.65 554.14L185 558.31L185.35 556.9L185.7 554.52L186.05 553.96L186.4 558.42L186.75 556.82L187.1 557.63L187.45 554.09L187.8 556.61L188.15 555.2L188.5 554.58L188.85 555.09L189.2 556.55L189.55 555.18L189.9 555.37L190.25 554.07L190.6 557.69L190.95 556.73L191.3 557.55L191.65 555.62L192 557.79L192.35 556.06L192.7 556.45L193.05 556.35L193.4 557.22L193.75 555.42L194.1 553.87L194.45 553.54L194.8 554.42L195.15 553.57L195.5 557.99L195.85 555.87L196.2 557.32L196.55 553.37L196.9 555.81L197.25 558L197.6 556.59L197.95 555.6L198.3 555.79L198.65 553.89L199 554.18L199.35 554.2L199.7 555.32L200.05 555.38L200.4 557.95L200.75 554.16L201.1 554.69L201.45 554.82L201.8 554.21L202.15 554.87L202.5 554.6L202.85 555.88L203.2 553.54L203.55 558.18L203.9 555.29L204.25 558.25L204.6 556.95L204.95 556.88L205.3 555.83L205.65 558.29L206 553.99L206.35 556.85L206.7 554.89L207.05 556.88L207.4 557.17L207.75 554.23L208.1 554.42L208.45 553.51L208.8 554.58L209.15 553.78L209.5 555.46L209.85 558.44L210.2 555.27L210.55 555L210.9 555.81L211.25 554.85L211.6 557.19L211.95 557.11L212.3 554.23L212.65 554.63L213 556.87L213.35 558.27L213.7 556.74L214.05 555.62L214.4 558.45L214.75 553.41L215.1 553.7L215.45 557.43L215.8 555.51L216.15 553.61L216.5 556.23L216.85 558.53L217.2 556.08L217.55 555.2L217.9 553.87L218.25 553.75L218.6 558.06L218.95 555.94L219.3 558.25L219.65 553.66L220 554.65L220.35 553.64" fill="none" stroke="#e8231e" stroke-width="1.4" stroke-linejoin="round"/>
</g>
<g clip-path="url(#cliph)">
<path d="M267 560.74L267.5 561.76L268 560.58L268.5 561.38L269 560.51L269.5 560.73L270 561.77L270.5 560.66L271 561.26L271.5 560.99L272 560.97L272.5 561.02L273 560.59L273.5 561.48L274 560.43L274.5 560.62L275 560.31L275.5 560.65L276 560.83L276.5 561.52L277 560.77L277.5 560.39L278 560.58L278.5 561.6L279 560.29L279.5 561.05L280 560.7L280.5 561.09L281 560.62L281.5 561.11L282 560.82L282.5 561.02L283 561.36L283.5 560.9L284 560.27L284.5 560.15L285 561.37L285.5 560.72L286 560.29L286.5 561.33L287 560.8L287.5 560.99L288 561.19L288.5 560.34L289 560.43L289.5 561.14L290 560.08L290.5 560.95L291 560L291.5 560.81L292 560.81L292.5 561.14L293 560.98L293.5 560.48L294 560.04L294.5 559.95L295 560.47L295.5 560.42L296 559.79L296.5 560.93L297 560.36L297.5 560.61L298 559.92L298.5 559.94L299 559.59L299.5 560.04L300 559.91L300.5 560.11L301 560.02L301.5 560.64L302 560.7L302.5 559.68L303 559.97L303.5 559.63L304 560.3L304.5 560.72L305 559.61L305.5 560.38L306 559.71L306.5 559.28L307 560.31L307.5 559.7L308 559.44L308.5 559.79L309 559.48L309.5 559.71L310 559.73L310.5 559.67L311 559.89L311.5 559.45L312 559.15L312.5 559.12L313 559.12L313.5 559.68L314 559.43L314.5 560.03L315 559.59L315.5 559.85L316 560.2L316.5 558.9L317 558.81L317.5 558.96L318 559.28L318.5 559.52L319 559.73L319.5 559.16L320 559.99L320.5 558.62L321 559.76L321.5 558.86L322 559.77L322.5 558.57L323 559.85L323.5 559.53L324 559.83L324.5 559.23L325 558.65L325.5 559.73L326 558.97L326.5 558.44L327 559.14L327.5 558.97L328 558.91L328.5 558.44L329 558.36L329.5 558.98L330 558.77L330.5 558.29L331 558.7L331.5 559.06L332 558.92L332.5 557.97L333 555.71L333.5 550.93L334 545.13L334.5 543.25L335 547.4L335.5 552.57L336 557.02L336.5 558.25L337 558.33L337.5 557.44L338 557.79L338.5 557.73L339 557.07L339.5 558.08L340 557.54L340.5 556.89L341 556.85L341.5 555.78L342 555.41L342.5 555.39L343 555.23L343.5 554.61L344 553.22L344.5 553.58L345 553.52L345.5 552.83L346 552.68L346.5 552.39L347 551.03L347.5 550.9L348 551.08L348.5 551.59L349 550.7L349.5 551.53L350 551.48L350.5 551.13L351 551.4L351.5 551.99L352 551.85L352.5 551.22L353 551.96L353.5 550.91L354 550.85L354.5 551.13L355 550.1L355.5 548L356 545.94L356.5 543.42L357 539.53L357.5 533.53L358 526.23L358.5 516.19L359 504.45L359.5 490.35L360 474.87L360.5 459.45L361 445.12L361.5 433.77L362 427.76L362.5 426.77L363 432.39L363.5 443.86L364 456.42L364.5 470.67L365 483.76L365.5 496.69L366 505.25L366.5 511.37L367 516.35L367.5 521.08L368 526.77L368.5 532.26L369 534.31L369.5 535.92L370 538.07L370.5 539L371 540.07L371.5 540.5L372 542.45L372.5 543.32L373 544.84L373.5 545.4L374 547.17L374.5 548.36L375 548.92L375.5 550.38L376 551.59L376.5 552.85L377 553.63L377.5 554.26L378 554.08L378.5 555.4L379 556.09L379.5 555.75L380 556.71L380.5 557.63L381 557.95L381.5 558.15L382 557.04L382.5 557.71L383 557.92L383.5 557.42L384 556.75L384.5 556.24L385 557.48L385.5 557.56L386 557.58L386.5 557.57L387 558.63L387.5 558.99L388 559.17L388.5 559.22L389 558.99L389.5 559.06L390 559.22L390.5 559.23L391 559.54L391.5 559.01L392 559.9L392.5 559.41L393 559.18L393.5 559.35L394 559.57L394.5 559.66L395 560.18L395.5 559.26L396 559.46L396.5 559.58L397 559.45L397.5 560.28L398 559.41L398.5 559.36L399 560.09L399.5 560.37L400 560.52L400.5 560.17L401 559.87L401.5 560.67L402 560.49L402.5 560.16L403 560.3L403.5 560.84L404 560.95L404.5 560.88L405 559.78L405.5 560.08L406 560.21L406.5 559.9L407 560.75L407.5 559.79L408 560.96L408.5 560.56L409 560.62L409.5 560.36L410 561.11L410.5 560.63L411 561.09L411.5 561.14L412 560.84L412.5 561.26L413 560.59L413.5 560.43L414 561.12L414.5 560.69L415 560.4L415.5 560.94L416 560.67L416.5 560.2L417 561.2L417.5 560.75L418 561.42L418.5 560.82L419 561.4L419.5 560.51L420 560.42L420.5 560.86L421 561.21L421.5 561.31L422 561.07L422.5 560.35L423 560.74L423.5 560.25L424 560.73L424.5 561.55L425 560.72L425.5 561.22L426 561.13L426.5 560.47L427 561.24L427.5 560.4L428 560.56L428.5 561.12L429 560.49L429.5 561.68L430 560.93L430.5 561.23L431 561.7L431.5 560.51L432 561.77L432.5 560.43L433 561.23L433.5 561.31L434 561.78L434.5 560.91L435 561.74L435.5 561.33L436 561.1L436.5 560.67L437 560.77L437.5 560.96L438 560.94L438.5 560.98L439 561.6L439.5 561L440 561.36L440.5 560.54L441 560.69L441.5 561.49L442 561.75L442.5 560.94L443 560.56L443.5 560.84L444 561.02L444.5 561.04L445 561.31L445.5 560.96L446 561.44" fill="none" stroke="#1c1c1c" stroke-width="1.5" stroke-linejoin="round"/>
<path d="M267 562.23L267.5 562.02L268 562.62L268.5 561.92L269 562.47L269.5 562.27L270 561.89L270.5 562.43L271 561.86L271.5 562.33L272 561.89L272.5 561.91L273 562.31L273.5 562.78L274 561.94L274.5 562.05L275 562.53L275.5 562.91L276 562.46L276.5 562.24L277 562.92L277.5 561.8L278 562.77L278.5 562.08L279 561.9L279.5 561.86L280 562.08L280.5 562.69L281 561.92L281.5 562.39L282 562.45L282.5 562.12L283 562.32L283.5 561.73L284 561.72L284.5 561.89L285 562.45L285.5 562.14L286 561.99L286.5 562.31L287 562.14L287.5 561.94L288 562.52L288.5 562.4L289 561.84L289.5 562.23L290 562.16L290.5 562.56L291 562.38L291.5 561.83L292 562.65L292.5 561.6L293 561.95L293.5 562.34L294 561.6L294.5 561.99L295 561.44L295.5 562.18L296 562.28L296.5 562.03L297 562.38L297.5 561.69L298 562.13L298.5 561.99L299 561.96L299.5 561.79L300 562.23L300.5 562.34L301 561.75L301.5 561.96L302 561.22L302.5 561.97L303 561.88L303.5 562.27L304 562.05L304.5 561.38L305 561.48L305.5 561.79L306 560.99L306.5 561.5L307 561.12L307.5 561.03L308 560.94L308.5 561.76L309 560.97L309.5 561.08L310 561.22L310.5 561.77L311 560.79L311.5 561.2L312 561.29L312.5 561.66L313 561.55L313.5 561.57L314 560.83L314.5 560.96L315 560.86L315.5 561.45L316 561.5L316.5 560.49L317 560.48L317.5 560.5L318 560.46L318.5 560.72L319 560.79L319.5 560.35L320 559.99L320.5 560.44L321 560.32L321.5 560.5L322 560.9L322.5 560.53L323 560.25L323.5 560.3L324 560.3L324.5 559.48L325 560.41L325.5 560.19L326 560.21L326.5 560.02L327 559.44L327.5 559.34L328 558.87L328.5 559.38L329 558.57L329.5 558.43L330 558.45L330.5 558.23L331 558.26L331.5 557.72L332 557.45L332.5 557.4L333 557.08L333.5 557.11L334 556.39L334.5 557.06L335 556.34L335.5 555.32L336 554.91L336.5 554.37L337 553.6L337.5 552.33L338 551.94L338.5 550.48L339 547.73L339.5 544.97L340 540.89L340.5 536.29L341 530.76L341.5 523.49L342 515.54L342.5 504.64L343 493.03L343.5 481.64L344 468.02L344.5 454.59L345 443.19L345.5 433.03L346 427.67L346.5 426.77L347 429.96L347.5 437.29L348 447.4L348.5 459.97L349 472.87L349.5 486.53L350 498.38L350.5 509.6L351 518.58L351.5 526.49L352 533.82L352.5 539.34L353 543.37L353.5 546.57L354 549.08L354.5 550.89L355 551.75L355.5 553.24L356 553.94L356.5 554.28L357 554.88L357.5 555.69L358 556.1L358.5 557L359 557.66L359.5 557.35L360 558.21L360.5 558.52L361 558.7L361.5 558.2L362 558.21L362.5 558.39L363 558.52L363.5 558.67L364 559.31L364.5 559.77L365 559.82L365.5 559.5L366 559.81L366.5 560.09L367 559.32L367.5 560.1L368 560.48L368.5 560.41L369 560.44L369.5 560.19L370 559.9L370.5 560.69L371 560.21L371.5 560.83L372 561.09L372.5 560.45L373 560.51L373.5 561.22L374 561L374.5 560.38L375 560.37L375.5 560.45L376 561.39L376.5 561.32L377 560.56L377.5 561.42L378 561.64L378.5 561.29L379 560.96L379.5 561.23L380 560.76L380.5 560.65L381 561.83L381.5 561.48L382 561.36L382.5 561.88L383 561.31L383.5 561.86L384 561.84L384.5 561.12L385 561.2L385.5 561.28L386 561.24L386.5 561.68L387 561.31L387.5 561.52L388 561.2L388.5 562.16L389 561.51L389.5 561.66L390 561.83L390.5 562.24L391 561.68L391.5 562.29L392 561.81L392.5 561.87L393 561.88L393.5 561.29L394 561.81L394.5 561.52L395 561.32L395.5 562.29L396 561.56L396.5 561.94L397 562.25L397.5 562.07L398 561.8L398.5 562.05L399 562.11L399.5 562.4L400 561.6L400.5 562.15L401 561.79L401.5 561.84L402 562.45L402.5 562.14L403 562.22L403.5 562.47L404 562.66L404.5 562.11L405 562.32L405.5 562.2L406 562.22L406.5 562.45L407 562.17L407.5 562.28L408 562.22L408.5 562.78L409 562.5L409.5 562.72L410 562.81L410.5 562L411 562.37L411.5 562.83L412 562.72L412.5 561.88L413 561.87L413.5 562.26L414 561.82L414.5 562.03L415 561.84L415.5 562.56L416 562.7L416.5 562.84L417 561.96L417.5 562.64L418 562.58L418.5 561.96L419 562.85L419.5 562.96L420 562.07L420.5 562.95L421 562.29L421.5 562.4L422 563.01L422.5 562.82L423 562.02L423.5 562.35L424 562.45L424.5 562.25L425 562.08L425.5 562.23L426 562.72L426.5 561.88L427 562.52L427.5 562.39L428 561.88L428.5 562.26L429 562.62L429.5 562.48L430 561.95L430.5 563.06L431 562.82L431.5 563.05L432 562.01L432.5 562.2L433 561.93L433.5 562.82L434 562.21L434.5 562.05L435 562.4L435.5 562.99L436 562.88L436.5 562.21L437 562.08L437.5 563.01L438 562.59L438.5 562.75L439 562.01L439.5 561.98L440 562.74L440.5 562.42L441 562L441.5 563.04L442 562.68L442.5 562.88L443 562.02L443.5 562.95L444 562L444.5 562.96L445 562.47L445.5 562.33L446 562.59" fill="none" stroke="#e8231e" stroke-width="1.4" stroke-linejoin="round"/>
</g>
<g clip-path="url(#clipi)">
<path d="M492.7 560.59L493.2 560.42L493.7 560.61L494.2 560.17L494.7 560.91L495.2 560.93L495.7 560.74L496.2 560.15L496.7 560.59L497.2 560.37L497.7 560.28L498.2 561.14L498.7 561.2L499.2 560.06L499.7 561.05L500.2 560.75L500.7 560.49L501.2 560.38L501.7 560.86L502.2 560.61L502.7 560.89L503.2 560.87L503.7 560.24L504.2 561.01L504.7 561.28L505.2 561.27L505.7 560.85L506.2 560.17L506.7 560.13L507.2 560.29L507.7 561.27L508.2 560.5L508.7 560.57L509.2 561.2L509.7 560.47L510.2 560.7L510.7 560.48L511.2 559.9L511.7 560.31L512.2 560.31L512.7 559.02L513.2 558.44L513.7 557.73L514.2 556.01L514.7 554.85L515.2 553.01L515.7 549.98L516.2 546.28L516.7 542.34L517.2 536.36L517.7 530.92L518.2 523.98L518.7 516.91L519.2 508.51L519.7 501.27L520.2 492.5L520.7 485.03L521.2 478.99L521.7 473.45L522.2 468.51L522.7 465.8L523.2 464.69L523.7 465.65L524.2 468.76L524.7 472.57L525.2 478.23L525.7 485.45L526.2 492.67L526.7 501.23L527.2 509.49L527.7 517.26L528.2 524.26L528.7 530.82L529.2 536.89L529.7 541.52L530.2 546.71L530.7 549.82L531.2 552.66L531.7 554.62L532.2 556.78L532.7 558.23L533.2 558.94L533.7 560.2L534.2 560.44L534.7 560.25L535.2 560.82L535.7 561.43L536.2 561.06L536.7 561.22L537.2 560.62L537.7 561.16L538.2 561.15L538.7 561.09L539.2 561.12L539.7 561.33L540.2 561.28L540.7 561.23L541.2 560.84L541.7 561.18L542.2 561.82L542.7 561.16L543.2 560.71L543.7 560.67L544.2 561.31L544.7 560.74L545.2 560.79L545.7 560.81L546.2 561.23L546.7 561.88L547.2 561.27L547.7 561.23L548.2 561.2L548.7 561.26L549.2 561.17L549.7 561.46L550.2 561.59L550.7 561.24L551.2 560.75L551.7 560.77L552.2 560.72L552.7 559.31L553.2 558.71L553.7 558.23L554.2 557.07L554.7 555.44L555.2 553.4L555.7 551.31L556.2 548.07L556.7 545.24L557.2 541.85L557.7 537.37L558.2 533.9L558.7 529.78L559.2 526.23L559.7 521.85L560.2 520.08L560.7 517.81L561.2 516.74L561.7 516.25L562.2 515.46L562.7 515.85L563.2 513.63L563.7 508.7L564.2 496.9L564.7 475.47L565.2 448.69L565.7 422.01L566.2 419.95L566.7 423.01L567.2 445.33L567.7 478.17L568.2 508.56L568.7 531.18L569.2 546.02L569.7 553.73L570.2 557.22L570.7 558.77L571.2 559.87L571.7 560.2L572.2 560.16L572.7 560.51L573.2 561L573.7 561.14L574.2 560.76L574.7 561.34L575.2 561.74L575.7 561.8L576.2 561.6L576.7 560.95L577.2 561.42L577.7 561.06L578.2 561.06L578.7 561.34L579.2 561.61L579.7 562L580.2 561.87L580.7 561.48L581.2 562L581.7 561.79L582.2 561.81L582.7 561.54L583.2 561.77L583.7 561.67L584.2 562.15L584.7 561.87L585.2 561.84L585.7 561.89L586.2 561.91L586.7 562.18L587.2 562.23L587.7 562.34L588.2 561.87L588.7 562.35L589.2 562.57L589.7 562.61L590.2 562.3L590.7 561.52L591.2 562.47L591.7 562.47L592.2 561.5L592.7 561.88L593.2 561.88L593.7 562.4L594.2 562.25L594.7 561.86L595.2 561.76L595.7 561.75L596.2 561.67L596.7 562.51L597.2 562.69L597.7 561.84L598.2 562.48L598.7 562.73L599.2 561.83L599.7 562.29L600.2 562.13L600.7 562.77L601.2 562.63L601.7 561.59L602.2 561.79L602.7 562.52L603.2 562.13L603.7 561.98L604.2 562.2L604.7 561.98L605.2 562L605.7 560.98L606.2 560.33L606.7 560.72L607.2 559.52L607.7 559.65L608.2 559.48L608.7 558.38L609.2 558.09L609.7 557.06L610.2 556.58L610.7 556.73L611.2 556.75L611.7 556.73L612.2 555.5L612.7 556.6L613.2 556.23L613.7 556.15L614.2 556.13L614.7 555.6L615.2 553.09L615.7 548.21L616.2 541.9L616.7 533.67L617.2 528.28L617.7 529.49L618.2 536.73L618.7 544.59L619.2 552.77L619.7 557.46L620.2 559.06L620.7 559.48L621.2 557.44L621.7 552.77L622.2 547.12L622.7 542.32L623.2 543.93L623.7 548.31L624.2 554.86L624.7 558.99L625.2 561.58L625.7 562.19L626.2 561.98L626.7 562.14L627.2 561.84L627.7 561.91L628.2 562.27L628.7 563.08L629.2 562.04L629.7 562.22L630.2 562.8L630.7 562.49L631.2 562.3L631.7 563.24L632.2 562.17L632.7 562.85L633.2 562.67L633.7 562.58L634.2 562.42L634.7 562.39L635.2 562.7L635.7 563.13L636.2 562.8L636.7 563.18L637.2 563.31L637.7 562.48L638.2 563.34L638.7 562.99L639.2 562.81L639.7 562.93L640.2 563.39L640.7 562.8L641.2 562.46L641.7 563.51L642.2 562.51L642.7 562.5L643.2 563.25L643.7 562.77L644.2 562.75L644.7 563.19L645.2 563.49L645.7 562.85L646.2 563.53L646.7 563.19L647.2 563.19L647.7 563.11L648.2 562.49L648.7 562.68L649.2 563.31L649.7 563.34L650.2 562.63L650.7 563.29L651.2 563.1L651.7 563.23L652.2 563.03L652.7 562.82L653.2 562.99L653.7 563.74L654.2 562.81L654.7 563.63L655.2 563.24L655.7 562.7L656.2 563.59L656.7 562.65L657.2 563.64L657.7 563.05L658.2 563.76L658.7 563.53L659.2 563.1L659.7 563.43L660.2 563.87L660.7 562.9L661.2 562.95L661.7 563.06L662.2 563.71L662.7 563.03L663.2 563.04L663.7 563.49L664.2 563.46L664.7 563.27L665.2 563.44L665.7 562.82L666.2 562.8L666.7 562.83L667.2 562.87L667.7 563.74L668.2 564L668.7 562.98L669.2 563.3L669.7 562.87L670.2 563.38L670.7 563.66L671.2 563.63L671.7 563.97" fill="none" stroke="#1c1c1c" stroke-width="1.5" stroke-linejoin="round"/>
<path d="M492.7 560.73L493.2 560.6L493.7 560.27L494.2 561.29L494.7 560.09L495.2 560.78L495.7 561.33L496.2 560.19L496.7 560.85L497.2 560.94L497.7 560.13L498.2 560.61L498.7 561.06L499.2 560.71L499.7 561.09L500.2 560.29L500.7 560.41L501.2 560.23L501.7 560.78L502.2 561.37L502.7 560.9L503.2 561.16L503.7 560.61L504.2 561.12L504.7 560.21L505.2 560.48L505.7 561.01L506.2 561.09L506.7 560.66L507.2 560.19L507.7 560.44L508.2 560.36L508.7 560.46L509.2 561.2L509.7 560.35L510.2 561.31L510.7 561.3L511.2 560.14L511.7 560.59L512.2 560.75L512.7 560.1L513.2 560.66L513.7 561.33L514.2 560.22L514.7 560.89L515.2 560.23L515.7 560.87L516.2 561.31L516.7 560.34L517.2 560.07L517.7 560.17L518.2 560.81L518.7 560.08L519.2 560.17L519.7 560.75L520.2 561.34L520.7 560.64L521.2 560.6L521.7 560.94L522.2 560.17L522.7 560.85L523.2 560.28L523.7 560.89L524.2 561.38L524.7 560.11L525.2 560.81L525.7 560.88L526.2 560.24L526.7 560.41L527.2 561.42L527.7 561.42L528.2 560.19L528.7 561.01L529.2 561.35L529.7 560.35L530.2 560.87L530.7 560.07L531.2 560.52L531.7 560.95L532.2 560.83L532.7 561.08L533.2 560.11L533.7 560.47L534.2 561.19L534.7 560.79L535.2 560.6L535.7 560.53L536.2 561.34L536.7 560.76L537.2 559.97L537.7 561.06L538.2 560.39L538.7 560.53L539.2 560.21L539.7 560.52L540.2 560.34L540.7 559.99L541.2 560.73L541.7 559.98L542.2 560.91L542.7 559.83L543.2 560.86L543.7 560.86L544.2 560.4L544.7 560.65L545.2 559.96L545.7 560.59L546.2 560.09L546.7 559.73L547.2 560.66L547.7 559.72L548.2 559.46L548.7 559.76L549.2 558.38L549.7 557.52L550.2 554.57L550.7 551.86L551.2 545.65L551.7 538.22L552.2 531.21L552.7 521.9L553.2 516.74L553.7 514.43L554.2 516.27L554.7 521.67L555.2 529.93L555.7 538.43L556.2 545.82L556.7 551.53L557.2 555.67L557.7 557.06L558.2 558.04L558.7 559.33L559.2 559.11L559.7 559.26L560.2 560.06L560.7 560.35L561.2 559.55L561.7 560.16L562.2 560.56L562.7 560.69L563.2 560.2L563.7 560.93L564.2 559.96L564.7 560.74L565.2 560.84L565.7 561.01L566.2 560.49L566.7 559.95L567.2 559.89L567.7 560.57L568.2 560.08L568.7 560.73L569.2 559.97L569.7 560.95L570.2 560.18L570.7 559.89L571.2 560.12L571.7 560.51L572.2 560.66L572.7 560.42L573.2 560.12L573.7 560.55L574.2 561.2L574.7 560.63L575.2 561.19L575.7 559.91L576.2 561.26L576.7 561.11L577.2 560.63L577.7 560.59L578.2 560.6L578.7 561.12L579.2 559.93L579.7 560.73L580.2 560.57L580.7 560.22L581.2 560.8L581.7 560.77L582.2 559.89L582.7 560.7L583.2 560.32L583.7 560.34L584.2 560.51L584.7 559.64L585.2 560.36L585.7 559.98L586.2 560.62L586.7 559.63L587.2 560.37L587.7 560.14L588.2 559.88L588.7 560.11L589.2 558.79L589.7 559.41L590.2 559.26L590.7 559.16L591.2 558.56L591.7 557.85L592.2 557.76L592.7 558.07L593.2 557.17L593.7 556.68L594.2 556.73L594.7 556.52L595.2 556.21L595.7 555.08L596.2 555.68L596.7 554.6L597.2 554.74L597.7 553.14L598.2 553.93L598.7 552.87L599.2 552.82L599.7 552.21L600.2 551.31L600.7 549.5L601.2 548.86L601.7 547.38L602.2 546.26L602.7 542.66L603.2 538.57L603.7 532.4L604.2 524.01L604.7 514L605.2 500.1L605.7 482.97L606.2 465.95L606.7 448.5L607.2 434.22L607.7 424.8L608.2 423.04L608.7 427.95L609.2 439.86L609.7 456.3L610.2 473.66L610.7 491.51L611.2 507.94L611.7 519.76L612.2 530.14L612.7 538.7L613.2 543.03L613.7 546.98L614.2 550.3L614.7 551.66L615.2 552.33L615.7 553.02L616.2 554.06L616.7 554.73L617.2 555.98L617.7 556.72L618.2 556.91L618.7 557.48L619.2 557.9L619.7 558.17L620.2 558.55L620.7 558.9L621.2 557.94L621.7 558.48L622.2 558.6L622.7 559.29L623.2 559.3L623.7 559.25L624.2 560.07L624.7 559.58L625.2 559.42L625.7 559.61L626.2 559.95L626.7 560.24L627.2 560.24L627.7 560.12L628.2 559.82L628.7 560.16L629.2 560.09L629.7 559.91L630.2 560.46L630.7 559.99L631.2 560.75L631.7 560.7L632.2 559.99L632.7 560.68L633.2 560.3L633.7 560.46L634.2 560.7L634.7 560.93L635.2 561.11L635.7 560.91L636.2 560.18L636.7 560.66L637.2 560.37L637.7 559.94L638.2 560.69L638.7 560.58L639.2 561.14L639.7 560.39L640.2 561.11L640.7 560.66L641.2 560.09L641.7 560.96L642.2 560.36L642.7 560.71L643.2 560.07L643.7 559.98L644.2 561.26L644.7 560.04L645.2 560.19L645.7 560.21L646.2 560.12L646.7 561.14L647.2 561.38L647.7 560.9L648.2 560.55L648.7 561.24L649.2 560.71L649.7 560.19L650.2 560.97L650.7 560.51L651.2 560.39L651.7 560.46L652.2 560.55L652.7 560.27L653.2 560.88L653.7 561.24L654.2 560.82L654.7 560.04L655.2 560.98L655.7 560.05L656.2 560.7L656.7 561.24L657.2 560.98L657.7 561.3L658.2 561.09L658.7 560.42L659.2 560.24L659.7 560.67L660.2 560.99L660.7 560.36L661.2 560.5L661.7 561.09L662.2 560.53L662.7 560.88L663.2 560.81L663.7 561.35L664.2 560.08L664.7 560.31L665.2 561.14L665.7 560.99L666.2 560.19L666.7 560.24L667.2 560.35L667.7 560.81L668.2 561.32L668.7 560.36L669.2 560.34L669.7 561.02L670.2 560.65L670.7 561.24L671.2 561.46L671.7 561.37" fill="none" stroke="#e8231e" stroke-width="1.4" stroke-linejoin="round"/>
</g>
<g clip-path="url(#clipj)">
<path d="M718.3 561.78L718.8 561.92L719.3 561.93L719.8 561.51L720.3 561.41L720.8 561.7L721.3 561.62L721.8 562.04L722.3 561.95L722.8 561.88L723.3 561.84L723.8 561.93L724.3 561.51L724.8 561.75L725.3 561.53L725.8 562.12L726.3 561.44L726.8 562.05L727.3 561.46L727.8 561.95L728.3 561.67L728.8 561.72L729.3 562.07L729.8 561.41L730.3 561.44L730.8 562.13L731.3 561.8L731.8 561.47L732.3 562.18L732.8 562.15L733.3 561.49L733.8 561.73L734.3 561.5L734.8 561.64L735.3 561.89L735.8 561.53L736.3 561.95L736.8 561.44L737.3 561.53L737.8 562.05L738.3 561.71L738.8 561.73L739.3 561.87L739.8 561.78L740.3 561.7L740.8 561.42L741.3 561.97L741.8 562.17L742.3 562.17L742.8 561.92L743.3 561.68L743.8 561.68L744.3 561.95L744.8 561.93L745.3 561.48L745.8 561.58L746.3 561.68L746.8 561.8L747.3 562.04L747.8 561.79L748.3 561.42L748.8 562.05L749.3 561.74L749.8 561.81L750.3 561.57L750.8 561.73L751.3 561.7L751.8 562.01L752.3 561.47L752.8 561.83L753.3 561.53L753.8 561.95L754.3 561.42L754.8 561.61L755.3 561.67L755.8 561.9L756.3 561.43L756.8 561.76L757.3 561.56L757.8 561.62L758.3 561.77L758.8 562.16L759.3 561.77L759.8 562.15L760.3 561.52L760.8 562.13L761.3 561.68L761.8 561.54L762.3 561.99L762.8 562.12L763.3 561.39L763.8 561.6L764.3 562L764.8 561.66L765.3 561.58L765.8 561.39L766.3 561.42L766.8 561.88L767.3 562.17L767.8 562.18L768.3 561.79L768.8 561.4L769.3 561.64L769.8 562.01L770.3 562.05L770.8 561.89L771.3 561.57L771.8 561.8L772.3 561.76L772.8 561.88L773.3 561.59L773.8 562.14L774.3 562.09L774.8 561.51L775.3 561.61L775.8 562.08L776.3 561.6L776.8 562.13L777.3 561.79L777.8 561.93L778.3 561.94L778.8 561.54L779.3 561.6L779.8 561.57L780.3 561.92L780.8 561.92L781.3 561.47L781.8 562.08L782.3 561.7L782.8 561.56L783.3 561.71L783.8 562.15L784.3 561.81L784.8 561.86L785.3 562.09L785.8 562.13L786.3 561.96L786.8 561.69L787.3 561.82L787.8 562.07L788.3 561.98L788.8 561.81L789.3 561.62L789.8 561.63L790.3 561.92L790.8 561.78L791.3 561.34L791.8 561.89L792.3 562.04L792.8 561.95L793.3 562.03L793.8 562.03L794.3 561.72L794.8 561.91L795.3 561.56L795.8 561.31L796.3 561.47L796.8 561.39L797.3 561.82L797.8 561.53L798.3 561.29L798.8 561.19L799.3 560.59L799.8 560.68L800.3 560.51L800.8 559.92L801.3 559.41L801.8 559.1L802.3 558.57L802.8 558.38L803.3 557.46L803.8 556.96L804.3 556.72L804.8 556.67L805.3 556.43L805.8 556.15L806.3 556.23L806.8 555.67L807.3 555.2L807.8 554.92L808.3 552.93L808.8 547.77L809.3 537.68L809.8 519L810.3 492.35L810.8 461.92L811.3 436.95L811.8 426.24L812.3 437.07L812.8 463.05L813.3 494.06L813.8 521.39L814.3 540.19L814.8 551.74L815.3 556.83L815.8 559.36L816.3 559.9L816.8 560.58L817.3 560.93L817.8 561.27L818.3 560.91L818.8 561.18L819.3 561.57L819.8 561.61L820.3 561.18L820.8 561.47L821.3 561.68L821.8 561.42L822.3 561.67L822.8 561.69L823.3 561.95L823.8 561.64L824.3 561.75L824.8 561.5L825.3 561.82L825.8 561.51L826.3 561.66L826.8 561.56L827.3 561.52L827.8 561.39L828.3 561.47L828.8 561.73L829.3 561.5L829.8 561.34L830.3 561.96L830.8 561.55L831.3 562.07L831.8 561.8L832.3 561.64L832.8 562.03L833.3 562.05L833.8 561.59L834.3 561.44L834.8 561.86L835.3 562.02L835.8 561.83L836.3 561.98L836.8 561.68L837.3 561.85L837.8 561.57L838.3 561.68L838.8 561.66L839.3 561.67L839.8 561.68L840.3 562.01L840.8 561.5L841.3 561.53L841.8 561.57L842.3 562.14L842.8 561.79L843.3 561.41L843.8 562.04L844.3 562.07L844.8 562.03L845.3 561.66L845.8 561.96L846.3 561.62L846.8 561.49L847.3 562.07L847.8 562.04L848.3 561.55L848.8 562.08L849.3 561.4L849.8 561.63L850.3 561.39L850.8 561.52L851.3 561.51L851.8 561.95L852.3 561.62L852.8 561.53L853.3 561.53L853.8 561.63L854.3 562.07L854.8 561.87L855.3 561.47L855.8 561.93L856.3 561.81L856.8 561.74L857.3 561.81L857.8 561.91L858.3 562.03L858.8 561.79L859.3 561.9L859.8 561.76L860.3 561.89L860.8 561.7L861.3 561.72L861.8 561.8L862.3 561.96L862.8 561.61L863.3 562.13L863.8 561.78L864.3 562.07L864.8 561.94L865.3 562.15L865.8 561.94L866.3 561.73L866.8 561.71L867.3 561.88L867.8 561.99L868.3 562.06L868.8 561.49L869.3 561.33L869.8 558.67L870.3 548.38L870.8 550.41L871.3 559.72L871.8 561.55L872.3 561.48L872.8 561.94L873.3 561.88L873.8 562.16L874.3 562.16L874.8 561.99L875.3 562.15L875.8 561.42L876.3 561.58L876.8 562.13L877.3 561.77L877.8 561.56L878.3 562L878.8 561.73L879.3 561.83L879.8 561.65L880.3 561.59L880.8 561.46L881.3 561.88L881.8 562.16L882.3 562.18L882.8 562.01L883.3 562.14L883.8 561.68L884.3 561.63L884.8 562.13L885.3 561.87L885.8 561.93L886.3 561.4L886.8 561.58L887.3 561.78L887.8 561.98L888.3 562.06L888.8 562L889.3 561.67L889.8 561.7L890.3 562.08L890.8 562.19L891.3 561.78L891.8 561.55L892.3 561.89L892.8 561.82L893.3 561.68L893.8 561.58L894.3 561.7L894.8 561.89L895.3 561.5L895.8 561.83L896.3 562.16L896.8 561.99L897.3 561.6" fill="none" stroke="#1c1c1c" stroke-width="1.5" stroke-linejoin="round"/>
<path d="M718.3 553.48L718.6 554.66L718.9 558.67L719.2 553.62L719.5 554.09L719.8 554.96L720.1 550.53L720.4 554.13L720.7 555.43L721 557.22L721.3 549.54L721.6 551.84L721.9 549.5L722.2 557.41L722.5 556.13L722.8 548.96L723.1 559.3L723.4 559.11L723.7 555.69L724 555.27L724.3 550.23L724.6 548.67L724.9 554.31L725.2 549.16L725.5 550.59L725.8 551.16L726.1 548.83L726.4 553.6L726.7 553.35L727 557.77L727.3 554.21L727.6 555.54L727.9 554L728.2 555.79L728.5 553.53L728.8 551.56L729.1 559.47L729.4 559.45L729.7 557.74L730 556.29L730.3 551.97L730.6 551.03L730.9 551.68L731.2 549.27L731.5 556.93L731.8 552.9L732.1 557.81L732.4 552.75L732.7 559.04L733 557.82L733.3 548.51L733.6 550.81L733.9 558.51L734.2 553.67L734.5 559.28L734.8 552.87L735.1 549.3L735.4 555.42L735.7 557.06L736 551.47L736.3 549.46L736.6 552.16L736.9 559.1L737.2 556.84L737.5 549.8L737.8 551.21L738.1 549.61L738.4 549.16L738.7 557.27L739 550.45L739.3 554.65L739.6 553.42L739.9 550.6L740.2 556.55L740.5 549.94L740.8 555.58L741.1 549.78L741.4 553.13L741.7 550.84L742 551.47L742.3 559.18L742.6 557.34L742.9 551.85L743.2 558.23L743.5 550.82L743.8 552.84L744.1 557.9L744.4 555.56L744.7 549.6L745 559.38L745.3 550.85L745.6 551.34L745.9 557L746.2 552.12L746.5 551.76L746.8 549.31L747.1 549.49L747.4 554.91L747.7 551.17L748 555.11L748.3 552.59L748.6 553.49L748.9 559.05L749.2 553.82L749.5 554.82L749.8 558.03L750.1 550.51L750.4 550.2L750.7 558.49L751 557.5L751.3 551.24L751.6 550.59L751.9 556.63L752.2 558.84L752.5 550.66L752.8 558.95L753.1 558.2L753.4 555.14L753.7 553.14L754 549.64L754.3 548.93L754.6 559.09L754.9 551.12L755.2 556.25L755.5 551.33L755.8 557.56L756.1 555.06L756.4 551.73L756.7 550.43L757 556.42L757.3 549.26L757.6 551.01L757.9 554.65L758.2 557.88L758.5 555.26L758.8 551.58L759.1 558.59L759.4 550.74L759.7 548.68L760 551.46L760.3 553.4L760.6 549.17L760.9 550.44L761.2 552.56L761.5 554.79L761.8 549.95L762.1 552.48L762.4 558.3L762.7 559.29L763 555.73L763.3 556.1L763.6 554.93L763.9 550.04L764.2 548.89L764.5 548.7L764.8 558.51L765.1 556.21L765.4 559.09L765.7 548.73L766 555.5L766.3 553.8L766.6 556.54L766.9 552.01L767.2 559.49L767.5 549.33L767.8 554.51L768.1 556.61L768.4 558.4L768.7 556.61L769 556.24L769.3 557.23L769.6 558.57L769.9 552.37L770.2 556.04L770.5 558.41L770.8 558.08L771.1 553.09L771.4 557.2L771.7 558L772 554.8L772.3 555.37L772.6 552.71L772.9 554.91L773.2 555.2L773.5 549.38L773.8 555.53L774.1 559.43L774.4 558.18L774.7 556.51L775 552.77L775.3 556.59L775.6 554.89L775.9 553.35L776.2 557.72L776.5 549.42L776.8 556.75L777.1 548.83L777.4 555.11L777.7 553.79L778 551.03L778.3 556.18L778.6 553.97L778.9 555.26L779.2 558.63L779.5 551.31L779.8 548.62L780.1 551.81L780.4 555.96L780.7 550.73L781 550.37L781.3 558.46L781.6 555.76L781.9 553.36L782.2 558.31L782.5 552.1L782.8 555.82L783.1 550.68L783.4 553.24L783.7 557.37L784 558.56L784.3 558.18L784.6 552.73L784.9 554.91L785.2 551.98L785.5 549.99L785.8 553.96L786.1 557.7L786.4 557.82L786.7 556.31L787 558.92L787.3 551.51L787.6 550.3L787.9 553.37L788.2 551.4L788.5 550.68L788.8 552.8L789.1 555.03L789.4 553.44L789.7 551.29L790 556.8L790.3 558.05L790.6 551.8L790.9 547.09L791.2 545.91L791.5 554.27L791.8 544.01L792.1 549.98L792.4 546.78L792.7 541.87L793 544.75L793.3 533.39L793.6 531.33L793.9 530.98L794.2 521.86L794.5 525.78L794.8 513.78L795.1 506.71L795.4 499.19L795.7 498.68L796 489.41L796.3 483.94L796.6 476.61L796.9 470.71L797.2 464.98L797.5 454.92L797.8 443.06L798.1 440.24L798.4 431.95L798.7 426.05L799 428.14L799.3 428.97L799.6 422.47L799.9 424.11L800.2 426.74L800.5 433.6L800.8 435.71L801.1 441.77L801.4 449.18L801.7 451.72L802 463.15L802.3 471.8L802.6 470.36L802.9 487.27L803.2 492.45L803.5 493.18L803.8 503.66L804.1 512.04L804.4 521.18L804.7 520.8L805 527.85L805.3 535.65L805.6 538.6L805.9 543.56L806.2 541.14L806.5 545.63L806.8 542.75L807.1 550.12L807.4 552.56L807.7 551.73L808 553.45L808.3 548.61L808.6 556.72L808.9 558.03L809.2 558.32L809.5 553.73L809.8 556.71L810.1 551.67L810.4 558.26L810.7 557.74L811 552.21L811.3 549.33L811.6 553.29L811.9 554.51L812.2 556.92L812.5 553.84L812.8 548.8L813.1 557.39L813.4 549.2L813.7 557.3L814 550.4L814.3 552.18L814.6 557.17L814.9 550.05L815.2 550.14L815.5 554.18L815.8 556.46L816.1 557.74L816.4 556.08L816.7 558.9L817 553.92L817.3 558.94L817.6 549.45L817.9 550.94L818.2 554.29L818.5 551.69L818.8 556.52L819.1 555.53L819.4 554.25L819.7 557.78L820 554.66L820.3 551.93L820.6 552.69L820.9 557.8L821.2 558.41L821.5 550.79L821.8 557.86L822.1 559.15L822.4 554.27L822.7 554.8L823 550.71L823.3 554.39L823.6 554.03L823.9 555.16L824.2 548.81L824.5 559.16L824.8 554.18L825.1 552.91L825.4 557.31L825.7 554.69L826 553.9L826.3 556.1L826.6 549.22L826.9 554.43L827.2 553.05L827.5 559.03L827.8 558.66L828.1 551.46L828.4 553.7L828.7 549.9L829 553.27L829.3 557.47L829.6 558.41L829.9 553.74L830.2 551.99L830.5 550.61L830.8 555.3L831.1 558.68L831.4 549.92L831.7 557.07L832 548.75L832.3 550.64L832.6 551L832.9 556.06L833.2 552.04L833.5 552.41L833.8 555.32L834.1 549.65L834.4 556.54L834.7 549.85L835 554.12L835.3 551.26L835.6 550.68L835.9 554.33L836.2 553.3L836.5 552.63L836.8 553.05L837.1 554.32L837.4 550.26L837.7 550.75L838 555.44L838.3 555.52L838.6 554.33L838.9 557.86L839.2 555.23L839.5 557.92L839.8 551.06L840.1 556.65L840.4 557.42L840.7 558.43L841 551.97L841.3 551.96L841.6 558.65L841.9 550.9L842.2 559.48L842.5 558.26L842.8 549.97L843.1 551.13L843.4 556.49L843.7 551.35L844 549.57L844.3 557.65L844.6 553.14L844.9 557.19L845.2 549.89L845.5 552.93L845.8 556.04L846.1 548.7L846.4 550.71L846.7 556.01L847 558.53L847.3 559.15L847.6 549.77L847.9 554.06L848.2 556.84L848.5 554.03L848.8 556.04L849.1 550.58L849.4 549.28L849.7 549.67L850 548.91L850.3 554.57L850.6 554.16L850.9 554.76L851.2 550.11L851.5 550.53L851.8 550.74L852.1 557.74L852.4 559.39L852.7 558.7L853 549.55L853.3 549.18L853.6 558.97L853.9 553.58L854.2 556.91L854.5 552.1L854.8 553.64L855.1 554.17L855.4 553.23L855.7 555.11L856 548.65L856.3 556.21L856.6 557.79L856.9 550.49L857.2 553.49L857.5 556.63L857.8 552.96L858.1 550.65L858.4 550.32L858.7 554.14L859 548.67L859.3 558.33L859.6 557.32L859.9 556.25L860.2 557.97L860.5 555.42L860.8 552.95L861.1 555.1L861.4 554.05L861.7 559.31L862 557.35L862.3 551.34L862.6 558.52L862.9 556.69L863.2 557.06L863.5 557.46L863.8 552.96L864.1 558.36L864.4 558.18L864.7 556.14L865 556.94L865.3 556.92L865.6 552.96L865.9 556.45L866.2 549.28L866.5 552.26L866.8 553.66L867.1 548.62L867.4 552.41L867.7 555.53L868 555.36L868.3 551.05L868.6 558.89L868.9 555.83L869.2 552.22L869.5 555.76L869.8 554.77L870.1 554.36L870.4 552.79L870.7 559.5L871 555.56L871.3 556.21L871.6 556.88L871.9 559.28L872.2 548.75L872.5 555.27L872.8 556.63L873.1 551.32L873.4 552.92L873.7 549.06L874 550.65L874.3 552.63L874.6 549.58L874.9 551.26L875.2 558.46L875.5 554.55L875.8 554.09L876.1 559.14L876.4 554.75L876.7 559.45L877 555.52L877.3 557.4L877.6 549.34L877.9 555.07L878.2 556.85L878.5 549L878.8 558.73L879.1 550.26L879.4 553.69L879.7 550.36L880 553.95L880.3 555.22L880.6 549.14L880.9 558.9L881.2 553.13L881.5 554.29L881.8 555.08L882.1 552.52L882.4 551.64L882.7 555.71L883 554.67L883.3 551.62L883.6 556.38L883.9 551.76L884.2 548.65L884.5 551.2L884.8 548.97L885.1 550.22L885.4 556.8L885.7 552.79L886 558.37L886.3 556.73L886.6 549.05L886.9 559.38L887.2 558.89L887.5 549.31L887.8 558.46L888.1 553.22L888.4 553.75L888.7 559.2L889 551.18L889.3 554.26L889.6 558.81L889.9 556.45L890.2 553.65L890.5 559.27L890.8 557.48L891.1 555.14L891.4 549.77L891.7 555.37L892 553.51L892.3 550.74L892.6 549.07L892.9 554.31L893.2 549.87L893.5 553.37L893.8 555.85L894.1 553.51L894.4 551.38L894.7 554.9L895 553.11L895.3 557.06L895.6 554.34L895.9 559.47L896.2 558.98L896.5 556.58L896.8 551.12L897.1 549.75L897.4 558.32" fill="none" stroke="#e8231e" stroke-width="1.4" stroke-linejoin="round"/>
</g>
<line x1="71.33" y1="568.8" x2="71.33" y2="566.3" stroke="#2a2a2a" stroke-width="1"/>
<line x1="101.17" y1="568.8" x2="101.17" y2="566.3" stroke="#2a2a2a" stroke-width="1"/>
<line x1="131" y1="568.8" x2="131" y2="566.3" stroke="#2a2a2a" stroke-width="1"/>
<line x1="160.83" y1="568.8" x2="160.83" y2="566.3" stroke="#2a2a2a" stroke-width="1"/>
<line x1="190.67" y1="568.8" x2="190.67" y2="566.3" stroke="#2a2a2a" stroke-width="1"/>
<line x1="296.83" y1="568.8" x2="296.83" y2="566.3" stroke="#2a2a2a" stroke-width="1"/>
<line x1="326.67" y1="568.8" x2="326.67" y2="566.3" stroke="#2a2a2a" stroke-width="1"/>
<line x1="356.5" y1="568.8" x2="356.5" y2="566.3" stroke="#2a2a2a" stroke-width="1"/>
<line x1="386.33" y1="568.8" x2="386.33" y2="566.3" stroke="#2a2a2a" stroke-width="1"/>
<line x1="416.17" y1="568.8" x2="416.17" y2="566.3" stroke="#2a2a2a" stroke-width="1"/>
<line x1="513.52" y1="568.8" x2="513.52" y2="566.3" stroke="#2a2a2a" stroke-width="1"/>
<line x1="545.8" y1="568.8" x2="545.8" y2="566.3" stroke="#2a2a2a" stroke-width="1"/>
<line x1="578.08" y1="568.8" x2="578.08" y2="566.3" stroke="#2a2a2a" stroke-width="1"/>
<line x1="610.37" y1="568.8" x2="610.37" y2="566.3" stroke="#2a2a2a" stroke-width="1"/>
<line x1="642.65" y1="568.8" x2="642.65" y2="566.3" stroke="#2a2a2a" stroke-width="1"/>
<line x1="750.35" y1="568.8" x2="750.35" y2="566.3" stroke="#2a2a2a" stroke-width="1"/>
<line x1="782.4" y1="568.8" x2="782.4" y2="566.3" stroke="#2a2a2a" stroke-width="1"/>
<line x1="814.45" y1="568.8" x2="814.45" y2="566.3" stroke="#2a2a2a" stroke-width="1"/>
<line x1="846.5" y1="568.8" x2="846.5" y2="566.3" stroke="#2a2a2a" stroke-width="1"/>
<line x1="878.55" y1="568.8" x2="878.55" y2="566.3" stroke="#2a2a2a" stroke-width="1"/>
<clipPath id="insg"><rect x="163.1" y="412.4" width="58" height="55.4"/></clipPath>
<rect x="163.1" y="412.4" width="58" height="55.4" fill="#1c0606"/>
<g clip-path="url(#insg)"><g filter="url(#blur4)"><ellipse cx="192" cy="442" rx="13" ry="22" fill="#6a1408" opacity="0.85"/><ellipse cx="183" cy="428" rx="6" ry="10" fill="#8a1e0c" opacity="0.85"/><ellipse cx="192" cy="443" rx="6" ry="9" fill="#a02410" opacity="0.8"/></g><g filter="url(#blur1)"><polygon points="185.5,417 187,421 181,436 177.5,434" fill="#c82a18" opacity="0.8"/><ellipse cx="178.8" cy="437" rx="1.8" ry="3.2" fill="#ffa040" transform="rotate(-25 178.8 437)"/><ellipse cx="190" cy="446" rx="3" ry="4" fill="#d03010" opacity="0.8"/><ellipse cx="194.4" cy="441.6" rx="2.8" ry="2.6" fill="#ffe070"/><ellipse cx="196" cy="454" rx="2.2" ry="6.5" fill="#ff7a28"/></g></g>
<g stroke="#fff" fill="#fff"><line x1="207" y1="421.7" x2="198" y2="432" stroke-width="1.4"/><polygon points="195,436 196.5,428 201.5,432.5"/></g>
<text x="202" y="420.2" font-size="5.4" fill="#f0f0f0" stroke="#f0f0f0" stroke-width="0" text-anchor="middle" font-family="Liberation Sans, sans-serif" font-weight="bold" >monolayer</text>
<clipPath id="insh"><rect x="390.5" y="412.4" width="55.5" height="55.4"/></clipPath>
<rect x="390.5" y="412.4" width="55.5" height="55.4" fill="#1c0606"/>
<g clip-path="url(#insh)"><g filter="url(#blur4)"><ellipse cx="420" cy="442" rx="13" ry="22" fill="#6a1408" opacity="0.85"/><ellipse cx="412" cy="426" rx="6" ry="10" fill="#8a1e0c" opacity="0.85"/><ellipse cx="421" cy="444" rx="6" ry="9" fill="#a02410" opacity="0.8"/></g><g filter="url(#blur1)"><polygon points="414,417 415.5,420 411,432 408,430" fill="#b82818" opacity="0.8"/><ellipse cx="407.7" cy="434.2" rx="1.8" ry="3.2" fill="#ffa040" transform="rotate(-25 407.7 434.2)"/><ellipse cx="421" cy="445" rx="3" ry="4" fill="#d03010" opacity="0.8"/><ellipse cx="424" cy="439.7" rx="3.2" ry="3" fill="#ffe070"/><ellipse cx="426.4" cy="453" rx="2.2" ry="5.5" fill="#ff7a28"/></g></g>
<g stroke="#fff" fill="#fff"><line x1="399" y1="457.7" x2="411" y2="449" stroke-width="1.4"/><polygon points="415,446 407,447.5 411,452.5"/></g>
<text x="416.5" y="463.2" font-size="5.4" fill="#f0f0f0" stroke="#f0f0f0" stroke-width="0" text-anchor="middle" font-family="Liberation Sans, sans-serif" font-weight="bold" >homobilayer WS<tspan font-size="3.8" dy="1">2</tspan></text>
<rect x="613.9" y="412.4" width="57.8" height="55.4" fill="#14040c"/>
<circle cx="643.6" cy="438.5" r="20" fill="url(#iglow)"/>
<rect x="838" y="412.4" width="59" height="55.8" fill="#0e0404"/>
<g filter="url(#blur2)"><polygon points="872,419 878,423 868,449 856,449" fill="#901808" opacity="0.7"/><circle cx="856" cy="461.6" r="3.5" fill="#701008" opacity="0.8"/></g>
<g filter="url(#blur05)"><polygon points="872,421 876,423.5 867,447 860,447" fill="#e04420"/><polygon points="872.5,421.5 874.5,422.5 862,446 860,446" fill="#ff7a40" opacity="0.9"/><polygon points="875,425 877,427 870,444 867,444" fill="#f05a28" opacity="0.8"/><circle cx="879.5" cy="448.5" r="1.3" fill="#f0b0b0"/><circle cx="856" cy="461.6" r="1.8" fill="#f05030"/></g>
<text x="48" y="432.5" font-size="25.5" fill="#111" stroke="#111" stroke-width="0.77" text-anchor="start" font-family="Liberation Sans, sans-serif" font-weight="bold" >g</text>
<text x="274.5" y="437" font-size="25.5" fill="#111" stroke="#111" stroke-width="0.77" text-anchor="start" font-family="Liberation Sans, sans-serif" font-weight="bold" >h</text>
<text x="503.5" y="436" font-size="25.5" fill="#111" stroke="#111" stroke-width="0.77" text-anchor="start" font-family="Liberation Sans, sans-serif" font-weight="bold" >i</text>
<text x="731.5" y="434.5" font-size="25.5" fill="#111" stroke="#111" stroke-width="0.77" text-anchor="start" font-family="Liberation Sans, sans-serif" font-weight="bold" >j</text>
<text x="0" y="0" font-size="12.7" fill="#222" stroke="#222" stroke-width="0.38" text-anchor="middle" font-family="Liberation Sans, sans-serif" font-weight="bold" transform="translate(28.6,494) rotate(-90)">Intensity (a. u.)</text>
<text x="0" y="0" font-size="12.7" fill="#222" stroke="#222" stroke-width="0.38" text-anchor="middle" font-family="Liberation Sans, sans-serif" font-weight="bold" transform="translate(251,494) rotate(-90)">Intensity (a. u.)</text>
<text x="0" y="0" font-size="12.7" fill="#222" stroke="#222" stroke-width="0.38" text-anchor="middle" font-family="Liberation Sans, sans-serif" font-weight="bold" transform="translate(479.8,494) rotate(-90)">Intensity (a. u.)</text>
<text x="0" y="0" font-size="12.7" fill="#222" stroke="#222" stroke-width="0.38" text-anchor="middle" font-family="Liberation Sans, sans-serif" font-weight="bold" transform="translate(703.6,494) rotate(-90)">Intensity (a. u.)</text>
<line x1="46.5" y1="454.6" x2="66.5" y2="454.6" stroke="#e8231e" stroke-width="2.2"/>
<line x1="46.5" y1="474.4" x2="66.5" y2="474.4" stroke="#1c1c1c" stroke-width="2.2"/>
<text x="70.5" y="460" font-size="15" fill="#e8231e" stroke="#e8231e" stroke-width="0.45" text-anchor="start" font-family="Liberation Sans, sans-serif" font-weight="bold" >EL</text>
<text x="70.5" y="478.8" font-size="15" fill="#1c1c1c" stroke="#1c1c1c" stroke-width="0.45" text-anchor="start" font-family="Liberation Sans, sans-serif" font-weight="bold" >PL</text>
<text x="116" y="425.5" font-size="13" fill="#e8231e" stroke="#e8231e" stroke-width="0.39" text-anchor="start" font-family="Liberation Sans, sans-serif" font-weight="bold" >L<tspan font-size="8.45" dy="2.86">1</tspan></text>
<text x="135.5" y="424" font-size="13" fill="#1c1c1c" stroke="#1c1c1c" stroke-width="0.39" text-anchor="start" font-family="Liberation Sans, sans-serif" font-weight="bold" >L<tspan font-size="8.45" dy="2.86">1</tspan></text>
<text x="97.5" y="475.5" font-size="13" fill="#1c1c1c" stroke="#1c1c1c" stroke-width="0.39" text-anchor="start" font-family="Liberation Sans, sans-serif" font-weight="bold" >L<tspan font-size="8.45" dy="2.86">2</tspan></text>
<text x="141" y="489.5" font-size="13" fill="#1c1c1c" stroke="#1c1c1c" stroke-width="0.39" text-anchor="start" font-family="Liberation Sans, sans-serif" font-weight="bold" >X<tspan font-size="7.8" dy="-5.2">-</tspan></text>
<text x="95.5" y="515.5" font-size="13" fill="#1c1c1c" stroke="#1c1c1c" stroke-width="0.39" text-anchor="start" font-family="Liberation Sans, sans-serif" font-weight="bold" >L<tspan font-size="8.45" dy="2.86">3</tspan></text>
<text x="93" y="533" font-size="13" fill="#e8231e" stroke="#e8231e" stroke-width="0.39" text-anchor="start" font-family="Liberation Sans, sans-serif" font-weight="bold" >L<tspan font-size="8.45" dy="2.86">3</tspan></text>
<text x="146.5" y="547" font-size="13" fill="#1c1c1c" stroke="#1c1c1c" stroke-width="0.39" text-anchor="start" font-family="Liberation Sans, sans-serif" font-weight="bold" >X<tspan font-size="8.45" dy="2.86">0</tspan></text>
<line x1="112" y1="476.5" x2="125.63" y2="479.91" stroke="#1c1c1c" stroke-width="1.3"/><polygon points="130,481 125.05,482.24 126.22,477.58" fill="#1c1c1c"/>
<line x1="108.5" y1="520" x2="116.31" y2="525.43" stroke="#1c1c1c" stroke-width="1.3"/><polygon points="120,528 114.94,527.4 117.68,523.46" fill="#1c1c1c"/>
<text x="339.5" y="424.5" font-size="13" fill="#e8231e" stroke="#e8231e" stroke-width="0.39" text-anchor="start" font-family="Liberation Sans, sans-serif" font-weight="bold" >X<tspan font-size="8.45" dy="2.86">0</tspan></text>
<text x="358.5" y="424.5" font-size="13" fill="#1c1c1c" stroke="#1c1c1c" stroke-width="0.39" text-anchor="start" font-family="Liberation Sans, sans-serif" font-weight="bold" >X<tspan font-size="8.45" dy="2.86">0</tspan></text>
<text x="497.5" y="457.5" font-size="12.8" fill="#222" stroke="#222" stroke-width="0.38" text-anchor="start" font-family="Liberation Sans, sans-serif" font-weight="bold" >interlayer</text>
<text x="542" y="477.5" font-size="13" fill="#1c1c1c" stroke="#1c1c1c" stroke-width="0.39" text-anchor="start" font-family="Liberation Sans, sans-serif" font-weight="bold" >X<tspan font-size="7.8" dy="-5.2">-</tspan></text>
<text x="544" y="513.5" font-size="13" fill="#e8231e" stroke="#e8231e" stroke-width="0.39" text-anchor="start" font-family="Liberation Sans, sans-serif" font-weight="bold" >X<tspan font-size="7.8" dy="-5.2">-</tspan></text>
<text x="569.5" y="491.5" font-size="13" fill="#222" stroke="#222" stroke-width="0.39" text-anchor="start" font-family="Liberation Sans, sans-serif" font-weight="bold" >WSe<tspan font-size="8.45" dy="2.86">2</tspan></text>
<text x="613.5" y="491.5" font-size="13" fill="#222" stroke="#222" stroke-width="0.39" text-anchor="start" font-family="Liberation Sans, sans-serif" font-weight="bold" >WS<tspan font-size="8.45" dy="2.86">2</tspan></text>
<text x="613.5" y="523" font-size="13" fill="#1c1c1c" stroke="#1c1c1c" stroke-width="0.39" text-anchor="start" font-family="Liberation Sans, sans-serif" font-weight="bold" >X<tspan font-size="7.8" dy="-5.2">-</tspan></text>
<text x="592.5" y="430" font-size="13" fill="#e8231e" stroke="#e8231e" stroke-width="0.39" text-anchor="start" font-family="Liberation Sans, sans-serif" font-weight="bold" >X<tspan font-size="7.8" dy="-5.2">-</tspan></text>
<line x1="549.5" y1="480" x2="558.83" y2="503.32" stroke="#1c1c1c" stroke-width="1.3"/><polygon points="560.5,507.5 556.6,504.21 561.06,502.43" fill="#1c1c1c"/>
<text x="790" y="425.3" font-size="13" fill="#e8231e" stroke="#e8231e" stroke-width="0.39" text-anchor="start" font-family="Liberation Sans, sans-serif" font-weight="bold" >A<tspan font-size="7.8" dy="-5.2">-</tspan></text>
<text x="808" y="425.3" font-size="13" fill="#1c1c1c" stroke="#1c1c1c" stroke-width="0.39" text-anchor="start" font-family="Liberation Sans, sans-serif" font-weight="bold" >A<tspan font-size="7.8" dy="-5.2">-</tspan></text>
<g clip-path="url(#hclipg)">
<rect x="41.5" y="573.5" width="179" height="163" fill="#0a16ee"/>
<rect x="41.5" y="573.5" width="1.48" height="163" fill="#5a6cff" opacity="0.05"/>
<rect x="42.98" y="573.5" width="1.74" height="163" fill="#5a6cff" opacity="0.06"/>
<rect x="44.72" y="573.5" width="2.25" height="163" fill="#5a6cff" opacity="0.01"/>
<rect x="46.97" y="573.5" width="1.03" height="163" fill="#5a6cff" opacity="0.08"/>
<rect x="47.99" y="573.5" width="1.52" height="163" fill="#5a6cff" opacity="0.02"/>
<rect x="49.51" y="573.5" width="2.99" height="163" fill="#5a6cff" opacity="0.05"/>
<rect x="52.5" y="573.5" width="2.67" height="163" fill="#5a6cff" opacity="0.05"/>
<rect x="55.18" y="573.5" width="2.28" height="163" fill="#5a6cff" opacity="0.02"/>
<rect x="57.45" y="573.5" width="2.27" height="163" fill="#5a6cff" opacity="0.09"/>
<rect x="59.72" y="573.5" width="2.05" height="163" fill="#5a6cff" opacity="0.07"/>
<rect x="61.77" y="573.5" width="2.34" height="163" fill="#5a6cff" opacity="0.01"/>
<rect x="64.11" y="573.5" width="2.52" height="163" fill="#5a6cff" opacity="0.06"/>
<rect x="66.63" y="573.5" width="1.6" height="163" fill="#5a6cff" opacity="0"/>
<rect x="68.23" y="573.5" width="2.73" height="163" fill="#5a6cff" opacity="0.05"/>
<rect x="70.96" y="573.5" width="2.44" height="163" fill="#5a6cff" opacity="0.09"/>
<rect x="73.4" y="573.5" width="2.43" height="163" fill="#5a6cff" opacity="0.09"/>
<rect x="75.83" y="573.5" width="1.79" height="163" fill="#5a6cff" opacity="0.08"/>
<rect x="77.62" y="573.5" width="1.89" height="163" fill="#5a6cff" opacity="0.09"/>
<rect x="79.51" y="573.5" width="2.76" height="163" fill="#5a6cff" opacity="0.01"/>
<rect x="82.27" y="573.5" width="1.27" height="163" fill="#5a6cff" opacity="0.02"/>
<rect x="83.54" y="573.5" width="2.93" height="163" fill="#5a6cff" opacity="0.04"/>
<rect x="86.47" y="573.5" width="2.25" height="163" fill="#5a6cff" opacity="0.03"/>
<rect x="88.72" y="573.5" width="2.01" height="163" fill="#5a6cff" opacity="0.04"/>
<rect x="90.74" y="573.5" width="1.7" height="163" fill="#5a6cff" opacity="0.06"/>
<rect x="92.44" y="573.5" width="2.17" height="163" fill="#5a6cff" opacity="0.09"/>
<rect x="94.61" y="573.5" width="2.36" height="163" fill="#5a6cff" opacity="0.09"/>
<rect x="96.97" y="573.5" width="2.71" height="163" fill="#5a6cff" opacity="0.1"/>
<rect x="99.68" y="573.5" width="2.34" height="163" fill="#5a6cff" opacity="0.02"/>
<rect x="102.03" y="573.5" width="2.72" height="163" fill="#5a6cff" opacity="0.1"/>
<rect x="104.75" y="573.5" width="2.81" height="163" fill="#5a6cff" opacity="0.06"/>
<rect x="107.56" y="573.5" width="2.43" height="163" fill="#5a6cff" opacity="0.02"/>
<rect x="109.99" y="573.5" width="2.66" height="163" fill="#5a6cff" opacity="0.06"/>
<rect x="112.65" y="573.5" width="1.57" height="163" fill="#5a6cff" opacity="0.01"/>
<rect x="114.22" y="573.5" width="2.71" height="163" fill="#5a6cff" opacity="0.1"/>
<rect x="116.93" y="573.5" width="1.18" height="163" fill="#5a6cff" opacity="0.08"/>
<rect x="118.1" y="573.5" width="1.82" height="163" fill="#5a6cff" opacity="0.02"/>
<rect x="119.92" y="573.5" width="1.59" height="163" fill="#5a6cff" opacity="0.08"/>
<rect x="121.51" y="573.5" width="2.75" height="163" fill="#5a6cff" opacity="0"/>
<rect x="124.26" y="573.5" width="2.23" height="163" fill="#5a6cff" opacity="0"/>
<rect x="126.49" y="573.5" width="2.44" height="163" fill="#5a6cff" opacity="0.03"/>
<rect x="128.92" y="573.5" width="2.76" height="163" fill="#5a6cff" opacity="0.1"/>
<rect x="131.69" y="573.5" width="2.01" height="163" fill="#5a6cff" opacity="0.1"/>
<rect x="133.7" y="573.5" width="1.62" height="163" fill="#5a6cff" opacity="0.01"/>
<rect x="135.32" y="573.5" width="2.2" height="163" fill="#5a6cff" opacity="0"/>
<rect x="137.51" y="573.5" width="1.39" height="163" fill="#5a6cff" opacity="0.04"/>
<rect x="138.91" y="573.5" width="2.22" height="163" fill="#5a6cff" opacity="0.02"/>
<rect x="141.13" y="573.5" width="1.08" height="163" fill="#5a6cff" opacity="0.09"/>
<rect x="142.22" y="573.5" width="1.63" height="163" fill="#5a6cff" opacity="0.1"/>
<rect x="143.84" y="573.5" width="2.79" height="163" fill="#5a6cff" opacity="0.04"/>
<rect x="146.64" y="573.5" width="1.92" height="163" fill="#5a6cff" opacity="0.05"/>
<rect x="148.56" y="573.5" width="2.29" height="163" fill="#5a6cff" opacity="0.06"/>
<rect x="150.84" y="573.5" width="2.12" height="163" fill="#5a6cff" opacity="0.06"/>
<rect x="152.96" y="573.5" width="2.88" height="163" fill="#5a6cff" opacity="0.05"/>
<rect x="155.84" y="573.5" width="1.86" height="163" fill="#5a6cff" opacity="0.07"/>
<rect x="157.71" y="573.5" width="1.48" height="163" fill="#5a6cff" opacity="0.03"/>
<rect x="159.18" y="573.5" width="2.96" height="163" fill="#5a6cff" opacity="0.05"/>
<rect x="162.14" y="573.5" width="2.1" height="163" fill="#5a6cff" opacity="0"/>
<rect x="164.23" y="573.5" width="1.83" height="163" fill="#5a6cff" opacity="0.06"/>
<rect x="166.07" y="573.5" width="1.04" height="163" fill="#5a6cff" opacity="0.06"/>
<rect x="167.11" y="573.5" width="2.26" height="163" fill="#5a6cff" opacity="0.01"/>
<rect x="169.37" y="573.5" width="2.25" height="163" fill="#5a6cff" opacity="0.05"/>
<rect x="171.62" y="573.5" width="2.36" height="163" fill="#5a6cff" opacity="0.04"/>
<rect x="173.98" y="573.5" width="2.41" height="163" fill="#5a6cff" opacity="0.07"/>
<rect x="176.4" y="573.5" width="1.04" height="163" fill="#5a6cff" opacity="0.01"/>
<rect x="177.44" y="573.5" width="2.35" height="163" fill="#5a6cff" opacity="0.1"/>
<rect x="179.79" y="573.5" width="1.5" height="163" fill="#5a6cff" opacity="0.05"/>
<rect x="181.3" y="573.5" width="2.19" height="163" fill="#5a6cff" opacity="0.03"/>
<rect x="183.48" y="573.5" width="1.73" height="163" fill="#5a6cff" opacity="0.03"/>
<rect x="185.21" y="573.5" width="1.74" height="163" fill="#5a6cff" opacity="0.06"/>
<rect x="186.95" y="573.5" width="1.6" height="163" fill="#5a6cff" opacity="0.04"/>
<rect x="188.55" y="573.5" width="2.54" height="163" fill="#5a6cff" opacity="0"/>
<rect x="191.09" y="573.5" width="2.14" height="163" fill="#5a6cff" opacity="0.07"/>
<rect x="193.23" y="573.5" width="1.62" height="163" fill="#5a6cff" opacity="0.02"/>
<rect x="194.85" y="573.5" width="2.61" height="163" fill="#5a6cff" opacity="0.02"/>
<rect x="197.46" y="573.5" width="1.37" height="163" fill="#5a6cff" opacity="0.04"/>
<rect x="198.83" y="573.5" width="2.4" height="163" fill="#5a6cff" opacity="0.01"/>
<rect x="201.23" y="573.5" width="1.64" height="163" fill="#5a6cff" opacity="0.03"/>
<rect x="202.87" y="573.5" width="2.67" height="163" fill="#5a6cff" opacity="0.04"/>
<rect x="205.54" y="573.5" width="2.71" height="163" fill="#5a6cff" opacity="0.02"/>
<rect x="208.25" y="573.5" width="1.67" height="163" fill="#5a6cff" opacity="0.07"/>
<rect x="209.93" y="573.5" width="2.77" height="163" fill="#5a6cff" opacity="0.05"/>
<rect x="212.69" y="573.5" width="1.45" height="163" fill="#5a6cff" opacity="0.01"/>
<rect x="214.14" y="573.5" width="2.06" height="163" fill="#5a6cff" opacity="0.02"/>
<rect x="216.2" y="573.5" width="2.61" height="163" fill="#5a6cff" opacity="0.08"/>
<rect x="218.82" y="573.5" width="1.37" height="163" fill="#5a6cff" opacity="0.03"/>
<rect x="220.18" y="573.5" width="2.61" height="163" fill="#5a6cff" opacity="0.06"/>
<rect x="36.5" y="658" width="189" height="12" fill="#5464ff" opacity="0.3" filter="url(#blur2)"/>
</g>
<g clip-path="url(#hcliph)">
<rect x="267" y="573.5" width="179" height="163" fill="#0a16ee"/>
<rect x="267" y="573.5" width="2.61" height="163" fill="#5a6cff" opacity="0.03"/>
<rect x="269.61" y="573.5" width="1.26" height="163" fill="#5a6cff" opacity="0.03"/>
<rect x="270.87" y="573.5" width="2.59" height="163" fill="#5a6cff" opacity="0.03"/>
<rect x="273.46" y="573.5" width="1.69" height="163" fill="#5a6cff" opacity="0.04"/>
<rect x="275.15" y="573.5" width="1.84" height="163" fill="#5a6cff" opacity="0.04"/>
<rect x="276.99" y="573.5" width="2.84" height="163" fill="#5a6cff" opacity="0.02"/>
<rect x="279.83" y="573.5" width="1.01" height="163" fill="#5a6cff" opacity="0.09"/>
<rect x="280.84" y="573.5" width="2.76" height="163" fill="#5a6cff" opacity="0.1"/>
<rect x="283.6" y="573.5" width="1.87" height="163" fill="#5a6cff" opacity="0.1"/>
<rect x="285.47" y="573.5" width="2.85" height="163" fill="#5a6cff" opacity="0.02"/>
<rect x="288.33" y="573.5" width="2.49" height="163" fill="#5a6cff" opacity="0.08"/>
<rect x="290.82" y="573.5" width="2.33" height="163" fill="#5a6cff" opacity="0.05"/>
<rect x="293.14" y="573.5" width="1.58" height="163" fill="#5a6cff" opacity="0.03"/>
<rect x="294.72" y="573.5" width="1.45" height="163" fill="#5a6cff" opacity="0.01"/>
<rect x="296.18" y="573.5" width="2.18" height="163" fill="#5a6cff" opacity="0.03"/>
<rect x="298.35" y="573.5" width="2.62" height="163" fill="#5a6cff" opacity="0"/>
<rect x="300.97" y="573.5" width="2.81" height="163" fill="#5a6cff" opacity="0.07"/>
<rect x="303.78" y="573.5" width="2.85" height="163" fill="#5a6cff" opacity="0.09"/>
<rect x="306.63" y="573.5" width="2.8" height="163" fill="#5a6cff" opacity="0.06"/>
<rect x="309.43" y="573.5" width="1.03" height="163" fill="#5a6cff" opacity="0.07"/>
<rect x="310.45" y="573.5" width="1.34" height="163" fill="#5a6cff" opacity="0.03"/>
<rect x="311.8" y="573.5" width="2.33" height="163" fill="#5a6cff" opacity="0.05"/>
<rect x="314.12" y="573.5" width="1.83" height="163" fill="#5a6cff" opacity="0.09"/>
<rect x="315.95" y="573.5" width="2.22" height="163" fill="#5a6cff" opacity="0.03"/>
<rect x="318.18" y="573.5" width="1.5" height="163" fill="#5a6cff" opacity="0.09"/>
<rect x="319.68" y="573.5" width="1.95" height="163" fill="#5a6cff" opacity="0.08"/>
<rect x="321.63" y="573.5" width="1.7" height="163" fill="#5a6cff" opacity="0.02"/>
<rect x="323.34" y="573.5" width="2.07" height="163" fill="#5a6cff" opacity="0.08"/>
<rect x="325.41" y="573.5" width="1.34" height="163" fill="#5a6cff" opacity="0.08"/>
<rect x="326.75" y="573.5" width="2.84" height="163" fill="#5a6cff" opacity="0.08"/>
<rect x="329.59" y="573.5" width="2.65" height="163" fill="#5a6cff" opacity="0"/>
<rect x="332.24" y="573.5" width="2.26" height="163" fill="#5a6cff" opacity="0.09"/>
<rect x="334.5" y="573.5" width="1.1" height="163" fill="#5a6cff" opacity="0.03"/>
<rect x="335.6" y="573.5" width="1.54" height="163" fill="#5a6cff" opacity="0.05"/>
<rect x="337.14" y="573.5" width="1.85" height="163" fill="#5a6cff" opacity="0.05"/>
<rect x="338.98" y="573.5" width="2.55" height="163" fill="#5a6cff" opacity="0"/>
<rect x="341.53" y="573.5" width="1.11" height="163" fill="#5a6cff" opacity="0.01"/>
<rect x="342.64" y="573.5" width="1.25" height="163" fill="#5a6cff" opacity="0.01"/>
<rect x="343.89" y="573.5" width="2.95" height="163" fill="#5a6cff" opacity="0.09"/>
<rect x="346.84" y="573.5" width="1.17" height="163" fill="#5a6cff" opacity="0.05"/>
<rect x="348.01" y="573.5" width="1.63" height="163" fill="#5a6cff" opacity="0.03"/>
<rect x="349.65" y="573.5" width="1.7" height="163" fill="#5a6cff" opacity="0.06"/>
<rect x="351.35" y="573.5" width="2.17" height="163" fill="#5a6cff" opacity="0.04"/>
<rect x="353.52" y="573.5" width="1.38" height="163" fill="#5a6cff" opacity="0.03"/>
<rect x="354.9" y="573.5" width="1.25" height="163" fill="#5a6cff" opacity="0.06"/>
<rect x="356.15" y="573.5" width="2.43" height="163" fill="#5a6cff" opacity="0.04"/>
<rect x="358.58" y="573.5" width="1.16" height="163" fill="#5a6cff" opacity="0.02"/>
<rect x="359.74" y="573.5" width="1.75" height="163" fill="#5a6cff" opacity="0.06"/>
<rect x="361.49" y="573.5" width="2.57" height="163" fill="#5a6cff" opacity="0.04"/>
<rect x="364.06" y="573.5" width="2.6" height="163" fill="#5a6cff" opacity="0.06"/>
<rect x="366.66" y="573.5" width="1.86" height="163" fill="#5a6cff" opacity="0.04"/>
<rect x="368.52" y="573.5" width="1.99" height="163" fill="#5a6cff" opacity="0.07"/>
<rect x="370.51" y="573.5" width="1.84" height="163" fill="#5a6cff" opacity="0.07"/>
<rect x="372.35" y="573.5" width="1.92" height="163" fill="#5a6cff" opacity="0.02"/>
<rect x="374.28" y="573.5" width="2.07" height="163" fill="#5a6cff" opacity="0.07"/>
<rect x="376.35" y="573.5" width="1.14" height="163" fill="#5a6cff" opacity="0.04"/>
<rect x="377.49" y="573.5" width="1.85" height="163" fill="#5a6cff" opacity="0.09"/>
<rect x="379.34" y="573.5" width="2.87" height="163" fill="#5a6cff" opacity="0.04"/>
<rect x="382.22" y="573.5" width="2.8" height="163" fill="#5a6cff" opacity="0.08"/>
<rect x="385.01" y="573.5" width="1.52" height="163" fill="#5a6cff" opacity="0.05"/>
<rect x="386.54" y="573.5" width="1.25" height="163" fill="#5a6cff" opacity="0.08"/>
<rect x="387.78" y="573.5" width="2.32" height="163" fill="#5a6cff" opacity="0.09"/>
<rect x="390.11" y="573.5" width="2.58" height="163" fill="#5a6cff" opacity="0.07"/>
<rect x="392.69" y="573.5" width="2.47" height="163" fill="#5a6cff" opacity="0.06"/>
<rect x="395.16" y="573.5" width="1.21" height="163" fill="#5a6cff" opacity="0.06"/>
<rect x="396.37" y="573.5" width="1.01" height="163" fill="#5a6cff" opacity="0.01"/>
<rect x="397.38" y="573.5" width="2.55" height="163" fill="#5a6cff" opacity="0"/>
<rect x="399.92" y="573.5" width="1.18" height="163" fill="#5a6cff" opacity="0.01"/>
<rect x="401.11" y="573.5" width="2.76" height="163" fill="#5a6cff" opacity="0.02"/>
<rect x="403.87" y="573.5" width="1.05" height="163" fill="#5a6cff" opacity="0.08"/>
<rect x="404.92" y="573.5" width="1.24" height="163" fill="#5a6cff" opacity="0.08"/>
<rect x="406.16" y="573.5" width="2.35" height="163" fill="#5a6cff" opacity="0.08"/>
<rect x="408.5" y="573.5" width="2.9" height="163" fill="#5a6cff" opacity="0.06"/>
<rect x="411.41" y="573.5" width="2.6" height="163" fill="#5a6cff" opacity="0"/>
<rect x="414.01" y="573.5" width="2.53" height="163" fill="#5a6cff" opacity="0.05"/>
<rect x="416.54" y="573.5" width="2.43" height="163" fill="#5a6cff" opacity="0.01"/>
<rect x="418.97" y="573.5" width="2.5" height="163" fill="#5a6cff" opacity="0.09"/>
<rect x="421.47" y="573.5" width="1.12" height="163" fill="#5a6cff" opacity="0.03"/>
<rect x="422.59" y="573.5" width="2.13" height="163" fill="#5a6cff" opacity="0.08"/>
<rect x="424.72" y="573.5" width="1.48" height="163" fill="#5a6cff" opacity="0.02"/>
<rect x="426.2" y="573.5" width="1.5" height="163" fill="#5a6cff" opacity="0.06"/>
<rect x="427.7" y="573.5" width="2.51" height="163" fill="#5a6cff" opacity="0.04"/>
<rect x="430.21" y="573.5" width="1.73" height="163" fill="#5a6cff" opacity="0.04"/>
<rect x="431.95" y="573.5" width="1.7" height="163" fill="#5a6cff" opacity="0.04"/>
<rect x="433.65" y="573.5" width="1.17" height="163" fill="#5a6cff" opacity="0.05"/>
<rect x="434.81" y="573.5" width="2.95" height="163" fill="#5a6cff" opacity="0.04"/>
<rect x="437.76" y="573.5" width="2.49" height="163" fill="#5a6cff" opacity="0.02"/>
<rect x="440.25" y="573.5" width="2.38" height="163" fill="#5a6cff" opacity="0.08"/>
<rect x="442.64" y="573.5" width="2.35" height="163" fill="#5a6cff" opacity="0.05"/>
<rect x="444.98" y="573.5" width="1.97" height="163" fill="#5a6cff" opacity="0.06"/>
<rect x="262" y="639" width="189" height="12" fill="#5464ff" opacity="0.18" filter="url(#blur2)"/>
</g>
<g clip-path="url(#hclipi)">
<rect x="492.7" y="573.5" width="179" height="163" fill="#0a16ee"/>
<rect x="492.7" y="573.5" width="2.79" height="163" fill="#5a6cff" opacity="0.08"/>
<rect x="495.49" y="573.5" width="1.19" height="163" fill="#5a6cff" opacity="0.41"/>
<rect x="496.69" y="573.5" width="2.83" height="163" fill="#5a6cff" opacity="0.28"/>
<rect x="499.52" y="573.5" width="1.89" height="163" fill="#5a6cff" opacity="0.4"/>
<rect x="501.41" y="573.5" width="1.37" height="163" fill="#5a6cff" opacity="0.15"/>
<rect x="502.78" y="573.5" width="1.4" height="163" fill="#5a6cff" opacity="0.32"/>
<rect x="504.18" y="573.5" width="1.63" height="163" fill="#5a6cff" opacity="0.13"/>
<rect x="505.81" y="573.5" width="2.38" height="163" fill="#5a6cff" opacity="0.52"/>
<rect x="508.19" y="573.5" width="1.59" height="163" fill="#5a6cff" opacity="0.39"/>
<rect x="509.78" y="573.5" width="1.83" height="163" fill="#5a6cff" opacity="0.47"/>
<rect x="511.61" y="573.5" width="2.17" height="163" fill="#5a6cff" opacity="0.15"/>
<rect x="513.78" y="573.5" width="1.44" height="163" fill="#5a6cff" opacity="0.01"/>
<rect x="515.21" y="573.5" width="1.96" height="163" fill="#5a6cff" opacity="0.21"/>
<rect x="517.17" y="573.5" width="1.34" height="163" fill="#5a6cff" opacity="0.2"/>
<rect x="518.51" y="573.5" width="1.64" height="163" fill="#5a6cff" opacity="0.43"/>
<rect x="520.16" y="573.5" width="1.29" height="163" fill="#5a6cff" opacity="0.55"/>
<rect x="521.45" y="573.5" width="1.96" height="163" fill="#5a6cff" opacity="0.33"/>
<rect x="523.4" y="573.5" width="1.94" height="163" fill="#5a6cff" opacity="0.46"/>
<rect x="525.34" y="573.5" width="2.64" height="163" fill="#5a6cff" opacity="0.31"/>
<rect x="527.98" y="573.5" width="1.96" height="163" fill="#5a6cff" opacity="0.4"/>
<rect x="529.95" y="573.5" width="2.71" height="163" fill="#5a6cff" opacity="0.22"/>
<rect x="532.66" y="573.5" width="2.47" height="163" fill="#5a6cff" opacity="0.53"/>
<rect x="535.13" y="573.5" width="1.93" height="163" fill="#5a6cff" opacity="0.13"/>
<rect x="537.06" y="573.5" width="1.47" height="163" fill="#5a6cff" opacity="0.39"/>
<rect x="538.53" y="573.5" width="2.35" height="163" fill="#5a6cff" opacity="0.53"/>
<rect x="540.88" y="573.5" width="2.71" height="163" fill="#5a6cff" opacity="0.13"/>
<rect x="543.59" y="573.5" width="1.38" height="163" fill="#5a6cff" opacity="0.14"/>
<rect x="544.97" y="573.5" width="1.37" height="163" fill="#5a6cff" opacity="0.39"/>
<rect x="546.34" y="573.5" width="2.72" height="163" fill="#5a6cff" opacity="0.49"/>
<rect x="549.06" y="573.5" width="1.51" height="163" fill="#5a6cff" opacity="0.48"/>
<rect x="550.57" y="573.5" width="1.63" height="163" fill="#5a6cff" opacity="0.23"/>
<rect x="552.2" y="573.5" width="2.46" height="163" fill="#5a6cff" opacity="0.05"/>
<rect x="554.66" y="573.5" width="1.19" height="163" fill="#5a6cff" opacity="0.46"/>
<rect x="555.84" y="573.5" width="1.58" height="163" fill="#5a6cff" opacity="0.2"/>
<rect x="557.42" y="573.5" width="2.16" height="163" fill="#5a6cff" opacity="0.37"/>
<rect x="559.59" y="573.5" width="1.01" height="163" fill="#5a6cff" opacity="0.18"/>
<rect x="560.6" y="573.5" width="1.87" height="163" fill="#5a6cff" opacity="0.27"/>
<rect x="562.47" y="573.5" width="1.42" height="163" fill="#5a6cff" opacity="0.32"/>
<rect x="563.89" y="573.5" width="2.91" height="163" fill="#5a6cff" opacity="0.22"/>
<rect x="566.8" y="573.5" width="2.09" height="163" fill="#5a6cff" opacity="0.07"/>
<rect x="568.89" y="573.5" width="1.55" height="163" fill="#5a6cff" opacity="0.37"/>
<rect x="570.44" y="573.5" width="1.23" height="163" fill="#5a6cff" opacity="0.49"/>
<rect x="571.67" y="573.5" width="2.82" height="163" fill="#5a6cff" opacity="0.05"/>
<rect x="574.48" y="573.5" width="2.88" height="163" fill="#5a6cff" opacity="0.21"/>
<rect x="577.37" y="573.5" width="2.54" height="163" fill="#5a6cff" opacity="0.42"/>
<rect x="579.91" y="573.5" width="1.59" height="163" fill="#5a6cff" opacity="0.37"/>
<rect x="581.5" y="573.5" width="2.31" height="163" fill="#5a6cff" opacity="0.44"/>
<rect x="583.81" y="573.5" width="1.53" height="163" fill="#5a6cff" opacity="0.41"/>
<rect x="585.34" y="573.5" width="2.92" height="163" fill="#5a6cff" opacity="0.37"/>
<rect x="588.26" y="573.5" width="2.07" height="163" fill="#5a6cff" opacity="0.06"/>
<rect x="590.34" y="573.5" width="1.99" height="163" fill="#5a6cff" opacity="0.19"/>
<rect x="592.32" y="573.5" width="2.44" height="163" fill="#5a6cff" opacity="0.37"/>
<rect x="594.76" y="573.5" width="2.13" height="163" fill="#5a6cff" opacity="0.1"/>
<rect x="596.89" y="573.5" width="2.29" height="163" fill="#5a6cff" opacity="0.35"/>
<rect x="599.18" y="573.5" width="1.36" height="163" fill="#5a6cff" opacity="0.49"/>
<rect x="600.54" y="573.5" width="2.31" height="163" fill="#5a6cff" opacity="0.07"/>
<rect x="602.85" y="573.5" width="2.86" height="163" fill="#5a6cff" opacity="0.08"/>
<rect x="605.72" y="573.5" width="1.66" height="163" fill="#5a6cff" opacity="0.4"/>
<rect x="607.38" y="573.5" width="2.19" height="163" fill="#5a6cff" opacity="0.31"/>
<rect x="609.57" y="573.5" width="2.29" height="163" fill="#5a6cff" opacity="0.25"/>
<rect x="611.87" y="573.5" width="1.62" height="163" fill="#5a6cff" opacity="0.1"/>
<rect x="613.49" y="573.5" width="1.14" height="163" fill="#5a6cff" opacity="0.39"/>
<rect x="614.63" y="573.5" width="2.51" height="163" fill="#5a6cff" opacity="0.3"/>
<rect x="617.14" y="573.5" width="2.48" height="163" fill="#5a6cff" opacity="0.2"/>
<rect x="619.62" y="573.5" width="1.53" height="163" fill="#5a6cff" opacity="0.21"/>
<rect x="621.15" y="573.5" width="2.75" height="163" fill="#5a6cff" opacity="0.02"/>
<rect x="623.9" y="573.5" width="2.01" height="163" fill="#5a6cff" opacity="0.14"/>
<rect x="625.91" y="573.5" width="2.54" height="163" fill="#5a6cff" opacity="0.19"/>
<rect x="628.44" y="573.5" width="1.67" height="163" fill="#5a6cff" opacity="0.22"/>
<rect x="630.11" y="573.5" width="2.08" height="163" fill="#5a6cff" opacity="0.42"/>
<rect x="632.19" y="573.5" width="1.71" height="163" fill="#5a6cff" opacity="0.47"/>
<rect x="633.9" y="573.5" width="1.22" height="163" fill="#5a6cff" opacity="0.15"/>
<rect x="635.12" y="573.5" width="1.2" height="163" fill="#5a6cff" opacity="0.06"/>
<rect x="636.32" y="573.5" width="2.56" height="163" fill="#5a6cff" opacity="0.4"/>
<rect x="638.88" y="573.5" width="1.37" height="163" fill="#5a6cff" opacity="0.1"/>
<rect x="640.25" y="573.5" width="1.83" height="163" fill="#5a6cff" opacity="0.41"/>
<rect x="642.08" y="573.5" width="2.63" height="163" fill="#5a6cff" opacity="0.41"/>
<rect x="644.71" y="573.5" width="2.18" height="163" fill="#5a6cff" opacity="0.08"/>
<rect x="646.9" y="573.5" width="1.8" height="163" fill="#5a6cff" opacity="0.11"/>
<rect x="648.7" y="573.5" width="2.06" height="163" fill="#5a6cff" opacity="0.31"/>
<rect x="650.75" y="573.5" width="1.4" height="163" fill="#5a6cff" opacity="0.14"/>
<rect x="652.15" y="573.5" width="2.56" height="163" fill="#5a6cff" opacity="0.02"/>
<rect x="654.72" y="573.5" width="2.61" height="163" fill="#5a6cff" opacity="0.49"/>
<rect x="657.32" y="573.5" width="2.9" height="163" fill="#5a6cff" opacity="0.21"/>
<rect x="660.22" y="573.5" width="2.11" height="163" fill="#5a6cff" opacity="0.32"/>
<rect x="662.33" y="573.5" width="2.27" height="163" fill="#5a6cff" opacity="0.54"/>
<rect x="664.6" y="573.5" width="2.37" height="163" fill="#5a6cff" opacity="0.16"/>
<rect x="666.97" y="573.5" width="2.72" height="163" fill="#5a6cff" opacity="0.27"/>
<rect x="669.69" y="573.5" width="2.2" height="163" fill="#5a6cff" opacity="0.4"/>
<rect x="487.7" y="634" width="189" height="26" fill="#0614e6" opacity="0.9" filter="url(#blur4)"/>
<rect x="487.7" y="573" width="189" height="30" fill="#0614e6" opacity="0.3" filter="url(#blur2)"/>
</g>
<g clip-path="url(#hclipj)">
<rect x="718.3" y="573.5" width="179" height="163" fill="#0a16ee"/>
<rect x="718.3" y="573.5" width="1" height="163" fill="#5a6cff" opacity="0.08"/>
<rect x="719.3" y="573.5" width="2.32" height="163" fill="#5a6cff" opacity="0.05"/>
<rect x="721.63" y="573.5" width="2.05" height="163" fill="#5a6cff" opacity="0.05"/>
<rect x="723.68" y="573.5" width="1.39" height="163" fill="#5a6cff" opacity="0.05"/>
<rect x="725.06" y="573.5" width="1.07" height="163" fill="#5a6cff" opacity="0.05"/>
<rect x="726.14" y="573.5" width="2.29" height="163" fill="#5a6cff" opacity="0.04"/>
<rect x="728.43" y="573.5" width="2.13" height="163" fill="#5a6cff" opacity="0.1"/>
<rect x="730.56" y="573.5" width="2.78" height="163" fill="#5a6cff" opacity="0.01"/>
<rect x="733.34" y="573.5" width="2.58" height="163" fill="#5a6cff" opacity="0.06"/>
<rect x="735.93" y="573.5" width="1.1" height="163" fill="#5a6cff" opacity="0.04"/>
<rect x="737.03" y="573.5" width="1.47" height="163" fill="#5a6cff" opacity="0.01"/>
<rect x="738.5" y="573.5" width="2.08" height="163" fill="#5a6cff" opacity="0.09"/>
<rect x="740.58" y="573.5" width="1.65" height="163" fill="#5a6cff" opacity="0.09"/>
<rect x="742.22" y="573.5" width="2.39" height="163" fill="#5a6cff" opacity="0.01"/>
<rect x="744.61" y="573.5" width="2.72" height="163" fill="#5a6cff" opacity="0.06"/>
<rect x="747.33" y="573.5" width="2.85" height="163" fill="#5a6cff" opacity="0.07"/>
<rect x="750.18" y="573.5" width="2.48" height="163" fill="#5a6cff" opacity="0.03"/>
<rect x="752.66" y="573.5" width="2.61" height="163" fill="#5a6cff" opacity="0.09"/>
<rect x="755.27" y="573.5" width="2.72" height="163" fill="#5a6cff" opacity="0.04"/>
<rect x="758" y="573.5" width="2.51" height="163" fill="#5a6cff" opacity="0.05"/>
<rect x="760.51" y="573.5" width="1.22" height="163" fill="#5a6cff" opacity="0"/>
<rect x="761.73" y="573.5" width="1.16" height="163" fill="#5a6cff" opacity="0.02"/>
<rect x="762.89" y="573.5" width="1.32" height="163" fill="#5a6cff" opacity="0.05"/>
<rect x="764.21" y="573.5" width="2.4" height="163" fill="#5a6cff" opacity="0.05"/>
<rect x="766.61" y="573.5" width="1.84" height="163" fill="#5a6cff" opacity="0.06"/>
<rect x="768.45" y="573.5" width="1.61" height="163" fill="#5a6cff" opacity="0.05"/>
<rect x="770.06" y="573.5" width="2.51" height="163" fill="#5a6cff" opacity="0.04"/>
<rect x="772.57" y="573.5" width="1.36" height="163" fill="#5a6cff" opacity="0.09"/>
<rect x="773.93" y="573.5" width="2.44" height="163" fill="#5a6cff" opacity="0.04"/>
<rect x="776.37" y="573.5" width="1.74" height="163" fill="#5a6cff" opacity="0.05"/>
<rect x="778.12" y="573.5" width="2.19" height="163" fill="#5a6cff" opacity="0.02"/>
<rect x="780.31" y="573.5" width="1.01" height="163" fill="#5a6cff" opacity="0.02"/>
<rect x="781.31" y="573.5" width="2.57" height="163" fill="#5a6cff" opacity="0.01"/>
<rect x="783.88" y="573.5" width="1.92" height="163" fill="#5a6cff" opacity="0.02"/>
<rect x="785.8" y="573.5" width="1.42" height="163" fill="#5a6cff" opacity="0.02"/>
<rect x="787.22" y="573.5" width="1.81" height="163" fill="#5a6cff" opacity="0.02"/>
<rect x="789.03" y="573.5" width="1.05" height="163" fill="#5a6cff" opacity="0.01"/>
<rect x="790.08" y="573.5" width="1.34" height="163" fill="#5a6cff" opacity="0.05"/>
<rect x="791.42" y="573.5" width="1.12" height="163" fill="#5a6cff" opacity="0"/>
<rect x="792.54" y="573.5" width="1.9" height="163" fill="#5a6cff" opacity="0.04"/>
<rect x="794.43" y="573.5" width="2.41" height="163" fill="#5a6cff" opacity="0.01"/>
<rect x="796.84" y="573.5" width="1.81" height="163" fill="#5a6cff" opacity="0.04"/>
<rect x="798.65" y="573.5" width="1.05" height="163" fill="#5a6cff" opacity="0.1"/>
<rect x="799.7" y="573.5" width="1.44" height="163" fill="#5a6cff" opacity="0.01"/>
<rect x="801.14" y="573.5" width="1.95" height="163" fill="#5a6cff" opacity="0.02"/>
<rect x="803.09" y="573.5" width="2.24" height="163" fill="#5a6cff" opacity="0.03"/>
<rect x="805.33" y="573.5" width="1.25" height="163" fill="#5a6cff" opacity="0.01"/>
<rect x="806.58" y="573.5" width="2.46" height="163" fill="#5a6cff" opacity="0.03"/>
<rect x="809.04" y="573.5" width="2.58" height="163" fill="#5a6cff" opacity="0.05"/>
<rect x="811.61" y="573.5" width="2.87" height="163" fill="#5a6cff" opacity="0.03"/>
<rect x="814.48" y="573.5" width="1.5" height="163" fill="#5a6cff" opacity="0.03"/>
<rect x="815.98" y="573.5" width="2.63" height="163" fill="#5a6cff" opacity="0.06"/>
<rect x="818.61" y="573.5" width="1.69" height="163" fill="#5a6cff" opacity="0.01"/>
<rect x="820.3" y="573.5" width="2.36" height="163" fill="#5a6cff" opacity="0.1"/>
<rect x="822.66" y="573.5" width="2.18" height="163" fill="#5a6cff" opacity="0"/>
<rect x="824.84" y="573.5" width="1.06" height="163" fill="#5a6cff" opacity="0.01"/>
<rect x="825.91" y="573.5" width="1.34" height="163" fill="#5a6cff" opacity="0"/>
<rect x="827.25" y="573.5" width="1.11" height="163" fill="#5a6cff" opacity="0.07"/>
<rect x="828.35" y="573.5" width="2.8" height="163" fill="#5a6cff" opacity="0.02"/>
<rect x="831.15" y="573.5" width="2.95" height="163" fill="#5a6cff" opacity="0.05"/>
<rect x="834.1" y="573.5" width="2.61" height="163" fill="#5a6cff" opacity="0.09"/>
<rect x="836.71" y="573.5" width="2.88" height="163" fill="#5a6cff" opacity="0"/>
<rect x="839.59" y="573.5" width="1.61" height="163" fill="#5a6cff" opacity="0.06"/>
<rect x="841.2" y="573.5" width="2.89" height="163" fill="#5a6cff" opacity="0.01"/>
<rect x="844.09" y="573.5" width="1.59" height="163" fill="#5a6cff" opacity="0.08"/>
<rect x="845.68" y="573.5" width="1.23" height="163" fill="#5a6cff" opacity="0.04"/>
<rect x="846.91" y="573.5" width="1.67" height="163" fill="#5a6cff" opacity="0.07"/>
<rect x="848.58" y="573.5" width="2.86" height="163" fill="#5a6cff" opacity="0.02"/>
<rect x="851.43" y="573.5" width="2.48" height="163" fill="#5a6cff" opacity="0.07"/>
<rect x="853.91" y="573.5" width="2.67" height="163" fill="#5a6cff" opacity="0.06"/>
<rect x="856.58" y="573.5" width="2.85" height="163" fill="#5a6cff" opacity="0.04"/>
<rect x="859.43" y="573.5" width="1.83" height="163" fill="#5a6cff" opacity="0.02"/>
<rect x="861.26" y="573.5" width="2.56" height="163" fill="#5a6cff" opacity="0.05"/>
<rect x="863.82" y="573.5" width="1.54" height="163" fill="#5a6cff" opacity="0.02"/>
<rect x="865.36" y="573.5" width="2.44" height="163" fill="#5a6cff" opacity="0.06"/>
<rect x="867.8" y="573.5" width="2.42" height="163" fill="#5a6cff" opacity="0.04"/>
<rect x="870.22" y="573.5" width="1.97" height="163" fill="#5a6cff" opacity="0.02"/>
<rect x="872.2" y="573.5" width="2.42" height="163" fill="#5a6cff" opacity="0"/>
<rect x="874.62" y="573.5" width="1.93" height="163" fill="#5a6cff" opacity="0.08"/>
<rect x="876.55" y="573.5" width="2.35" height="163" fill="#5a6cff" opacity="0.01"/>
<rect x="878.91" y="573.5" width="1.47" height="163" fill="#5a6cff" opacity="0.08"/>
<rect x="880.38" y="573.5" width="2.28" height="163" fill="#5a6cff" opacity="0.09"/>
<rect x="882.66" y="573.5" width="2.74" height="163" fill="#5a6cff" opacity="0.04"/>
<rect x="885.41" y="573.5" width="2.79" height="163" fill="#5a6cff" opacity="0.07"/>
<rect x="888.2" y="573.5" width="1.67" height="163" fill="#5a6cff" opacity="0.04"/>
<rect x="889.87" y="573.5" width="1.14" height="163" fill="#5a6cff" opacity="0.04"/>
<rect x="891.01" y="573.5" width="2.91" height="163" fill="#5a6cff" opacity="0.01"/>
<rect x="893.93" y="573.5" width="2.14" height="163" fill="#5a6cff" opacity="0.01"/>
<rect x="896.06" y="573.5" width="1.16" height="163" fill="#5a6cff" opacity="0.06"/>
<rect x="897.23" y="573.5" width="1.48" height="163" fill="#5a6cff" opacity="0"/>
<rect x="713.3" y="635" width="189" height="12" fill="#5464ff" opacity="0.18" filter="url(#blur2)"/>
</g>
<path d="M121.9 572C121.88 576.67 121.78 588.67 121.8 600C121.82 611.33 122.15 628.83 122 640C121.85 651.17 120.88 658.67 120.9 667C120.92 675.33 121.8 678.17 122.1 690C122.4 701.83 122.6 730 122.7 738" fill="none" stroke="#a8b0ff" stroke-width="10.6" filter="url(#blur1)"/><path d="M121.9 572C121.88 576.67 121.78 588.67 121.8 600C121.82 611.33 122.15 628.83 122 640C121.85 651.17 120.88 658.67 120.9 667C120.92 675.33 121.8 678.17 122.1 690C122.4 701.83 122.6 730 122.7 738" fill="none" stroke="#ffffff" stroke-width="7.6" filter="url(#blur05)"/><path d="M121.4 572C121.38 576.67 121.28 588.67 121.3 600C121.32 611.33 121.65 628.83 121.5 640C121.35 651.17 120.38 658.67 120.4 667C120.42 675.33 121.3 678.17 121.6 690C121.9 701.83 122.1 730 122.2 738" fill="none" stroke="#f8c0c0" stroke-width="4.2" filter="url(#blur05)"/><path d="M121.4 572C121.38 576.67 121.28 588.67 121.3 600C121.32 611.33 121.65 628.83 121.5 640C121.35 651.17 120.38 658.67 120.4 667C120.42 675.33 121.3 678.17 121.6 690C121.9 701.83 122.1 730 122.2 738" fill="none" stroke="#d81e1e" stroke-width="2.9"/>
<path d="M348.2 572C348.08 575.67 347.35 586.83 347.5 594C347.65 601.17 348.92 608 349.1 615C349.28 622 348.8 628.5 348.6 636C348.4 643.5 348.02 643 347.9 660C347.78 677 347.9 725 347.9 738" fill="none" stroke="#a8b0ff" stroke-width="11.4" filter="url(#blur1)"/><path d="M348.2 572C348.08 575.67 347.35 586.83 347.5 594C347.65 601.17 348.92 608 349.1 615C349.28 622 348.8 628.5 348.6 636C348.4 643.5 348.02 643 347.9 660C347.78 677 347.9 725 347.9 738" fill="none" stroke="#ffffff" stroke-width="8.4" filter="url(#blur05)"/><path d="M347.2 572C347.08 575.67 346.35 586.83 346.5 594C346.65 601.17 347.92 608 348.1 615C348.28 622 347.8 628.5 347.6 636C347.4 643.5 347.02 643 346.9 660C346.78 677 346.9 725 346.9 738" fill="none" stroke="#f8c0c0" stroke-width="5" filter="url(#blur05)"/><path d="M347.2 572C347.08 575.67 346.35 586.83 346.5 594C346.65 601.17 347.92 608 348.1 615C348.28 622 347.8 628.5 347.6 636C347.4 643.5 347.02 643 346.9 660C346.78 677 346.9 725 346.9 738" fill="none" stroke="#d81e1e" stroke-width="3.8"/>
<path d="M553.6 572C553.67 580 553.9 605.33 554 620C554.1 634.67 554.2 646.67 554.2 660C554.2 673.33 554.1 687 554 700C553.9 713 553.67 731.67 553.6 738" fill="none" stroke="#a8b0ff" stroke-width="8.1" filter="url(#blur1)"/><path d="M553.6 572C553.67 580 553.9 605.33 554 620C554.1 634.67 554.2 646.67 554.2 660C554.2 673.33 554.1 687 554 700C553.9 713 553.67 731.67 553.6 738" fill="none" stroke="#ffffff" stroke-width="5.6" filter="url(#blur05)"/><path d="M553.6 572C553.67 580 553.9 605.33 554 620C554.1 634.67 554.2 646.67 554.2 660C554.2 673.33 554.1 687 554 700C553.9 713 553.67 731.67 553.6 738" fill="none" stroke="#fdf0f4" stroke-width="3.6" filter="url(#blur05)"/><path d="M553.6 572C553.67 580 553.9 605.33 554 620C554.1 634.67 554.2 646.67 554.2 660C554.2 673.33 554.1 687 554 700C553.9 713 553.67 731.67 553.6 738" fill="none" stroke="#f8e4ea" stroke-width="2.2"/>
<path d="M608.8 572C608.78 585 608.75 622.33 608.7 650C608.65 677.67 608.53 723.33 608.5 738" fill="none" stroke="#a8b0ff" stroke-width="10.3" filter="url(#blur1)"/><path d="M608.8 572C608.78 585 608.75 622.33 608.7 650C608.65 677.67 608.53 723.33 608.5 738" fill="none" stroke="#ffffff" stroke-width="7.8" filter="url(#blur05)"/><path d="M608.3 572C608.28 585 608.25 622.33 608.2 650C608.15 677.67 608.03 723.33 608 738" fill="none" stroke="#f8c0c0" stroke-width="5" filter="url(#blur05)"/><path d="M608.3 572C608.28 585 608.25 622.33 608.2 650C608.15 677.67 608.03 723.33 608 738" fill="none" stroke="#d81e1e" stroke-width="3.8"/>
<path d="M793.3 572C793.23 575.33 792.77 584.17 792.9 592C793.03 599.83 794 610.5 794.1 619C794.2 627.5 793.7 635.67 793.5 643C793.3 650.33 793.02 647.17 792.9 663C792.78 678.83 792.82 725.5 792.8 738" fill="none" stroke="#a8b0ff" stroke-width="10.6" filter="url(#blur1)"/><path d="M793.3 572C793.23 575.33 792.77 584.17 792.9 592C793.03 599.83 794 610.5 794.1 619C794.2 627.5 793.7 635.67 793.5 643C793.3 650.33 793.02 647.17 792.9 663C792.78 678.83 792.82 725.5 792.8 738" fill="none" stroke="#ffffff" stroke-width="7.6" filter="url(#blur05)"/><path d="M792.8 572C792.73 575.33 792.27 584.17 792.4 592C792.53 599.83 793.5 610.5 793.6 619C793.7 627.5 793.2 635.67 793 643C792.8 650.33 792.52 647.17 792.4 663C792.28 678.83 792.32 725.5 792.3 738" fill="none" stroke="#f8c0c0" stroke-width="4.2" filter="url(#blur05)"/><path d="M792.8 572C792.73 575.33 792.27 584.17 792.4 592C792.53 599.83 793.5 610.5 793.6 619C793.7 627.5 793.2 635.67 793 643C792.8 650.33 792.52 647.17 792.4 663C792.28 678.83 792.32 725.5 792.3 738" fill="none" stroke="#d81e1e" stroke-width="3"/>
<text x="47.9" y="600" font-size="24" fill="#fff" stroke="#fff" stroke-width="0.72" text-anchor="start" font-family="Liberation Sans, sans-serif" font-weight="bold" >k</text>
<rect x="276.2" y="581.7" width="3.8" height="17.5" fill="#fff"/>
<text x="503" y="600" font-size="25.5" fill="#fff" stroke="#fff" stroke-width="0.77" text-anchor="start" font-family="Liberation Sans, sans-serif" font-weight="bold" >m</text>
<text x="732.5" y="600" font-size="24" fill="#fff" stroke="#fff" stroke-width="0.72" text-anchor="start" font-family="Liberation Sans, sans-serif" font-weight="bold" >n</text>
<text x="37.8" y="589.22" font-size="12.6" fill="#222" stroke="#222" stroke-width="0.38" text-anchor="end" font-family="Liberation Sans, sans-serif" font-weight="bold" >6</text>
<text x="37.8" y="612.38" font-size="12.6" fill="#222" stroke="#222" stroke-width="0.38" text-anchor="end" font-family="Liberation Sans, sans-serif" font-weight="bold" >4</text>
<text x="37.8" y="635.54" font-size="12.6" fill="#222" stroke="#222" stroke-width="0.38" text-anchor="end" font-family="Liberation Sans, sans-serif" font-weight="bold" >2</text>
<text x="37.8" y="658.7" font-size="12.6" fill="#222" stroke="#222" stroke-width="0.38" text-anchor="end" font-family="Liberation Sans, sans-serif" font-weight="bold" >0</text>
<text x="37.8" y="681.86" font-size="12.6" fill="#222" stroke="#222" stroke-width="0.38" text-anchor="end" font-family="Liberation Sans, sans-serif" font-weight="bold" >-2</text>
<text x="37.8" y="705.02" font-size="12.6" fill="#222" stroke="#222" stroke-width="0.38" text-anchor="end" font-family="Liberation Sans, sans-serif" font-weight="bold" >-4</text>
<text x="37.8" y="728.18" font-size="12.6" fill="#222" stroke="#222" stroke-width="0.38" text-anchor="end" font-family="Liberation Sans, sans-serif" font-weight="bold" >-6</text>
<text x="262.8" y="589.22" font-size="12.6" fill="#222" stroke="#222" stroke-width="0.38" text-anchor="end" font-family="Liberation Sans, sans-serif" font-weight="bold" >6</text>
<text x="262.8" y="612.38" font-size="12.6" fill="#222" stroke="#222" stroke-width="0.38" text-anchor="end" font-family="Liberation Sans, sans-serif" font-weight="bold" >4</text>
<text x="262.8" y="635.54" font-size="12.6" fill="#222" stroke="#222" stroke-width="0.38" text-anchor="end" font-family="Liberation Sans, sans-serif" font-weight="bold" >2</text>
<text x="262.8" y="658.7" font-size="12.6" fill="#222" stroke="#222" stroke-width="0.38" text-anchor="end" font-family="Liberation Sans, sans-serif" font-weight="bold" >0</text>
<text x="262.8" y="681.86" font-size="12.6" fill="#222" stroke="#222" stroke-width="0.38" text-anchor="end" font-family="Liberation Sans, sans-serif" font-weight="bold" >-2</text>
<text x="262.8" y="705.02" font-size="12.6" fill="#222" stroke="#222" stroke-width="0.38" text-anchor="end" font-family="Liberation Sans, sans-serif" font-weight="bold" >-4</text>
<text x="262.8" y="728.18" font-size="12.6" fill="#222" stroke="#222" stroke-width="0.38" text-anchor="end" font-family="Liberation Sans, sans-serif" font-weight="bold" >-6</text>
<text x="487.2" y="589.22" font-size="12.6" fill="#222" stroke="#222" stroke-width="0.38" text-anchor="end" font-family="Liberation Sans, sans-serif" font-weight="bold" >6</text>
<text x="487.2" y="612.38" font-size="12.6" fill="#222" stroke="#222" stroke-width="0.38" text-anchor="end" font-family="Liberation Sans, sans-serif" font-weight="bold" >4</text>
<text x="487.2" y="635.54" font-size="12.6" fill="#222" stroke="#222" stroke-width="0.38" text-anchor="end" font-family="Liberation Sans, sans-serif" font-weight="bold" >2</text>
<text x="487.2" y="658.7" font-size="12.6" fill="#222" stroke="#222" stroke-width="0.38" text-anchor="end" font-family="Liberation Sans, sans-serif" font-weight="bold" >0</text>
<text x="487.2" y="681.86" font-size="12.6" fill="#222" stroke="#222" stroke-width="0.38" text-anchor="end" font-family="Liberation Sans, sans-serif" font-weight="bold" >-2</text>
<text x="487.2" y="705.02" font-size="12.6" fill="#222" stroke="#222" stroke-width="0.38" text-anchor="end" font-family="Liberation Sans, sans-serif" font-weight="bold" >-4</text>
<text x="487.2" y="728.18" font-size="12.6" fill="#222" stroke="#222" stroke-width="0.38" text-anchor="end" font-family="Liberation Sans, sans-serif" font-weight="bold" >-6</text>
<text x="714" y="589.22" font-size="12.6" fill="#222" stroke="#222" stroke-width="0.38" text-anchor="end" font-family="Liberation Sans, sans-serif" font-weight="bold" >6</text>
<text x="714" y="612.38" font-size="12.6" fill="#222" stroke="#222" stroke-width="0.38" text-anchor="end" font-family="Liberation Sans, sans-serif" font-weight="bold" >4</text>
<text x="714" y="635.54" font-size="12.6" fill="#222" stroke="#222" stroke-width="0.38" text-anchor="end" font-family="Liberation Sans, sans-serif" font-weight="bold" >2</text>
<text x="714" y="658.7" font-size="12.6" fill="#222" stroke="#222" stroke-width="0.38" text-anchor="end" font-family="Liberation Sans, sans-serif" font-weight="bold" >0</text>
<text x="714" y="681.86" font-size="12.6" fill="#222" stroke="#222" stroke-width="0.38" text-anchor="end" font-family="Liberation Sans, sans-serif" font-weight="bold" >-2</text>
<text x="714" y="705.02" font-size="12.6" fill="#222" stroke="#222" stroke-width="0.38" text-anchor="end" font-family="Liberation Sans, sans-serif" font-weight="bold" >-4</text>
<text x="714" y="728.18" font-size="12.6" fill="#222" stroke="#222" stroke-width="0.38" text-anchor="end" font-family="Liberation Sans, sans-serif" font-weight="bold" >-6</text>
<text x="70.73" y="748.8" font-size="12.6" fill="#222" stroke="#222" stroke-width="0.38" text-anchor="middle" font-family="Liberation Sans, sans-serif" font-weight="bold" >1.8</text>
<text x="100.57" y="748.8" font-size="12.6" fill="#222" stroke="#222" stroke-width="0.38" text-anchor="middle" font-family="Liberation Sans, sans-serif" font-weight="bold" >1.9</text>
<text x="130.4" y="748.8" font-size="12.6" fill="#222" stroke="#222" stroke-width="0.38" text-anchor="middle" font-family="Liberation Sans, sans-serif" font-weight="bold" >2.0</text>
<text x="160.23" y="748.8" font-size="12.6" fill="#222" stroke="#222" stroke-width="0.38" text-anchor="middle" font-family="Liberation Sans, sans-serif" font-weight="bold" >2.1</text>
<text x="190.07" y="748.8" font-size="12.6" fill="#222" stroke="#222" stroke-width="0.38" text-anchor="middle" font-family="Liberation Sans, sans-serif" font-weight="bold" >2.2</text>
<text x="296.23" y="748.8" font-size="12.6" fill="#222" stroke="#222" stroke-width="0.38" text-anchor="middle" font-family="Liberation Sans, sans-serif" font-weight="bold" >1.8</text>
<text x="326.07" y="748.8" font-size="12.6" fill="#222" stroke="#222" stroke-width="0.38" text-anchor="middle" font-family="Liberation Sans, sans-serif" font-weight="bold" >1.9</text>
<text x="355.9" y="748.8" font-size="12.6" fill="#222" stroke="#222" stroke-width="0.38" text-anchor="middle" font-family="Liberation Sans, sans-serif" font-weight="bold" >2.0</text>
<text x="385.73" y="748.8" font-size="12.6" fill="#222" stroke="#222" stroke-width="0.38" text-anchor="middle" font-family="Liberation Sans, sans-serif" font-weight="bold" >2.1</text>
<text x="415.57" y="748.8" font-size="12.6" fill="#222" stroke="#222" stroke-width="0.38" text-anchor="middle" font-family="Liberation Sans, sans-serif" font-weight="bold" >2.2</text>
<text x="512.92" y="748.8" font-size="12.6" fill="#222" stroke="#222" stroke-width="0.38" text-anchor="middle" font-family="Liberation Sans, sans-serif" font-weight="bold" >1.4</text>
<text x="545.2" y="748.8" font-size="12.6" fill="#222" stroke="#222" stroke-width="0.38" text-anchor="middle" font-family="Liberation Sans, sans-serif" font-weight="bold" >1.6</text>
<text x="577.48" y="748.8" font-size="12.6" fill="#222" stroke="#222" stroke-width="0.38" text-anchor="middle" font-family="Liberation Sans, sans-serif" font-weight="bold" >1.8</text>
<text x="609.77" y="748.8" font-size="12.6" fill="#222" stroke="#222" stroke-width="0.38" text-anchor="middle" font-family="Liberation Sans, sans-serif" font-weight="bold" >2.0</text>
<text x="642.05" y="748.8" font-size="12.6" fill="#222" stroke="#222" stroke-width="0.38" text-anchor="middle" font-family="Liberation Sans, sans-serif" font-weight="bold" >2.2</text>
<text x="749.75" y="748.8" font-size="12.6" fill="#222" stroke="#222" stroke-width="0.38" text-anchor="middle" font-family="Liberation Sans, sans-serif" font-weight="bold" >1.6</text>
<text x="781.8" y="748.8" font-size="12.6" fill="#222" stroke="#222" stroke-width="0.38" text-anchor="middle" font-family="Liberation Sans, sans-serif" font-weight="bold" >1.8</text>
<text x="813.85" y="748.8" font-size="12.6" fill="#222" stroke="#222" stroke-width="0.38" text-anchor="middle" font-family="Liberation Sans, sans-serif" font-weight="bold" >2.0</text>
<text x="845.9" y="748.8" font-size="12.6" fill="#222" stroke="#222" stroke-width="0.38" text-anchor="middle" font-family="Liberation Sans, sans-serif" font-weight="bold" >2.2</text>
<text x="877.95" y="748.8" font-size="12.6" fill="#222" stroke="#222" stroke-width="0.38" text-anchor="middle" font-family="Liberation Sans, sans-serif" font-weight="bold" >2.4</text>
<text x="135.7" y="760.1" font-size="12.7" fill="#222" stroke="#222" stroke-width="0.38" text-anchor="middle" font-family="Liberation Sans, sans-serif" font-weight="bold" >Energy (eV)</text>
<text x="360.5" y="760.1" font-size="12.7" fill="#222" stroke="#222" stroke-width="0.38" text-anchor="middle" font-family="Liberation Sans, sans-serif" font-weight="bold" >Energy (eV)</text>
<text x="587.8" y="760.1" font-size="12.7" fill="#222" stroke="#222" stroke-width="0.38" text-anchor="middle" font-family="Liberation Sans, sans-serif" font-weight="bold" >Energy (eV)</text>
<text x="811.5" y="760.1" font-size="12.7" fill="#222" stroke="#222" stroke-width="0.38" text-anchor="middle" font-family="Liberation Sans, sans-serif" font-weight="bold" >Energy (eV)</text>
<text x="0" y="0" font-size="12.7" fill="#222" stroke="#222" stroke-width="0.38" text-anchor="middle" font-family="Liberation Sans, sans-serif" font-weight="bold" transform="translate(15.4,653) rotate(-90)">Magnetic Field (T)</text>
<text x="0" y="0" font-size="12.7" fill="#222" stroke="#222" stroke-width="0.38" text-anchor="middle" font-family="Liberation Sans, sans-serif" font-weight="bold" transform="translate(240.6,653) rotate(-90)">Magnetic Field (T)</text>
<text x="0" y="0" font-size="12.7" fill="#222" stroke="#222" stroke-width="0.38" text-anchor="middle" font-family="Liberation Sans, sans-serif" font-weight="bold" transform="translate(465,653) rotate(-90)">Magnetic Field (T)</text>
<text x="0" y="0" font-size="12.7" fill="#222" stroke="#222" stroke-width="0.38" text-anchor="middle" font-family="Liberation Sans, sans-serif" font-weight="bold" transform="translate(693.2,653) rotate(-90)">Magnetic Field (T)</text>
<rect x="902.8" y="589" width="4.2" height="133.7" fill="url(#cbar)"/>
<text x="906.5" y="583.8" font-size="8.2" fill="#222" stroke="#222" stroke-width="0.25" text-anchor="middle" font-family="Liberation Sans, sans-serif" font-weight="bold" >Max</text>
<text x="906.5" y="734.8" font-size="8.2" fill="#222" stroke="#222" stroke-width="0.25" text-anchor="middle" font-family="Liberation Sans, sans-serif" font-weight="bold" >Min</text>
</svg>
</body></html>
